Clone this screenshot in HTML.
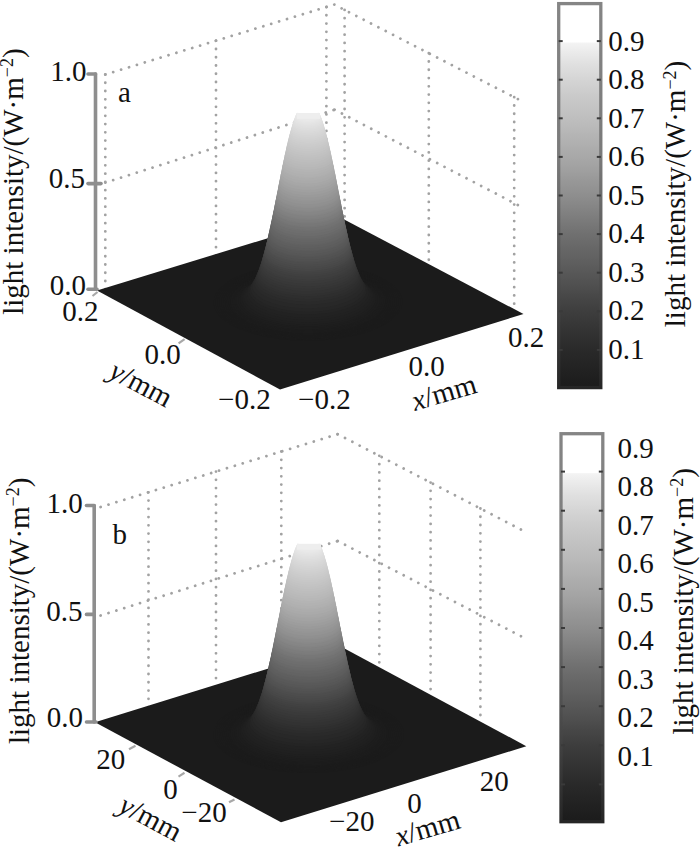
<!DOCTYPE html>
<html><head><meta charset="utf-8"><style>
html,body{margin:0;padding:0;background:#fff;}
body{width:700px;height:848px;overflow:hidden;}
svg{display:block;}
text{font-family:"Liberation Serif", serif;font-size:29px;fill:#111;}
.dt{stroke:#a2a2a2;stroke-width:2.8;stroke-dasharray:0.01 8.25;stroke-linecap:round;fill:none;}
.ax{stroke:#8e8e8e;stroke-width:3.6;stroke-linecap:round;}
.cb{stroke:#6a6a6a;stroke-width:3.4;}
.ft{stroke:#a8a8a8;stroke-width:2.2;}
.cbt{stroke:#3a3a3a;stroke-width:2;}
</style></head><body>
<svg width="700" height="848" viewBox="0 0 700 848">
<line x1="105.3" y1="74.5" x2="334.3" y2="4.6" class="dt"/>
<line x1="334.3" y1="4.6" x2="520" y2="100.2" class="dt"/>
<line x1="105.3" y1="182.6" x2="334.6" y2="109.7" class="dt"/>
<line x1="334.6" y1="109.7" x2="520.5" y2="206.4" class="dt"/>
<line x1="105.3" y1="74.5" x2="105.3" y2="290" class="dt"/>
<line x1="216" y1="40.7099" x2="216" y2="290" class="dt"/>
<line x1="326.4" y1="7.0114" x2="326.4" y2="290" class="dt"/>
<line x1="344.6" y1="9.90253" x2="344.6" y2="290" class="dt"/>
<line x1="428.8" y1="53.2494" x2="428.8" y2="300" class="dt"/>
<line x1="514.2" y1="97.2141" x2="514.2" y2="312" class="dt"/>
<path d="M97 290.5L280 389.5L523.5 314L338.5 216.5Z" fill="#1b1b1b"/>
<path d="M213.7 300.8L214.5 297L216.3 293.3L218.9 289.7L222.4 286.1L226.7 282.8L231.8 279.6L237.6 276.6L244.1 273.9L251.3 271.5L258.9 269.3L267.1 267.5L275.6 266L284.5 264.9L293.6 264.1L302.8 263.7L312 263.6L321.3 263.9L330.4 264.6L339.2 265.7L347.8 267.1L356 268.8L363.8 270.9L371 273.2L377.6 275.9L383.5 278.8L388.7 281.9L393.1 285.2L396.7 288.7L399.4 292.3L401.3 296L402.3 299.8L402.3 303.5L401.5 307.3L399.7 311L397.1 314.7L393.6 318.2L389.3 321.6L384.2 324.7L378.4 327.7L371.9 330.4L364.7 332.9L357.1 335L348.9 336.8L340.4 338.3L331.5 339.5L322.4 340.3L313.2 340.7L304 340.7L294.7 340.4L285.6 339.7L276.8 338.7L268.2 337.3L260 335.5L252.2 333.5L245 331.1L238.4 328.5L232.5 325.6L227.3 322.5L222.9 319.1L219.3 315.7L216.6 312.1L214.7 308.3L213.7 304.6Z" fill="#1b1b1b"/>
<path d="M215.6 300.8L216.4 297.1L218.1 293.5L220.7 289.9L224.1 286.4L228.3 283.1L233.3 280L239 277.1L245.4 274.5L252.4 272.1L259.9 270L267.9 268.2L276.3 266.7L284.9 265.6L293.8 264.8L302.9 264.4L312 264.4L321 264.7L329.9 265.3L338.6 266.4L347 267.8L355.1 269.5L362.6 271.5L369.7 273.8L376.2 276.4L382 279.2L387.1 282.3L391.4 285.5L394.9 288.9L397.6 292.5L399.4 296.1L400.4 299.8L400.4 303.5L399.6 307.2L397.9 310.9L395.3 314.4L391.9 317.9L387.7 321.2L382.7 324.3L377 327.2L370.6 329.8L363.6 332.2L356.1 334.3L348.1 336.1L339.7 337.6L331.1 338.7L322.2 339.5L313.1 339.9L304 340L295 339.6L286.1 339L277.4 337.9L269 336.6L260.9 334.9L253.4 332.8L246.3 330.5L239.8 327.9L234 325.1L228.9 322L224.6 318.8L221.1 315.4L218.4 311.8L216.6 308.2L215.6 304.5Z" fill="#1b1b1b"/>
<path d="M217.4 300.8L218.3 297.2L219.9 293.6L222.5 290.1L225.8 286.7L230 283.5L234.9 280.5L240.5 277.6L246.7 275L253.5 272.7L260.9 270.6L268.7 268.9L276.9 267.4L285.4 266.3L294.1 265.6L303 265.2L311.9 265.1L320.7 265.4L329.5 266.1L338 267.1L346.2 268.4L354.1 270.1L361.5 272.1L368.4 274.4L374.8 276.9L380.5 279.7L385.4 282.7L389.7 285.8L393.1 289.2L395.8 292.7L397.6 296.2L398.5 299.8L398.6 303.5L397.7 307.1L396.1 310.7L393.5 314.1L390.2 317.5L386 320.8L381.1 323.8L375.5 326.6L369.3 329.2L362.5 331.6L355.1 333.7L347.3 335.4L339.1 336.8L330.6 337.9L321.9 338.7L313 339.1L304.1 339.2L295.3 338.9L286.5 338.2L278 337.2L269.8 335.8L261.9 334.2L254.5 332.2L247.6 329.9L241.2 327.4L235.5 324.6L230.6 321.6L226.3 318.4L222.9 315.1L220.2 311.6L218.4 308.1L217.5 304.4Z" fill="#1b1b1b"/>
<path d="M219.3 300.8L220.1 297.3L221.8 293.8L224.3 290.3L227.5 287L231.6 283.9L236.4 280.9L241.9 278.1L248 275.6L254.7 273.3L261.9 271.2L269.5 269.5L277.6 268.1L285.9 267L294.4 266.3L303.1 265.9L311.8 265.9L320.5 266.2L329 266.8L337.4 267.8L345.4 269.1L353.1 270.7L360.4 272.7L367.2 274.9L373.4 277.4L378.9 280.1L383.8 283L388 286.2L391.4 289.4L393.9 292.8L395.7 296.3L396.6 299.8L396.7 303.4L395.9 306.9L394.2 310.4L391.7 313.9L388.5 317.2L384.4 320.3L379.6 323.3L374.1 326.1L368 328.7L361.3 330.9L354.1 333L346.5 334.7L338.4 336.1L330.1 337.2L321.6 337.9L312.9 338.3L304.2 338.4L295.5 338.1L287 337.4L278.6 336.4L270.6 335.1L262.9 333.5L255.6 331.5L248.8 329.3L242.6 326.8L237.1 324.1L232.2 321.2L228 318L224.6 314.8L222.1 311.4L220.3 307.9L219.4 304.4Z" fill="#1b1b1b"/>
<path d="M221.2 300.8L222 297.3L223.6 293.9L226 290.5L229.3 287.3L233.2 284.2L237.9 281.3L243.3 278.6L249.3 276.1L255.8 273.8L262.9 271.9L270.4 270.2L278.2 268.8L286.4 267.7L294.7 267L303.2 266.6L311.7 266.6L320.2 266.9L328.6 267.5L336.7 268.5L344.6 269.8L352.2 271.4L359.3 273.3L365.9 275.4L372 277.9L377.4 280.5L382.2 283.4L386.3 286.4L389.6 289.7L392.1 293L393.8 296.4L394.7 299.8L394.8 303.3L394 306.8L392.4 310.2L390 313.6L386.7 316.8L382.8 319.9L378.1 322.8L372.7 325.5L366.7 328L360.2 330.3L353.1 332.3L345.6 333.9L337.8 335.3L329.6 336.4L321.3 337.1L312.8 337.5L304.3 337.5L295.8 337.2L287.4 336.6L279.3 335.6L271.4 334.3L263.8 332.7L256.7 330.9L250.1 328.7L244 326.2L238.6 323.6L233.8 320.7L229.7 317.7L226.4 314.5L223.9 311.1L222.2 307.7L221.3 304.3Z" fill="#1b1b1b"/>
<path d="M223.1 300.8L223.9 297.4L225.5 294L227.8 290.7L231 287.6L234.9 284.5L239.4 281.7L244.7 279L250.5 276.6L257 274.4L263.9 272.4L271.2 270.8L278.9 269.5L286.8 268.4L295 267.7L303.3 267.3L311.6 267.3L319.9 267.6L328.1 268.2L336.1 269.1L343.8 270.4L351.2 272L358.2 273.8L364.7 276L370.6 278.3L375.9 280.9L380.6 283.7L384.6 286.7L387.8 289.9L390.3 293.1L392 296.4L392.8 299.8L392.9 303.2L392.1 306.6L390.5 310L388.2 313.3L385 316.4L381.1 319.4L376.6 322.3L371.3 325L365.5 327.4L359 329.6L352.1 331.5L344.8 333.2L337.1 334.5L329.2 335.6L321 336.3L312.7 336.7L304.4 336.7L296.1 336.4L287.9 335.8L279.9 334.8L272.2 333.6L264.8 332L257.8 330.2L251.3 328L245.4 325.7L240.1 323.1L235.4 320.2L231.4 317.3L228.2 314.1L225.7 310.9L224 307.5L223.2 304.2Z" fill="#1b1b1b"/>
<path d="M225 300.7L225.8 297.4L227.3 294.1L229.6 290.9L232.7 287.8L236.5 284.8L241 282L246.1 279.4L251.8 277.1L258.1 274.9L264.8 273L272 271.4L279.5 270.1L287.3 269.1L295.3 268.4L303.4 268L311.5 268L319.7 268.3L327.7 268.9L335.5 269.8L343 271L350.3 272.5L357.1 274.4L363.4 276.4L369.2 278.8L374.4 281.3L379 284.1L382.9 287L386 290L388.4 293.2L390.1 296.5L390.9 299.8L391 303.1L390.2 306.4L388.7 309.7L386.4 312.9L383.3 316L379.5 319L375 321.8L369.9 324.4L364.2 326.8L357.9 328.9L351.2 330.8L344 332.4L336.5 333.7L328.7 334.7L320.7 335.4L312.6 335.8L304.5 335.8L296.3 335.6L288.3 334.9L280.5 334L273 332.8L265.7 331.3L258.9 329.4L252.6 327.4L246.8 325L241.6 322.5L237 319.7L233.1 316.8L230 313.8L227.6 310.6L225.9 307.3L225.1 304Z" fill="#1b1b1b"/>
<path d="M226.9 300.6L227.6 297.3L229.1 294.1L231.4 291L234.4 288L238.1 285.1L242.5 282.4L247.5 279.8L253.1 277.5L259.2 275.4L265.8 273.5L272.8 272L280.2 270.7L287.8 269.7L295.6 269L303.5 268.7L311.5 268.6L319.4 268.9L327.2 269.5L334.9 270.4L342.2 271.6L349.3 273.1L355.9 274.9L362.1 276.9L367.8 279.2L372.9 281.7L377.4 284.3L381.2 287.2L384.3 290.2L386.6 293.3L388.2 296.5L389 299.7L389.1 303L388.4 306.2L386.9 309.4L384.6 312.5L381.6 315.6L377.9 318.5L373.5 321.2L368.5 323.7L362.9 326.1L356.8 328.2L350.2 330L343.2 331.6L335.8 332.9L328.2 333.9L320.4 334.5L312.5 334.9L304.5 334.9L296.6 334.7L288.8 334.1L281.1 333.2L273.8 332L266.7 330.5L260.1 328.7L253.9 326.7L248.2 324.4L243.1 321.9L238.6 319.2L234.8 316.4L231.7 313.4L229.4 310.3L227.8 307.1L227 303.8Z" fill="#1b1b1b"/>
<path d="M228.8 300.4L229.5 297.3L231 294.2L233.2 291.1L236.1 288.1L239.7 285.3L244 282.7L248.9 280.2L254.4 277.9L260.4 275.8L266.8 274L273.6 272.5L280.8 271.2L288.2 270.3L295.9 269.6L303.6 269.3L311.4 269.2L319.1 269.5L326.8 270.1L334.2 271L341.4 272.1L348.3 273.6L354.8 275.3L360.9 277.3L366.4 279.5L371.4 282L375.7 284.6L379.5 287.4L382.5 290.3L384.8 293.3L386.3 296.4L387.2 299.6L387.2 302.8L386.5 305.9L385 309.1L382.8 312.1L379.9 315.1L376.3 317.9L372 320.6L367.1 323L361.6 325.3L355.6 327.4L349.2 329.2L342.4 330.7L335.2 332L327.8 332.9L320.1 333.6L312.4 333.9L304.6 334L296.9 333.7L289.2 333.1L281.8 332.3L274.6 331.1L267.7 329.6L261.2 327.9L255.1 325.9L249.6 323.7L244.6 321.3L240.3 318.6L236.5 315.9L233.5 312.9L231.2 309.9L229.7 306.8L228.8 303.6Z" fill="#1b1b1b"/>
<path d="M230.7 300.2L231.4 297.2L232.8 294.1L235 291.1L237.8 288.2L241.4 285.5L245.6 282.9L250.3 280.4L255.7 278.2L261.5 276.2L267.8 274.5L274.5 273L281.5 271.7L288.7 270.8L296.2 270.2L303.7 269.8L311.3 269.8L318.9 270L326.3 270.6L333.6 271.5L340.6 272.6L347.4 274L353.7 275.7L359.6 277.7L365 279.8L369.9 282.2L374.1 284.8L377.7 287.5L380.7 290.3L382.9 293.3L384.5 296.3L385.3 299.4L385.3 302.5L384.6 305.6L383.2 308.6L381 311.6L378.2 314.5L374.6 317.3L370.4 319.9L365.7 322.3L360.3 324.5L354.5 326.5L348.2 328.3L341.5 329.8L334.5 331L327.3 332L319.8 332.6L312.3 332.9L304.7 333L297.1 332.7L289.7 332.2L282.4 331.3L275.4 330.1L268.6 328.7L262.3 327L256.4 325.1L251 322.9L246.1 320.6L241.9 318L238.3 315.3L235.3 312.4L233.1 309.5L231.5 306.4L230.7 303.3Z" fill="#1c1c1c"/>
<path d="M232.6 300L233.3 296.9L234.7 294L236.8 291.1L239.6 288.2L243 285.6L247.1 283L251.7 280.7L256.9 278.5L262.6 276.5L268.8 274.8L275.3 273.4L282.1 272.2L289.2 271.2L296.4 270.6L303.8 270.3L311.2 270.2L318.6 270.5L325.9 271L333 271.9L339.8 273L346.4 274.4L352.6 276L358.3 277.9L363.6 280L368.4 282.4L372.5 284.9L376 287.5L378.9 290.3L381.1 293.2L382.6 296.1L383.4 299.1L383.4 302.2L382.7 305.2L381.3 308.2L379.2 311.1L376.4 313.9L373 316.6L368.9 319.1L364.3 321.5L359.1 323.7L353.4 325.6L347.2 327.3L340.7 328.8L333.9 330L326.8 330.9L319.6 331.5L312.2 331.9L304.8 331.9L297.4 331.6L290.1 331.1L283 330.3L276.2 329.1L269.6 327.7L263.4 326.1L257.7 324.2L252.4 322.1L247.6 319.8L243.5 317.3L240 314.6L237.1 311.9L234.9 309L233.4 306L232.6 303Z" fill="#1c1c1c"/>
<path d="M234.5 299.6L235.1 296.6L236.5 293.7L238.5 290.9L241.3 288.2L244.6 285.5L248.6 283.1L253.2 280.8L258.2 278.6L263.8 276.7L269.8 275.1L276.1 273.6L282.8 272.5L289.7 271.6L296.7 271L303.9 270.6L311.1 270.6L318.3 270.8L325.4 271.4L332.4 272.2L339 273.3L345.4 274.7L351.5 276.3L357.1 278.1L362.2 280.2L366.8 282.4L370.9 284.9L374.3 287.4L377.1 290.1L379.3 293L380.7 295.8L381.5 298.8L381.5 301.7L380.9 304.7L379.5 307.6L377.5 310.4L374.7 313.2L371.4 315.8L367.4 318.3L362.8 320.6L357.8 322.7L352.2 324.6L346.2 326.3L339.9 327.7L333.2 328.8L326.3 329.7L319.3 330.4L312.1 330.7L304.9 330.7L297.7 330.5L290.6 329.9L283.6 329.1L277 328L270.6 326.7L264.5 325.1L258.9 323.2L253.8 321.2L249.2 318.9L245.1 316.5L241.7 313.9L238.9 311.2L236.7 308.4L235.3 305.5L234.5 302.5Z" fill="#1c1c1c"/>
<path d="M236.4 299.1L237 296.2L238.3 293.4L240.3 290.6L243 288L246.3 285.4L250.1 283L254.6 280.7L259.5 278.7L264.9 276.8L270.7 275.2L276.9 273.8L283.4 272.7L290.1 271.8L297 271.2L304 270.9L311.1 270.8L318.1 271.1L325 271.6L331.7 272.4L338.2 273.5L344.5 274.8L350.3 276.4L355.8 278.2L360.8 280.2L365.3 282.4L369.3 284.7L372.6 287.2L375.4 289.9L377.4 292.6L378.9 295.4L379.6 298.3L379.6 301.2L379 304L377.7 306.9L375.7 309.6L373 312.3L369.7 314.9L365.9 317.3L361.4 319.5L356.5 321.6L351.1 323.4L345.3 325.1L339.1 326.5L332.6 327.6L325.9 328.5L319 329.1L312 329.4L304.9 329.4L297.9 329.2L291 328.7L284.3 327.9L277.8 326.8L271.5 325.5L265.7 323.9L260.2 322.1L255.2 320.1L250.7 317.9L246.7 315.5L243.4 313L240.6 310.4L238.6 307.6L237.1 304.8L236.4 302Z" fill="#1d1d1d"/>
<path d="M238.3 298.4L238.9 295.6L240.2 292.9L242.1 290.2L244.7 287.6L247.9 285.1L251.7 282.8L256 280.6L260.8 278.6L266.1 276.8L271.7 275.2L277.8 273.8L284.1 272.7L284.7 272.6L291.1 271.8L297.6 271.2L304.2 270.9L310.9 270.8L317.5 271.1L324.1 271.6L330.5 272.3L336.6 273.3L343.5 274.8L349.2 276.3L354.6 278.1L359.4 280L363.8 282.2L367.7 284.5L370.9 286.9L373.6 289.5L375.6 292.2L377 294.9L377.7 297.7L377.7 300.5L377.1 303.3L375.8 306L373.9 308.7L371.3 311.3L368.1 313.8L364.3 316.1L360 318.3L355.2 320.3L349.9 322.1L344.3 323.7L338.2 325.1L331.9 326.2L325.4 327L318.7 327.6L311.9 327.9L305 328L298.2 327.7L291.5 327.2L284.9 326.5L278.6 325.4L272.5 324.1L266.8 322.6L261.4 320.9L256.6 318.9L252.2 316.8L248.3 314.5L245.1 312L242.4 309.4L240.4 306.8L239 304L238.3 301.2Z" fill="#1d1d1d"/>
<path d="M240.1 297.6L240.8 294.9L242 292.2L243.9 289.6L246.4 287.1L249.5 284.6L253.2 282.4L257.4 280.2L263.3 277.8L268.3 276L273.7 274.5L279.4 273.3L285.4 272.2L291.6 271.4L297.9 270.9L304.3 270.6L310.8 270.5L317.3 270.8L323.6 271.2L329.8 272L335.9 273L341.6 274.2L347 275.6L352 277.3L353.3 277.8L356.6 279.1L358 279.7L362.3 281.8L366 284L369.2 286.4L371.8 288.9L373.8 291.5L375.1 294.2L375.8 296.9L375.9 299.6L375.2 302.3L374 305L372.1 307.6L369.6 310.1L366.5 312.5L362.8 314.8L358.6 317L353.9 318.9L348.8 320.7L343.3 322.2L337.4 323.5L331.3 324.6L324.9 325.4L318.4 326L311.8 326.3L305.1 326.3L298.5 326.1L291.9 325.6L285.5 324.9L279.4 323.8L273.5 322.6L267.9 321.1L262.7 319.4L258 317.5L253.7 315.4L250 313.2L246.8 310.8L244.2 308.3L242.2 305.7L240.9 303L240.2 300.3Z" fill="#1e1e1e"/>
<path d="M242 296.5L242.6 293.9L243.9 291.3L245.7 288.8L248.1 286.3L251.2 283.9L254.7 281.7L256.2 280.8L260.2 278.8L264.6 277L269.5 275.3L274.7 273.9L280.2 272.6L286 271.6L292 270.8L298.2 270.3L304.4 270L310.7 270L317 270.2L323.2 270.6L329.2 271.4L335.1 272.3L340.6 273.5L345.9 274.9L350.8 276.5L355.2 278.3L359.3 280.3L360.8 281.1L364.4 283.3L367.5 285.6L370 288.1L371.9 290.6L373.2 293.2L373.9 295.8L374 298.5L373.4 301.1L372.1 303.7L370.3 306.3L367.9 308.7L364.8 311.1L361.3 313.3L357.2 315.4L352.7 317.3L347.7 319L342.3 320.5L336.6 321.7L330.6 322.8L324.4 323.6L318.1 324.1L311.7 324.4L305.2 324.5L298.7 324.3L292.4 323.8L286.2 323L280.1 322.1L274.4 320.8L269 319.4L264 317.7L259.4 315.9L255.2 313.9L251.6 311.7L248.5 309.4L246 306.9L244.1 304.4L242.8 301.8L242.1 299.2Z" fill="#1f1f1f"/>
<path d="M243.9 295.2L244.5 292.7L245.7 290.1L247.5 287.7L249.9 285.3L251.6 283.9L254.4 281.7L257.8 279.6L261.6 277.7L265.9 275.9L270.6 274.3L275.7 272.9L281 271.6L286.7 270.7L292.5 269.9L298.5 269.4L304.6 269.1L310.7 269.1L316.7 269.3L322.7 269.7L328.6 270.4L334.3 271.4L339.7 272.5L344.8 273.9L349.5 275.4L353.9 277.2L357.8 279.1L361.2 281.1L364.1 283.3L365.8 284.6L368.2 287L370.1 289.4L371.4 292L372 294.5L372.1 297.1L371.5 299.7L370.3 302.2L368.5 304.7L366.1 307L363.2 309.3L359.8 311.5L355.8 313.5L351.4 315.3L346.5 317L341.3 318.5L335.8 319.7L330 320.7L324 321.5L317.8 322L311.6 322.3L305.3 322.4L299 322.1L292.8 321.7L286.8 321L280.9 320L275.4 318.8L270.1 317.4L265.2 315.8L260.8 314L256.7 312.1L253.2 309.9L250.2 307.7L247.8 305.3L245.9 302.9L244.6 300.4L244 297.8Z" fill="#202020"/>
<path d="M245.8 293.6L246.4 291.1L247.5 288.6L249.3 286.2L251.6 283.9L253.1 282.5L255.8 280.3L259.1 278.3L262.9 276.4L267 274.6L271.6 273.1L276.5 271.7L281.7 270.5L287.2 269.6L292.9 268.8L298.7 268.3L304.6 268L310.6 268L316.5 268.2L322.3 268.7L328 269.3L333.6 270.2L338.8 271.3L343.8 272.7L348.4 274.2L352.6 275.9L356.4 277.7L359.8 279.7L362.6 281.9L364.1 283.3L366.5 285.6L368.3 288L369.5 290.4L370.1 292.9L370.2 295.4L369.6 297.9L368.5 300.3L366.7 302.7L364.4 305.1L361.6 307.3L358.2 309.4L354.4 311.3L350.1 313.1L345.4 314.7L340.3 316.1L335 317.3L329.3 318.3L323.5 319.1L317.5 319.6L311.4 319.9L305.3 319.9L299.3 319.7L293.3 319.3L287.4 318.6L281.7 317.6L276.3 316.5L271.2 315.1L266.5 313.6L262.1 311.8L258.2 309.9L254.8 307.9L251.9 305.7L249.5 303.4L247.7 301L246.5 298.6L245.9 296.1Z" fill="#212121"/>
<path d="M247.5 291.9L248 289.5L249.1 287.1L250.8 284.7L252.6 282.6L254.8 280.4L257.5 278.3L260.6 276.4L264.3 274.5L268.3 272.8L272.7 271.3L277.5 270L282.6 268.8L287.9 267.9L293.4 267.2L299 266.7L304.7 266.4L310.5 266.4L316.2 266.6L321.9 267L327.4 267.7L332.8 268.6L337.9 269.6L342.7 270.9L347.1 272.4L351.2 274L354.9 275.8L358.1 277.8L360.9 279.8L363.1 282L364.9 284.1L366.7 286.4L367.9 288.8L368.5 291.2L368.5 293.6L368 296.1L366.9 298.5L365.2 300.8L362.9 303L360.2 305.2L356.9 307.2L353.1 309.1L349 310.9L344.4 312.4L339.5 313.8L334.3 315L328.8 316L323.1 316.7L317.3 317.2L311.4 317.5L305.4 317.5L299.5 317.3L293.7 316.9L288 316.2L282.4 315.3L277.2 314.2L272.2 312.8L267.6 311.3L263.4 309.6L259.6 307.8L256.2 305.8L253.4 303.6L251.1 301.4L249.3 299.1L248.1 296.7L247.5 294.3Z" fill="#222222"/>
<path d="M249.4 289.5L249.9 287.2L251 284.9L252.6 282.6L254 280.7L256.1 278.6L258.7 276.6L261.8 274.6L265.3 272.8L269.3 271.2L273.6 269.7L278.2 268.4L283.2 267.3L288.4 266.4L293.7 265.7L299.2 265.2L304.8 265L310.4 264.9L316 265.1L321.6 265.5L327 266.2L332.2 267L337.1 268.1L341.8 269.3L346.2 270.8L350.2 272.4L353.8 274.1L356.9 276L359.6 278L361.8 280.1L363.5 282.3L364.8 284.2L366 286.6L366.6 288.9L366.6 291.2L366.1 293.6L365 295.9L363.4 298.2L361.2 300.4L358.5 302.4L355.4 304.4L351.7 306.3L347.7 307.9L343.3 309.5L338.5 310.8L333.4 311.9L328.1 312.9L322.6 313.6L317 314.1L311.3 314.3L305.5 314.4L299.8 314.2L294.1 313.7L288.6 313.1L283.2 312.2L278.1 311.1L273.3 309.8L268.9 308.4L264.8 306.7L261.1 304.9L257.9 303L255.1 300.9L252.9 298.8L251.2 296.5L250 294.2L249.4 291.9Z" fill="#242424"/>
<path d="M250.8 287.5L251.3 285.2L252.4 282.9L254 280.3L255.5 278.2L257.6 276.1L260.1 274.1L263.1 272.3L266.6 270.5L270.4 268.9L274.6 267.5L279.1 266.2L283.9 265.1L288.9 264.3L294.1 263.6L299.5 263.1L304.9 262.9L310.4 262.8L315.8 263L321.2 263.4L326.4 264.1L331.5 264.9L336.3 265.9L340.8 267.1L345.1 268.5L349 270.1L352.5 271.8L355.5 273.6L358.1 275.6L360.2 277.6L361.9 279.7L363.5 282.3L364.6 284.6L365.2 286.9L365.2 289.2L364.7 291.4L363.6 293.7L362 295.9L359.9 298L357.3 300.1L354.2 302L350.7 303.8L346.7 305.5L342.4 306.9L337.8 308.2L332.8 309.3L327.6 310.3L322.3 311L316.8 311.4L311.2 311.7L305.6 311.7L300 311.5L294.4 311.1L289 310.5L283.8 309.6L278.9 308.6L274.2 307.3L269.8 305.9L265.8 304.3L262.2 302.5L259.1 300.6L256.4 298.6L254.2 296.5L252.5 294.3L251.4 292.1L250.8 289.8Z" fill="#262626"/>
<path d="M252.4 284.8L252.9 282.5L254 280.3L255.6 277.3L257.1 275.3L259.1 273.2L261.5 271.3L264.5 269.5L267.8 267.8L271.5 266.3L275.6 264.9L280 263.6L284.6 262.6L289.5 261.7L294.6 261.1L299.7 260.6L305 260.4L310.3 260.4L315.6 260.6L320.8 260.9L325.9 261.5L330.8 262.3L335.4 263.3L339.9 264.5L344 265.9L347.7 267.4L351.1 269L354.1 270.8L356.6 272.7L358.7 274.7L360.3 276.8L361.9 279.7L363 281.9L363.5 284.1L363.6 286.4L363.1 288.6L362 290.8L360.5 292.9L358.4 295L355.9 297L352.9 298.9L349.4 300.6L345.6 302.2L341.4 303.6L336.9 304.9L332.1 306L327.1 306.9L321.9 307.5L316.5 308L311.1 308.3L305.6 308.3L300.2 308.1L294.8 307.7L289.6 307.1L284.5 306.2L279.7 305.2L275.2 304L270.9 302.6L267 301.1L263.5 299.4L260.5 297.5L257.9 295.6L255.8 293.5L254.1 291.4L253 289.2L252.5 287Z" fill="#282828"/>
<path d="M254.1 281.6L254.6 279.5L255.7 277L256.7 274.9L258.2 272.9L260.2 270.9L262.6 269.1L265.4 267.3L268.7 265.6L272.3 264.1L276.3 262.7L280.6 261.5L285.1 260.5L289.9 259.7L294.9 259L299.9 258.6L305.1 258.4L310.3 258.3L315.4 258.5L320.5 258.9L325.5 259.5L330.3 260.3L334.8 261.2L339.2 262.4L343.2 263.7L346.9 265.2L350.2 266.8L353.1 268.6L355.6 270.4L357.6 272.4L359.1 274.4L360.2 276.4L361.3 278.9L361.9 281L361.9 283.2L361.4 285.4L360.4 287.5L358.9 289.6L356.9 291.6L354.5 293.5L351.5 295.3L348.2 297L344.5 298.6L340.4 299.9L336 301.2L331.4 302.2L326.5 303.1L321.4 303.7L316.3 304.2L311 304.4L305.7 304.4L300.4 304.3L295.2 303.9L290.1 303.3L285.2 302.5L280.6 301.5L276.1 300.3L272 298.9L268.3 297.4L264.9 295.8L261.9 294L259.4 292.1L257.3 290.1L255.7 288.1L254.7 285.9L254.1 283.8Z" fill="#2a2a2a"/>
<path d="M255.3 279.1L255.7 277L257.6 272.8L259.1 270.8L261 268.9L263.4 267.1L266.2 265.3L269.4 263.7L273 262.2L276.9 260.9L281.1 259.7L285.5 258.7L290.2 257.9L295.1 257.2L300.1 256.8L305.1 256.6L310.2 256.5L315.3 256.7L320.3 257.1L325.2 257.7L329.9 258.4L334.4 259.4L338.6 260.5L342.6 261.8L346.2 263.3L349.4 264.9L352.3 266.6L354.7 268.4L356.7 270.3L358.2 272.3L359.2 274.3L360.2 276.4L360.7 278.5L360.7 280.7L360.3 282.8L359.3 284.9L357.8 286.9L355.8 288.9L353.4 290.7L350.6 292.5L347.3 294.2L343.7 295.7L339.7 297L335.4 298.2L330.9 299.3L326.1 300.1L321.1 300.7L316.1 301.2L310.9 301.4L305.7 301.5L300.6 301.3L295.5 300.9L290.5 300.3L285.7 299.5L281.2 298.5L276.8 297.4L272.8 296.1L269.1 294.6L265.8 293L262.9 291.2L260.4 289.4L258.4 287.4L256.9 285.4L255.8 283.3L255.3 281.2Z" fill="#2c2c2c"/>
<path d="M256.2 277L256.7 274.9L257.6 272.6L258.6 270.6L260 268.6L261.9 266.8L264.2 264.9L266.9 263.2L270.1 261.6L273.6 260.2L277.4 258.9L281.6 257.7L286 256.7L290.6 255.9L295.3 255.3L300.2 254.9L305.2 254.6L310.2 254.6L315.1 254.8L320 255.2L324.8 255.7L329.5 256.5L333.9 257.4L338 258.5L341.9 259.8L345.5 261.2L348.7 262.8L351.5 264.5L353.9 266.2L355.8 268.1L357.3 270.1L358.3 272.1L359.2 274.3L359.7 276.4L359.8 278.5L359.3 280.5L358.4 282.6L356.9 284.6L355 286.5L352.6 288.4L349.8 290.1L346.6 291.7L343 293.2L339.1 294.6L334.9 295.7L330.5 296.7L325.8 297.6L320.9 298.2L315.9 298.6L310.9 298.9L305.8 298.9L300.7 298.7L295.7 298.3L290.8 297.8L286.1 297L281.6 296L277.4 294.9L273.4 293.6L269.8 292.2L266.6 290.6L263.7 288.9L261.3 287L259.3 285.1L257.8 283.1L256.8 281.1L256.3 279Z" fill="#2e2e2e"/>
<path d="M257.2 274.7L257.6 272.6L258.3 270.8L259.3 268.8L260.7 266.9L262.5 265L264.8 263.2L267.5 261.6L270.6 260L274.1 258.5L277.9 257.2L281.9 256.1L286.3 255.1L290.8 254.3L295.5 253.7L300.3 253.3L305.2 253.1L310.1 253.1L315 253.2L319.9 253.6L324.6 254.2L329.2 254.9L333.5 255.8L337.6 256.9L341.5 258.2L345 259.6L348.1 261.1L350.9 262.8L353.2 264.5L355.1 266.4L356.6 268.3L357.6 270.3L358.3 272.1L358.8 274.1L358.8 276.1L358.4 278.2L357.4 280.2L356 282.1L354.1 284L351.8 285.8L349.1 287.6L345.9 289.2L342.4 290.6L338.6 291.9L334.4 293.1L330 294.1L325.4 294.9L320.7 295.5L315.8 295.9L310.8 296.1L305.8 296.2L300.9 296L296 295.6L291.2 295.1L286.5 294.3L282.1 293.4L278 292.3L274.1 291L270.5 289.6L267.3 288L264.5 286.3L262.1 284.5L260.2 282.7L258.7 280.7L257.7 278.7L257.2 276.7Z" fill="#303030"/>
<path d="M257.9 272.8L258.3 270.8L259.3 268.3L260.2 266.3L261.5 264.4L263.4 262.6L265.6 260.8L268.3 259.2L271.3 257.6L274.7 256.2L278.4 255L282.4 253.8L286.7 252.9L291.1 252.1L295.7 251.5L300.5 251.1L305.3 250.9L310.1 250.8L314.9 251L319.7 251.4L324.3 251.9L328.8 252.7L333 253.6L337.1 254.6L340.8 255.9L344.3 257.2L347.4 258.8L350.1 260.4L352.4 262.1L354.2 263.9L355.7 265.8L356.6 267.7L357.6 270.3L358.1 272.3L358.1 274.3L357.7 276.3L356.7 278.3L355.3 280.2L353.5 282.1L351.2 283.9L348.5 285.5L345.4 287.1L341.9 288.6L338.1 289.9L334.1 291L329.7 292L325.2 292.8L320.5 293.4L315.7 293.8L310.8 294L305.9 294L301 293.9L296.1 293.5L291.4 292.9L286.8 292.2L282.5 291.3L278.4 290.2L274.5 288.9L271 287.5L267.9 286L265.1 284.3L262.8 282.6L260.9 280.7L259.4 278.8L258.4 276.8L257.9 274.8Z" fill="#323232"/>
<path d="M258.8 270.2L259.3 268.3L260 266.3L260.9 264.3L262.2 262.5L264 260.7L266.2 258.9L268.8 257.3L271.8 255.8L275.2 254.4L278.9 253.1L282.8 252L287 251.1L291.4 250.3L295.9 249.7L300.6 249.3L305.3 249.1L310.1 249.1L314.8 249.3L319.5 249.6L324.1 250.2L328.5 250.9L332.7 251.8L336.7 252.8L340.4 254L343.7 255.4L346.8 256.9L349.5 258.5L351.7 260.2L353.6 262L355 263.8L355.9 265.7L356.6 267.7L357.1 269.7L357.2 271.7L356.7 273.6L355.8 275.6L354.5 277.5L352.6 279.3L350.4 281.1L347.7 282.7L344.7 284.3L341.3 285.7L337.6 287L333.6 288.1L329.3 289L324.9 289.8L320.3 290.4L315.5 290.8L310.7 291L305.9 291.1L301.1 290.9L296.3 290.5L291.7 290L287.2 289.3L283 288.4L278.9 287.3L275.2 286L271.7 284.7L268.6 283.2L265.9 281.5L263.6 279.8L261.8 278L260.3 276.1L259.4 274.2L258.9 272.2Z" fill="#343434"/>
<path d="M259.5 268.2L260 266.3L260.7 264.2L261.6 262.3L262.9 260.4L264.7 258.7L266.8 257L269.4 255.3L272.4 253.8L275.7 252.5L279.3 251.2L283.2 250.1L287.3 249.2L291.6 248.5L296.1 247.9L300.7 247.5L305.4 247.3L310 247.2L314.7 247.4L319.3 247.8L323.8 248.3L328.2 249L332.3 249.9L336.2 250.9L339.9 252.1L343.2 253.5L346.2 254.9L348.8 256.5L351.1 258.2L352.9 259.9L354.3 261.8L355.2 263.6L355.9 265.7L356.4 267.7L356.5 269.6L356 271.6L355.1 273.5L353.8 275.3L352 277.1L349.8 278.9L347.2 280.5L344.2 282L340.8 283.4L337.1 284.7L333.2 285.8L329 286.7L324.6 287.5L320.1 288.1L315.4 288.5L310.7 288.7L305.9 288.7L301.2 288.6L296.5 288.2L291.9 287.7L287.5 286.9L283.3 286.1L279.3 285L275.6 283.8L272.3 282.4L269.2 280.9L266.5 279.3L264.3 277.6L262.4 275.8L261 274L260.1 272.1L259.6 270.1Z" fill="#363636"/>
<path d="M260.2 266.1L260.7 264.2L261.4 262L262.2 260.1L263.6 258.3L265.3 256.6L267.5 254.9L270 253.3L272.9 251.8L276.2 250.5L279.7 249.2L283.5 248.2L287.6 247.3L291.9 246.5L296.3 245.9L300.8 245.5L305.4 245.3L310 245.3L314.6 245.5L319.2 245.8L323.6 246.3L327.9 247L332 247.9L335.8 248.9L339.4 250.1L342.7 251.4L345.6 252.9L348.2 254.4L350.4 256.1L352.2 257.8L353.6 259.6L354.5 261.5L355.2 263.6L355.7 265.6L355.8 267.5L355.3 269.4L354.4 271.3L353.1 273.1L351.3 274.9L349.2 276.6L346.6 278.2L343.6 279.7L340.3 281.1L336.7 282.3L332.8 283.4L328.7 284.3L324.4 285.1L319.9 285.7L315.3 286.1L310.6 286.3L306 286.3L301.3 286.1L296.7 285.8L292.2 285.3L287.8 284.5L283.7 283.7L279.8 282.6L276.1 281.4L272.8 280.1L269.8 278.6L267.2 277L264.9 275.4L263.1 273.6L261.7 271.8L260.8 269.9L260.3 268Z" fill="#383838"/>
<path d="M260.9 263.9L261.4 262L262.1 259.7L262.9 257.9L264.2 256.1L265.9 254.4L268.1 252.7L270.6 251.1L273.4 249.7L276.6 248.4L280.1 247.2L283.9 246.1L287.9 245.2L292.1 244.5L296.4 243.9L300.9 243.5L305.4 243.3L310 243.3L314.5 243.4L319 243.8L323.3 244.3L327.6 245L331.6 245.8L335.4 246.9L338.9 248L342.2 249.3L345.1 250.7L347.6 252.3L349.8 253.9L351.6 255.6L352.9 257.4L353.8 259.2L354.5 261.5L355 263.3L355.1 265.2L354.6 267.1L353.8 269L352.4 270.8L350.7 272.5L348.5 274.2L346 275.8L343.1 277.3L339.8 278.6L336.3 279.9L332.5 280.9L328.4 281.8L324.1 282.6L319.7 283.2L315.2 283.6L310.6 283.8L306 283.8L301.4 283.6L296.8 283.3L292.4 282.8L288.1 282.1L284 281.2L280.2 280.2L276.6 279L273.3 277.7L270.4 276.2L267.8 274.7L265.6 273L263.8 271.3L262.4 269.5L261.5 267.6L261 265.8Z" fill="#3a3a3a"/>
<path d="M261.7 261.6L262.1 259.7L262.5 258.1L263.4 256.3L264.7 254.6L266.4 252.8L268.5 251.2L271 249.7L273.8 248.2L277 246.9L280.4 245.7L284.1 244.7L288.1 243.8L292.3 243.1L296.6 242.5L301 242.1L305.5 241.9L310 241.9L314.4 242L318.9 242.4L323.2 242.9L327.4 243.6L331.4 244.4L335.1 245.4L338.6 246.6L341.8 247.9L344.7 249.3L347.2 250.8L349.4 252.4L351.1 254.1L352.5 255.8L353.4 257.6L354.3 261.1L354.3 262.9L353.9 264.8L353.1 266.6L351.8 268.4L350.1 270.1L347.9 271.8L345.4 273.3L342.6 274.8L339.4 276.1L335.9 277.3L332.1 278.4L328.1 279.3L323.9 280L319.6 280.6L315.1 281L310.6 281.2L306 281.2L301.5 281L297 280.7L292.7 280.2L288.4 279.5L284.4 278.6L280.6 277.6L277.1 276.5L273.8 275.2L270.9 273.7L268.4 272.2L266.2 270.6L264.4 268.9L263.1 267.1L262.2 265.3L261.7 263.4Z" fill="#3c3c3c"/>
<path d="M262.1 260L262.5 258.1L263.2 255.7L264.1 253.9L265.3 252.2L267 250.5L269.1 248.9L271.5 247.4L274.3 246L277.4 244.7L280.8 243.5L284.5 242.5L288.4 241.6L292.5 240.9L296.7 240.3L301.1 239.9L305.5 239.7L309.9 239.7L314.3 239.9L318.7 240.2L323 240.7L327.1 241.4L331 242.2L334.7 243.2L338.1 244.3L341.3 245.6L344.1 247L346.6 248.5L348.7 250.1L350.5 251.7L351.8 253.5L352.7 255.2L353.4 257.6L353.8 259.5L353.9 261.3L353.5 263.1L352.6 265L351.3 266.7L349.6 268.4L347.5 270.1L345 271.6L342.2 273.1L339 274.4L335.6 275.6L331.9 276.6L327.9 277.5L323.7 278.2L319.4 278.8L315 279.2L310.5 279.4L306 279.4L301.6 279.2L297.1 278.9L292.8 278.4L288.6 277.7L284.6 276.9L280.9 275.9L277.4 274.7L274.2 273.4L271.3 272L268.8 270.5L266.6 268.9L264.9 267.2L263.5 265.4L262.6 263.6L262.2 261.8Z" fill="#3e3e3e"/>
<path d="M262.8 257.5L263.2 255.7L263.7 254.1L264.5 252.3L265.8 250.6L267.4 248.9L269.5 247.3L271.9 245.8L274.7 244.4L277.8 243.1L281.1 242L284.8 240.9L288.6 240.1L292.7 239.4L296.9 238.8L301.2 238.4L305.5 238.2L309.9 238.2L314.3 238.4L318.6 238.7L322.8 239.2L326.9 239.9L330.8 240.7L334.4 241.7L337.8 242.8L340.9 244L343.8 245.4L346.2 246.9L348.3 248.5L350 250.1L351.3 251.8L352.2 253.6L352.7 255.2L353.1 257L353.2 258.8L352.8 260.6L351.9 262.4L350.7 264.2L349 265.9L346.9 267.5L344.5 269L341.7 270.4L338.6 271.7L335.2 272.9L331.5 273.9L327.6 274.8L323.5 275.5L319.3 276L314.9 276.4L310.5 276.6L306.1 276.6L301.7 276.5L297.3 276.2L293 275.7L288.9 275L285 274.2L281.3 273.2L277.9 272L274.7 270.8L271.9 269.4L269.4 267.9L267.3 266.3L265.5 264.6L264.2 262.9L263.3 261.1L262.9 259.3Z" fill="#404040"/>
<path d="M263.3 255.8L263.7 254.1L264.2 252.4L265 250.6L266.2 248.9L267.9 247.3L269.9 245.7L272.3 244.2L275 242.8L278.1 241.5L281.4 240.4L285 239.4L288.8 238.5L292.8 237.8L297 237.3L301.2 236.9L305.5 236.7L309.9 236.7L314.2 236.8L318.5 237.2L322.6 237.7L326.7 238.3L330.5 239.1L334.1 240.1L337.5 241.2L340.6 242.4L343.4 243.8L345.8 245.3L347.9 246.8L349.6 248.4L350.9 250.1L351.7 251.9L352.2 253.6L352.7 255.4L352.7 257.1L352.3 258.9L351.5 260.7L350.2 262.4L348.6 264.1L346.5 265.7L344.1 267.2L341.3 268.6L338.2 269.9L334.9 271L331.2 272L327.4 272.9L323.3 273.6L319.1 274.2L314.8 274.5L310.5 274.7L306.1 274.8L301.7 274.6L297.4 274.3L293.2 273.8L289.1 273.1L285.2 272.3L281.6 271.3L278.2 270.2L275.1 269L272.2 267.6L269.8 266.1L267.7 264.5L266 262.9L264.7 261.2L263.8 259.4L263.3 257.6Z" fill="#424242"/>
<path d="M263.8 254.1L264.2 252.4L264.7 250.6L265.5 248.9L266.7 247.2L268.3 245.6L270.3 244L272.7 242.5L275.4 241.2L278.4 239.9L281.7 238.8L285.3 237.8L289 236.9L293 236.2L297.1 235.7L301.3 235.3L305.6 235.1L309.9 235.1L314.1 235.3L318.4 235.6L322.5 236.1L326.5 236.7L330.3 237.5L333.9 238.5L337.2 239.6L340.3 240.8L343 242.1L345.4 243.6L347.5 245.1L349.1 246.7L350.4 248.4L351.3 250.1L352.2 253.6L352.2 255.4L351.8 257.2L351 258.9L349.8 260.6L348.1 262.3L346.1 263.9L343.7 265.3L341 266.7L337.9 268L334.6 269.1L331 270.2L327.2 271L323.2 271.7L319 272.3L314.8 272.6L310.5 272.8L306.1 272.8L301.8 272.7L297.5 272.4L293.4 271.9L289.3 271.2L285.5 270.4L281.9 269.4L278.5 268.3L275.4 267.1L272.6 265.7L270.2 264.3L268.1 262.7L266.4 261.1L265.1 259.4L264.3 257.7L263.8 255.9Z" fill="#444444"/>
<path d="M264.3 252.4L264.7 250.6L265.1 248.8L265.9 247.1L267.1 245.5L268.7 243.8L270.7 242.3L273.1 240.8L275.7 239.5L278.7 238.2L282 237.1L285.5 236.1L289.2 235.3L293.2 234.6L297.2 234.1L301.4 233.7L305.6 233.5L309.9 233.5L314.1 233.7L318.3 234L322.3 234.5L326.3 235.1L330 235.9L333.6 236.8L336.9 237.9L339.9 239.1L342.6 240.5L345 241.9L347 243.4L348.7 245L349.9 246.7L350.8 248.4L351.3 250.1L351.7 251.9L351.7 253.6L351.3 255.4L350.5 257.1L349.3 258.8L347.7 260.4L345.7 262L343.3 263.5L340.6 264.8L337.6 266.1L334.3 267.2L330.7 268.2L327 269.1L323 269.8L318.9 270.3L314.7 270.7L310.4 270.9L306.1 270.9L301.9 270.7L297.6 270.4L293.5 269.9L289.5 269.3L285.7 268.5L282.1 267.5L278.8 266.4L275.7 265.2L273 263.9L270.6 262.4L268.5 260.9L266.9 259.3L265.6 257.6L264.7 255.9L264.3 254.1Z" fill="#474747"/>
<path d="M264.7 250.6L265.1 248.8L265.6 247L266.4 245.3L267.6 243.7L269.2 242.1L271.1 240.6L273.4 239.1L276.1 237.8L279 236.5L282.3 235.4L285.7 234.5L289.4 233.6L293.3 233L297.3 232.4L301.4 232.1L305.6 231.9L309.8 231.9L314 232L318.1 232.3L322.2 232.8L326.1 233.4L329.8 234.2L333.3 235.2L336.6 236.2L339.6 237.4L342.2 238.7L344.6 240.2L346.6 241.7L348.2 243.2L349.5 244.9L350.3 246.6L350.8 248.3L351.2 250.1L351.3 251.8L350.9 253.6L350.1 255.3L348.9 256.9L347.3 258.5L345.3 260.1L342.9 261.5L340.3 262.9L337.3 264.2L334 265.3L330.5 266.3L326.8 267.1L322.8 267.8L318.8 268.3L314.6 268.7L310.4 268.9L306.1 268.9L301.9 268.7L297.7 268.4L293.7 267.9L289.7 267.3L286 266.5L282.4 265.6L279.1 264.5L276.1 263.3L273.4 261.9L271 260.5L269 259L267.3 257.4L266.1 255.7L265.2 254L264.8 252.3Z" fill="#494949"/>
<path d="M265.2 248.7L265.6 247L266.1 245.2L266.8 243.5L268 241.9L269.6 240.3L271.5 238.8L273.8 237.4L276.4 236L279.4 234.8L282.5 233.7L286 232.7L289.6 231.9L297.4 230.7L301.5 230.4L305.7 230.2L309.8 230.2L313.9 230.3L318 230.6L322 231.1L325.9 231.7L329.5 232.5L333 233.4L336.2 234.5L339.2 235.7L341.9 237L344.2 238.4L346.2 239.9L347.8 241.4L349 243L349.9 244.7L350.8 248.3L350.8 250L350.4 251.7L349.6 253.4L348.4 255L346.8 256.6L344.9 258.2L342.6 259.6L339.9 260.9L337 262.2L333.7 263.3L330.3 264.3L326.6 265.1L322.7 265.8L318.7 266.3L314.6 266.6L310.4 266.8L306.2 266.9L302 266.7L297.9 266.4L293.8 265.9L289.9 265.3L286.2 264.5L282.7 263.6L279.4 262.5L276.4 261.3L273.8 260L271.4 258.6L269.4 257.1L267.8 255.5L266.5 253.8L265.7 252.2L265.2 250.4Z" fill="#4b4b4b"/>
<path d="M265.7 246.9L266.5 243.3L267.3 241.6L268.5 240L270 238.5L271.9 237L274.2 235.6L276.8 234.2L279.7 233L282.8 232L286.2 231L289.9 230.2L293.6 229.5L297.6 229L301.6 228.7L305.7 228.5L309.8 228.5L313.9 228.6L317.9 228.9L321.9 229.4L325.7 230L329.3 230.8L332.7 231.7L335.9 232.7L338.9 233.9L341.5 235.2L343.8 236.6L345.8 238L347.3 239.6L348.6 241.2L349.4 242.8L349.9 244.7L350.3 246.4L350.3 248.1L349.9 249.8L349.2 251.5L348 253.1L346.4 254.7L344.5 256.2L342.2 257.6L339.6 258.9L336.6 260.2L333.5 261.2L330 262.2L326.4 263L322.5 263.7L318.6 264.2L314.5 264.6L310.3 264.8L306.2 264.8L302.1 264.6L298 264.3L294 263.9L290.1 263.2L286.5 262.4L283 261.5L279.8 260.5L276.8 259.3L274.1 258L271.8 256.6L269.8 255.1L268.2 253.5L267 251.9L266.1 250.2L265.7 248.6Z" fill="#4d4d4d"/>
<path d="M266.2 245L266.5 243.3L266.8 242.3L267.5 240.7L268.7 239.1L270.2 237.5L272.1 236L274.4 234.6L277 233.3L279.8 232.1L283 231.1L286.4 230.1L290 229.3L293.7 228.6L297.6 228.1L301.6 227.8L305.7 227.6L309.8 227.6L313.8 227.7L317.9 228L321.8 228.5L325.6 229.1L329.2 229.9L332.6 230.8L335.8 231.8L338.7 233L341.3 234.3L343.6 235.6L345.5 237.1L347.1 238.6L348.3 240.2L349.2 241.9L349.6 243.5L349.8 244.5L349.8 246.2L349.5 247.8L348.7 249.5L347.5 251.1L346 252.7L344.1 254.2L341.8 255.6L339.2 256.9L336.3 258.1L333.2 259.2L329.8 260.1L326.1 260.9L322.4 261.6L318.4 262.1L314.4 262.5L310.3 262.7L306.2 262.7L302.1 262.5L298.1 262.2L294.1 261.8L290.3 261.1L286.7 260.4L283.3 259.5L280.1 258.4L277.1 257.2L274.5 255.9L272.2 254.6L270.2 253.1L268.7 251.5L267.4 249.9L266.6 248.3L266.2 246.6Z" fill="#4f4f4f"/>
<path d="M266.4 244L267.2 240.4L268 238.8L269.1 237.2L270.7 235.6L272.5 234.2L274.8 232.8L277.3 231.5L280.2 230.3L283.3 229.2L286.6 228.3L290.2 227.5L293.9 226.9L297.7 226.4L301.7 226L305.7 225.8L309.8 225.8L313.8 225.9L317.8 226.2L321.6 226.7L325.4 227.3L328.9 228.1L332.3 229L335.5 230L338.3 231.2L340.9 232.4L343.2 233.8L345.1 235.2L346.7 236.7L347.9 238.3L348.7 239.9L349.6 243.5L349.6 245.2L349.2 246.9L348.5 248.5L347.3 250.1L345.8 251.7L343.9 253.2L341.6 254.6L339 255.9L336.2 257.1L333 258.1L329.6 259.1L326 259.9L322.3 260.5L318.4 261.1L314.4 261.4L310.3 261.6L306.2 261.6L302.2 261.5L298.1 261.2L294.2 260.7L290.4 260.1L286.8 259.3L283.4 258.4L280.2 257.4L277.3 256.2L274.7 254.9L272.4 253.5L270.5 252.1L268.9 250.5L267.7 249L266.8 247.3L266.4 245.7Z" fill="#515151"/>
<path d="M266.9 242L267.2 240.4L267.7 238.4L268.5 236.8L269.6 235.2L271.1 233.7L273 232.3L275.2 230.9L277.7 229.6L280.5 228.5L283.5 227.4L286.9 226.5L290.4 225.7L294 225L297.9 224.5L301.8 224.2L305.7 224L309.7 224L313.7 224.1L317.6 224.4L321.5 224.9L325.2 225.5L328.7 226.2L332 227.1L335.1 228.2L338 229.3L340.5 230.5L342.8 231.9L344.7 233.3L346.2 234.8L347.4 236.4L348.2 238L348.7 239.9L349.1 241.6L349.1 243.2L348.8 244.9L348 246.5L346.9 248.1L345.3 249.6L343.5 251.1L341.2 252.5L338.7 253.8L335.8 254.9L332.7 256L329.4 256.9L325.8 257.7L322.1 258.4L318.3 258.9L314.3 259.2L310.3 259.4L306.2 259.4L302.2 259.3L298.2 259L294.4 258.6L290.6 257.9L287.1 257.2L283.7 256.3L280.5 255.2L277.7 254.1L275.1 252.8L272.8 251.5L270.9 250L269.3 248.5L268.1 246.9L267.3 245.3L266.9 243.7Z" fill="#535353"/>
<path d="M267.3 240L267.9 237.4L268.7 235.8L269.8 234.3L271.3 232.7L273.2 231.3L275.3 229.9L277.8 228.7L280.6 227.5L283.7 226.5L287 225.5L290.5 224.8L294.1 224.1L297.9 223.6L301.8 223.3L305.8 223.1L309.7 223.1L313.7 223.2L317.6 223.5L321.4 224L325.1 224.6L328.6 225.3L331.9 226.2L335 227.2L337.8 228.3L340.4 229.6L342.6 230.9L344.5 232.3L346 233.8L347.2 235.4L348 237L348.4 238.6L348.6 239.6L348.7 241.2L348.3 242.8L347.5 244.5L346.4 246L344.9 247.5L343 249L340.8 250.4L338.3 251.6L335.5 252.8L332.5 253.9L329.1 254.8L325.6 255.6L322 256.2L318.1 256.7L314.2 257.1L310.3 257.2L306.3 257.3L302.3 257.1L298.4 256.8L294.5 256.4L290.8 255.8L287.3 255L284 254.1L280.9 253.1L278 252L275.5 250.7L273.2 249.4L271.3 247.9L269.8 246.4L268.6 244.9L267.8 243.3L267.4 241.7Z" fill="#555555"/>
<path d="M267.6 239L267.9 237.4L268.4 235.4L269.1 233.8L270.3 232.3L271.7 230.8L273.6 229.3L275.7 228L278.2 226.8L281 225.6L284 224.6L287.2 223.7L290.7 222.9L294.3 222.2L298 221.8L301.9 221.4L305.8 221.2L309.7 221.2L313.6 221.4L317.5 221.7L321.2 222.1L324.9 222.7L328.3 223.4L331.6 224.3L334.7 225.3L337.5 226.4L340 227.7L342.2 229L344 230.4L345.6 231.9L346.7 233.4L347.5 235L347.9 236.5L348.4 238.6L348.4 240.2L348.1 241.8L347.3 243.4L346.2 245L344.7 246.5L342.8 247.9L340.7 249.3L338.2 250.6L335.4 251.7L332.3 252.8L329 253.7L325.5 254.5L321.9 255.1L318.1 255.6L314.2 255.9L310.2 256.1L306.3 256.1L302.3 256L298.4 255.7L294.6 255.3L290.9 254.7L287.4 253.9L284.1 253L281 252L278.2 250.9L275.6 249.6L273.4 248.3L271.5 246.9L270 245.4L268.8 243.8L268 242.3L267.6 240.6Z" fill="#575757"/>
<path d="M268 237L268.5 234.9L268.9 233.3L269.6 231.8L270.7 230.2L272.2 228.8L274 227.4L276.1 226L278.5 224.8L281.3 223.7L284.3 222.6L287.5 221.7L290.9 221L294.4 220.3L302 219.5L305.8 219.4L309.7 219.3L313.6 219.5L317.4 219.8L321.1 220.2L324.7 220.8L328.1 221.5L331.3 222.4L334.4 223.4L337.1 224.5L339.6 225.7L341.8 227L343.6 228.4L345.1 229.8L346.3 231.3L347.1 232.9L347.5 234.5L347.9 236.5L348 238.1L347.6 239.7L346.9 241.3L345.7 242.9L344.3 244.4L342.4 245.8L340.3 247.1L337.8 248.4L335 249.5L332 250.6L328.8 251.5L325.3 252.2L321.7 252.9L318 253.4L314.1 253.7L310.2 253.9L306.3 253.9L302.4 253.8L298.5 253.5L294.8 253L291.1 252.4L287.7 251.7L284.4 250.8L281.3 249.8L278.5 248.7L276 247.5L273.8 246.2L272 244.8L270.4 243.3L269.3 241.7L268.5 240.2L268.1 238.6Z" fill="#595959"/>
<path d="M268.5 234.9L269.1 232.3L269.8 230.7L270.9 229.2L272.4 227.8L274.2 226.4L276.3 225L278.7 223.8L281.4 222.7L284.4 221.7L287.6 220.8L291 220L294.5 219.4L298.2 218.9L302 218.6L305.8 218.4L309.7 218.4L313.5 218.5L317.3 218.8L321 219.2L324.6 219.8L328 220.5L331.2 221.4L334.2 222.4L336.9 223.5L339.4 224.7L341.6 226L343.4 227.4L344.9 228.8L346 230.3L346.8 231.9L347.1 232.9L347.5 234.5L347.5 236.1L347.1 237.6L346.4 239.2L345.3 240.7L343.8 242.2L342 243.6L339.9 244.9L337.5 246.2L334.7 247.3L331.7 248.3L328.5 249.2L325.1 250L321.6 250.6L317.8 251.1L314 251.4L310.2 251.6L306.3 251.6L302.4 251.5L298.6 251.2L294.9 250.8L291.3 250.2L287.9 249.4L284.7 248.6L281.6 247.6L278.9 246.5L276.4 245.3L274.2 244L272.4 242.6L270.9 241.1L269.7 239.6L268.9 238.1L268.5 236.5Z" fill="#5b5b5b"/>
<path d="M268.8 233.9L269.2 231.7L269.6 230.2L270.3 228.7L271.4 227.2L272.8 225.7L274.6 224.3L276.7 223L279.1 221.8L281.8 220.7L284.7 219.7L287.8 218.8L291.2 218.1L294.7 217.4L298.3 217L302.1 216.6L305.8 216.5L309.7 216.5L313.5 216.6L317.2 216.9L320.8 217.3L324.4 217.9L327.7 218.6L330.9 219.4L333.9 220.4L336.6 221.5L339 222.7L341.2 224L343 225.3L344.5 226.8L345.6 228.2L346.4 229.8L346.8 231.3L347.2 233.4L347.2 235L346.9 236.6L346.2 238.1L345.1 239.6L343.6 241.1L341.8 242.5L339.7 243.8L337.3 245.1L334.6 246.2L331.6 247.2L328.4 248.1L325 248.9L321.5 249.5L317.8 250L314 250.3L310.2 250.5L306.3 250.5L302.5 250.3L298.7 250.1L295 249.6L291.4 249L288 248.3L284.8 247.5L281.8 246.5L279.1 245.4L276.6 244.2L274.4 242.9L272.6 241.5L271.1 240L270 238.5L269.2 237L268.8 235.4Z" fill="#5d5d5d"/>
<path d="M269.2 231.7L270 228.1L270.8 226.5L271.8 225.1L273.2 223.6L275 222.3L277.1 221L279.4 219.8L282.1 218.7L285 217.7L288.1 216.8L291.4 216.1L294.9 215.5L298.4 215L302.1 214.7L305.9 214.5L309.6 214.5L313.4 214.6L317.1 214.9L320.7 215.3L324.2 215.9L327.5 216.6L330.6 217.4L333.6 218.4L336.2 219.5L338.6 220.6L340.8 221.9L342.6 223.3L344 224.7L345.1 226.1L345.9 227.6L346.3 229.2L346.8 231.3L346.8 232.9L346.4 234.4L345.7 236L344.6 237.4L343.2 238.9L341.4 240.3L339.3 241.6L336.9 242.8L334.2 243.9L331.3 244.9L328.2 245.8L324.8 246.6L321.3 247.2L317.7 247.6L313.9 248L310.2 248.1L306.3 248.2L302.5 248L298.8 247.7L295.2 247.3L291.6 246.7L288.3 246L285.1 245.2L282.1 244.2L279.4 243.1L277 241.9L274.8 240.6L273 239.3L271.5 237.8L270.4 236.4L269.6 234.8L269.2 233.3Z" fill="#5f5f5f"/>
<path d="M269.7 229.6L269.9 228.5L270 228.1L270.3 227L271 225.5L272 224L273.5 222.6L275.2 221.2L277.3 220L279.6 218.8L282.2 217.7L285.1 216.7L288.2 215.8L291.5 215.1L294.9 214.5L298.5 214L302.2 213.7L305.9 213.5L309.6 213.5L313.4 213.6L317 213.9L320.6 214.3L324.1 214.9L327.4 215.6L330.5 216.4L333.4 217.4L336.1 218.4L338.5 219.6L340.6 220.9L342.3 222.2L343.8 223.6L344.9 225.1L345.7 226.6L346.3 229.2L346.3 230.7L346 232.2L345.2 233.8L344.2 235.2L342.8 236.7L341 238L338.9 239.3L336.6 240.5L333.9 241.6L331 242.6L327.9 243.5L324.6 244.2L321.1 244.8L317.6 245.3L313.9 245.6L310.1 245.8L306.4 245.8L302.6 245.7L298.9 245.4L295.3 245L291.8 244.4L288.5 243.7L285.4 242.9L282.4 241.9L279.8 240.8L277.4 239.7L275.2 238.4L273.4 237L272 235.6L270.9 234.2L270.1 232.7L269.7 231.1Z" fill="#616161"/>
<path d="M269.9 228.5L270.7 224.8L271.4 223.3L272.5 221.9L273.9 220.5L275.6 219.1L277.6 217.9L280 216.7L282.6 215.6L285.4 214.6L288.5 213.8L291.7 213L295.1 212.5L298.6 212L302.2 211.7L305.9 211.5L309.6 211.5L313.3 211.6L316.9 211.9L320.5 212.3L323.9 212.9L327.1 213.6L330.2 214.4L333.1 215.3L335.7 216.4L338.1 217.5L340.2 218.8L341.9 220.1L343.3 221.5L344.4 222.9L345.2 224.4L345.6 225.9L346 228.1L346.1 229.6L345.7 231.1L345 232.6L344 234.1L342.5 235.5L340.8 236.9L338.7 238.2L336.4 239.4L333.8 240.5L330.9 241.4L327.8 242.3L324.5 243L321.1 243.7L317.5 244.1L313.8 244.4L310.1 244.6L306.4 244.6L302.6 244.5L299 244.2L295.4 243.8L291.9 243.2L288.6 242.5L285.5 241.7L282.6 240.7L279.9 239.7L277.5 238.5L275.4 237.2L273.7 235.9L272.2 234.5L271.1 233L270.3 231.6L270 230Z" fill="#636363"/>
<path d="M270.4 226.3L270.7 224.8L271.2 222.6L271.9 221.1L272.9 219.7L274.3 218.3L276 217L278 215.8L280.3 214.6L282.9 213.5L285.7 212.6L288.7 211.7L291.9 211L295.3 210.4L298.7 210L302.3 209.6L305.9 209.5L309.6 209.5L313.2 209.6L316.8 209.9L320.3 210.3L323.7 210.8L326.9 211.5L329.9 212.3L332.8 213.2L335.4 214.3L337.7 215.4L339.7 216.7L341.5 218L342.9 219.3L344 220.8L344.7 222.2L345.1 223.7L345.6 225.9L345.6 227.4L345.3 228.9L344.6 230.4L343.5 231.8L342.1 233.3L340.4 234.6L338.4 235.9L336 237L333.4 238.1L330.6 239.1L327.5 239.9L324.3 240.7L320.9 241.3L317.4 241.7L313.8 242L310.1 242.2L306.4 242.2L302.7 242.1L299.1 241.8L295.5 241.4L292.1 240.9L288.9 240.2L285.8 239.3L282.9 238.4L280.3 237.3L277.9 236.2L275.8 234.9L274.1 233.6L272.7 232.2L271.6 230.8L270.8 229.3L270.4 227.8Z" fill="#656565"/>
<path d="M270.9 224.1L271.1 223L271.4 221.5L272.1 220L273.2 218.6L274.5 217.2L276.2 215.9L278.2 214.7L280.5 213.5L283 212.5L285.8 211.5L288.8 210.7L292 210L295.3 209.4L298.8 208.9L302.4 208.6L309.6 208.4L313.2 208.6L316.7 208.8L320.2 209.2L323.6 209.8L326.8 210.5L329.8 211.3L332.6 212.2L335.2 213.2L337.5 214.4L339.5 215.6L341.3 216.9L342.7 218.2L343.8 219.7L344.5 221.1L344.9 222.6L345.1 223.7L345.1 225.2L344.8 226.7L344.1 228.1L343.1 229.6L341.7 230.9L340 232.3L338 233.5L335.7 234.7L333.1 235.8L330.3 236.7L327.3 237.6L324.1 238.3L320.7 238.9L317.3 239.3L313.7 239.6L310.1 239.8L306.4 239.8L302.8 239.7L299.2 239.4L295.7 239L292.3 238.5L289.1 237.8L286.1 237L283.2 236L280.6 235L278.3 233.8L276.3 232.6L274.5 231.3L273.1 229.9L272 228.5L271.3 227.1L270.9 225.6Z" fill="#676767"/>
<path d="M271.1 223L271.4 221.5L271.9 219.3L272.6 217.8L273.6 216.4L275 215.1L276.6 213.8L278.6 212.5L280.8 211.4L283.4 210.4L286.1 209.4L289.1 208.6L292.2 207.9L295.5 207.3L298.9 206.9L302.4 206.6L306 206.4L309.6 206.4L313.1 206.5L316.6 206.8L320.1 207.2L323.4 207.7L326.5 208.4L329.5 209.2L332.3 210.1L334.8 211.1L337.1 212.2L339.1 213.4L340.8 214.7L342.2 216.1L343.3 217.4L344 218.9L344.4 220.3L344.9 222.6L344.9 224.1L344.6 225.5L343.9 227L342.8 228.4L341.5 229.8L339.8 231.1L337.8 232.3L335.5 233.5L333 234.6L330.2 235.5L327.2 236.4L324 237.1L320.7 237.7L317.2 238.1L313.6 238.4L310 238.6L306.4 238.6L302.8 238.5L299.3 238.2L295.8 237.8L292.4 237.2L289.2 236.6L286.2 235.8L283.4 234.8L280.8 233.8L278.5 232.7L276.5 231.4L274.7 230.2L273.3 228.8L272.2 227.4L271.5 225.9L271.1 224.5Z" fill="#696969"/>
<path d="M271.6 220.7L271.9 219.3L272.4 217L273.1 215.6L274.1 214.2L275.4 212.9L277 211.6L279 210.4L281.2 209.2L283.7 208.2L286.4 207.3L289.3 206.5L292.4 205.8L295.7 205.2L299 204.8L302.5 204.5L306 204.3L309.5 204.3L313.1 204.4L316.5 204.7L319.9 205.1L323.2 205.6L326.3 206.3L329.2 207L332 207.9L334.5 209L336.8 210.1L338.7 211.2L340.4 212.5L341.8 213.8L342.8 215.2L343.5 216.6L343.9 218.1L344.4 220.3L344.4 221.8L344.1 223.2L343.4 224.7L342.4 226.1L341 227.4L339.4 228.7L337.4 230L335.2 231.1L332.6 232.2L329.9 233.1L326.9 233.9L323.8 234.6L320.5 235.2L317.1 235.7L313.6 236L310 236.1L306.4 236.1L302.9 236L299.4 235.8L295.9 235.3L292.6 234.8L289.5 234.1L286.5 233.3L283.7 232.4L281.2 231.4L278.9 230.3L276.9 229.1L275.2 227.8L273.8 226.5L272.7 225.1L272 223.6L271.6 222.2Z" fill="#6c6c6c"/>
<path d="M272.1 218.4L272.5 216.2L272.9 214.7L273.5 213.3L274.5 212L275.8 210.6L277.4 209.4L279.4 208.2L281.5 207.1L284 206.1L286.7 205.1L289.6 204.3L292.6 203.6L295.8 203.1L299.2 202.6L302.6 202.3L306 202.2L309.5 202.2L313 202.3L316.4 202.6L319.7 202.9L323 203.5L326.1 204.1L329 204.9L331.7 205.8L334.2 206.8L336.4 207.9L338.3 209L340 210.3L341.3 211.6L342.4 213L343.1 214.3L343.9 218.1L343.9 219.5L343.6 220.9L342.9 222.4L341.9 223.7L340.6 225.1L339 226.4L337 227.6L334.8 228.7L332.3 229.7L329.6 230.7L326.7 231.5L323.6 232.2L320.3 232.8L317 233.2L313.5 233.5L306.5 233.7L302.9 233.5L299.5 233.3L296.1 232.9L292.8 232.3L289.7 231.7L286.8 230.9L284 230L281.5 229L279.2 227.9L277.3 226.7L275.6 225.4L274.2 224.1L273.2 222.7L272.5 221.3L272.1 219.9Z" fill="#6e6e6e"/>
<path d="M272.5 216.2L273.1 213.6L273.7 212.2L274.7 210.8L276 209.5L277.6 208.3L279.5 207.1L281.7 206L284.2 205L286.8 204.1L289.7 203.2L292.7 202.6L295.9 202L299.2 201.6L302.6 201.3L306 201.1L309.5 201.1L313 201.2L316.4 201.5L319.7 201.9L322.9 202.4L325.9 203.1L328.8 203.8L331.5 204.7L334 205.7L336.2 206.8L338.1 207.9L339.8 209.2L341.1 210.5L342.2 211.8L342.8 213.2L343.2 214.6L343.4 215.8L343.5 217.2L343.1 218.6L342.5 220L341.5 221.4L340.2 222.7L338.6 224L336.6 225.2L334.5 226.3L332 227.3L329.3 228.2L326.4 229L323.4 229.7L320.2 230.3L316.8 230.7L313.4 231L310 231.2L306.5 231.2L303 231.1L299.6 230.8L296.3 230.4L293 229.9L289.9 229.2L287 228.4L284.3 227.6L281.8 226.6L279.6 225.5L277.7 224.3L276 223.1L274.7 221.7L273.6 220.4L272.9 219L272.6 217.6Z" fill="#707070"/>
<path d="M272.8 215L273.2 212.7L273.6 211.3L274.2 209.9L275.2 208.6L276.5 207.3L278 206L279.9 204.9L282.1 203.8L284.5 202.8L287.1 201.9L289.9 201.1L292.9 200.4L299.3 199.4L302.7 199.1L306.1 199L309.5 199L312.9 199.1L316.2 199.3L319.5 199.7L322.7 200.2L325.7 200.9L328.5 201.6L331.2 202.5L333.6 203.5L335.8 204.6L337.7 205.7L339.4 206.9L340.7 208.2L341.7 209.5L342.4 210.9L343.2 214.6L343.2 216L342.9 217.4L342.3 218.8L341.3 220.2L340 221.5L338.4 222.8L336.5 223.9L334.3 225L331.8 226.1L329.2 227L326.3 227.8L323.3 228.5L320.1 229L316.8 229.4L313.4 229.7L310 229.9L306.5 229.9L303 229.8L299.6 229.5L296.3 229.1L293.1 228.6L290.1 228L287.2 227.2L284.5 226.3L282 225.3L279.8 224.3L277.9 223.1L276.2 221.8L274.9 220.5L273.8 219.2L273.2 217.8L272.8 216.4Z" fill="#727272"/>
<path d="M273.2 212.7L273.8 210.1L274.4 208.8L275.4 207.4L276.7 206.1L278.3 204.9L280.1 203.7L282.3 202.7L284.6 201.7L287.2 200.8L290 200L293 199.3L296.2 198.8L299.4 198.4L302.7 198.1L306.1 197.9L309.5 197.9L312.9 198L316.2 198.3L319.4 198.6L322.6 199.2L325.6 199.8L328.4 200.6L331 201.4L333.5 202.4L335.6 203.4L337.5 204.6L339.1 205.8L340.5 207.1L341.5 208.4L342.1 209.7L342.5 211.1L342.7 212.3L342.8 213.7L342.4 215.1L341.8 216.5L340.8 217.8L339.5 219.1L338 220.3L336.1 221.5L333.9 222.6L331.5 223.6L328.9 224.5L326.1 225.3L323.1 226L319.9 226.5L316.7 226.9L313.3 227.2L309.9 227.4L306.5 227.4L303.1 227.3L299.8 227L296.5 226.6L293.3 226.1L290.3 225.5L287.5 224.7L284.8 223.8L282.4 222.9L280.2 221.8L278.3 220.7L276.6 219.4L275.3 218.1L274.3 216.8L273.6 215.5L273.3 214.1Z" fill="#757575"/>
<path d="M273.5 211.5L273.8 210.1L274.3 207.8L274.9 206.4L275.8 205.1L277.1 203.9L278.7 202.7L280.5 201.5L282.6 200.4L285 199.5L287.5 198.6L290.3 197.8L293.2 197.1L296.3 196.6L299.5 196.2L302.8 195.9L306.1 195.7L309.5 195.7L312.8 195.8L316.1 196.1L319.3 196.5L322.4 197L325.3 197.6L328.1 198.4L330.7 199.2L333.1 200.2L335.2 201.2L337.1 202.3L338.7 203.5L340 204.8L341 206.1L341.7 207.4L342.5 211.1L342.5 212.5L342.2 213.9L341.6 215.3L340.6 216.6L339.3 217.9L337.7 219.1L335.9 220.3L333.7 221.4L331.4 222.3L328.8 223.2L326 224L323 224.7L316.6 225.7L313.3 225.9L309.9 226.1L306.5 226.1L303.1 226L299.8 225.8L296.6 225.4L293.4 224.9L290.4 224.2L287.6 223.5L285 222.6L282.5 221.6L280.4 220.6L278.5 219.4L276.9 218.2L275.5 216.9L274.5 215.6L273.9 214.3L273.5 212.9Z" fill="#777777"/>
<path d="M274 209.2L274.2 208L274.5 206.6L275.1 205.3L276.1 204L277.3 202.7L278.9 201.5L280.7 200.4L282.8 199.3L285.1 198.3L287.7 197.5L290.4 196.7L293.3 196L296.4 195.5L299.6 195.1L302.8 194.8L306.1 194.7L309.4 194.6L312.8 194.8L316 195L319.2 195.4L322.3 195.9L325.2 196.5L328 197.2L330.6 198.1L332.9 199L335.1 200.1L336.9 201.2L338.5 202.4L339.8 203.6L340.8 204.9L341.4 206.3L341.8 207.6L342 208.8L342 210.1L341.7 211.5L341.1 212.9L340.2 214.2L338.9 215.4L337.3 216.7L335.5 217.8L333.4 218.9L331 219.8L328.5 220.7L325.7 221.5L322.8 222.2L319.7 222.7L316.5 223.1L313.2 223.4L309.9 223.6L306.5 223.6L303.2 223.5L299.9 223.2L296.7 222.8L293.6 222.3L290.7 221.7L287.9 220.9L285.3 220.1L282.9 219.1L280.8 218.1L278.9 217L277.3 215.8L276 214.5L275 213.2L274.3 211.9L274 210.5Z" fill="#7a7a7a"/>
<path d="M274.2 208L274.7 205.6L275 204.3L275.6 203L276.5 201.7L277.7 200.4L279.3 199.2L281.1 198.1L283.1 197.1L285.4 196.1L288 195.2L290.7 194.5L293.5 193.8L296.6 193.3L299.7 192.9L302.9 192.6L306.2 192.5L309.4 192.5L312.7 192.6L315.9 192.8L319 193.2L322.1 193.7L325 194.3L327.7 195L330.3 195.9L332.6 196.8L334.7 197.8L336.5 198.9L338.1 200.1L339.3 201.3L340.3 202.6L341 203.9L341.3 205.2L341.8 207.6L341.8 209L341.5 210.3L340.9 211.6L339.9 213L338.7 214.2L337.1 215.4L335.3 216.6L333.2 217.6L330.9 218.6L328.3 219.5L325.6 220.2L322.7 220.9L319.6 221.4L316.4 221.8L313.2 222.1L309.9 222.3L306.6 222.3L303.2 222.2L300 221.9L296.8 221.6L293.7 221.1L290.8 220.4L288 219.7L285.4 218.8L283.1 217.9L280.9 216.9L279.1 215.7L277.5 214.5L276.2 213.3L275.2 212L274.6 210.7L274.2 209.3Z" fill="#7c7c7c"/>
<path d="M274.7 205.6L274.9 204.4L275.2 203.1L275.8 201.8L276.7 200.5L278 199.3L279.5 198.1L281.3 197L283.3 195.9L285.6 195L288.1 194.1L290.8 193.4L293.6 192.7L296.6 192.2L299.7 191.8L302.9 191.5L306.2 191.4L309.4 191.4L312.7 191.5L315.8 191.7L319 192.1L322 192.6L324.9 193.2L327.6 193.9L330.1 194.7L332.4 195.7L334.5 196.7L336.3 197.8L337.9 198.9L339.1 200.2L340.1 201.4L340.7 202.7L341.1 204.1L341.3 205.2L341.3 206.6L341 207.9L340.4 209.2L339.5 210.5L338.3 211.8L336.7 212.9L334.9 214.1L332.9 215.1L330.6 216.1L328 216.9L325.3 217.7L322.5 218.3L319.4 218.9L316.3 219.3L313.1 219.6L309.8 219.7L306.6 219.7L303.3 219.6L300.1 219.4L297 219L293.9 218.5L291 217.9L288.3 217.2L285.7 216.3L283.4 215.4L281.3 214.4L279.5 213.3L277.9 212.1L276.7 210.9L275.7 209.6L275 208.3L274.7 206.9Z" fill="#7f7f7f"/>
<path d="M274.9 204.4L275.4 202L275.7 200.7L276.3 199.4L277.2 198.2L278.4 197L279.9 195.8L281.6 194.7L283.7 193.7L285.9 192.7L288.4 191.9L291 191.1L293.8 190.5L296.8 190L299.9 189.6L303 189.3L306.2 189.2L309.4 189.2L312.6 189.3L315.7 189.5L318.8 189.9L321.8 190.4L324.6 191L327.3 191.7L329.8 192.5L332.1 193.4L334.1 194.4L335.9 195.5L337.4 196.6L338.7 197.8L339.6 199.1L340.3 200.4L340.6 201.7L341.1 204.1L341.1 205.4L340.8 206.7L340.2 208L339.3 209.3L338 210.5L336.5 211.7L334.7 212.8L332.7 213.9L330.4 214.8L327.9 215.7L325.2 216.4L322.4 217.1L319.4 217.6L316.3 218L313.1 218.3L309.8 218.4L306.6 218.4L303.3 218.3L300.2 218.1L297 217.7L294 217.2L291.1 216.6L288.4 215.9L285.9 215.1L283.6 214.1L281.5 213.1L279.7 212L278.1 210.9L276.9 209.6L275.9 208.4L275.3 207.1L274.9 205.7Z" fill="#818181"/>
<path d="M275.4 202L275.6 200.8L275.9 199.5L276.5 198.3L277.4 197L278.6 195.8L280.1 194.6L281.8 193.6L283.8 192.5L286.1 191.6L288.5 190.8L291.2 190L294 189.4L296.9 188.9L299.9 188.5L303 188.2L306.2 188.1L309.4 188.1L312.6 188.2L315.7 188.4L321.7 189.2L324.5 189.8L327.1 190.6L329.6 191.4L331.9 192.3L333.9 193.3L335.7 194.3L337.2 195.5L338.5 196.7L339.4 197.9L340 199.2L340.4 200.5L340.6 201.7L340.6 203L340.3 204.3L339.7 205.6L338.8 206.8L337.6 208L336.1 209.2L334.4 210.3L332.3 211.3L330.1 212.3L327.6 213.1L325 213.9L322.2 214.5L319.2 215L316.1 215.4L313 215.7L309.8 215.8L306.6 215.8L303.4 215.7L300.3 215.5L297.2 215.1L294.2 214.6L291.4 214L288.7 213.3L286.2 212.5L283.9 211.6L281.9 210.6L280.1 209.5L278.6 208.4L277.3 207.2L276.4 205.9L275.7 204.6L275.4 203.3Z" fill="#848484"/>
<path d="M275.6 200.8L276.1 198.4L276.4 197.2L277 195.9L277.9 194.7L279 193.5L280.5 192.3L282.2 191.3L284.2 190.3L286.4 189.3L288.8 188.5L291.4 187.8L294.2 187.2L297 186.7L300 186.3L303.1 186L306.2 185.9L309.4 185.8L315.6 186.2L318.6 186.5L321.5 187L324.3 187.6L326.9 188.3L329.3 189.1L331.5 190L333.5 191L335.3 192L336.8 193.2L338 194.3L338.9 195.6L339.6 196.8L339.9 198.1L340.4 200.5L340.4 201.8L340.1 203.1L339.5 204.3L338.6 205.6L337.4 206.8L335.9 208L334.2 209.1L332.2 210.1L329.9 211L327.5 211.8L324.8 212.6L322 213.2L319.1 213.7L316.1 214.1L313 214.4L309.8 214.5L306.6 214.5L303.4 214.4L300.3 214.2L297.3 213.8L294.3 213.4L291.5 212.8L288.9 212.1L286.4 211.2L284.1 210.3L282.1 209.3L280.3 208.3L278.8 207.1L277.5 205.9L276.6 204.7L276 203.4L275.6 202.1Z" fill="#868686"/>
<path d="M276.1 198.4L276.3 197.2L276.6 196L277.2 194.7L278.1 193.5L279.2 192.3L280.7 191.2L282.4 190.1L284.4 189.1L286.6 188.2L288.9 187.4L291.5 186.7L294.3 186L297.1 185.5L300.1 185.2L303.1 184.9L306.2 184.8L309.4 184.7L312.5 184.8L315.5 185.1L318.5 185.4L321.4 185.9L324.1 186.5L326.7 187.2L329.1 188L331.4 188.9L333.4 189.8L335.1 190.9L336.6 192L337.8 193.2L338.7 194.4L339.3 195.6L339.7 196.9L339.9 198.1L339.9 199.4L339.6 200.6L339 201.9L338.1 203.1L337 204.3L335.5 205.5L333.8 206.5L331.8 207.5L329.6 208.5L327.2 209.3L324.6 210L321.8 210.6L319 211.1L316 211.5L312.9 211.8L309.8 211.9L306.6 211.9L303.5 211.8L300.4 211.6L297.4 211.2L294.5 210.8L291.7 210.2L289.1 209.5L286.7 208.7L284.5 207.8L282.5 206.8L280.7 205.8L279.2 204.6L278 203.5L277.1 202.2L276.4 201L276.1 199.7Z" fill="#898989"/>
<path d="M276.3 197.2L276.8 194.8L277.1 193.6L277.6 192.3L278.5 191.1L279.7 190L281.1 188.9L282.8 187.8L284.7 186.8L286.9 185.9L289.2 185.1L291.8 184.4L294.5 183.8L297.3 183.3L300.2 182.9L303.2 182.7L306.3 182.5L309.3 182.5L312.4 182.6L315.4 182.8L318.3 183.2L321.2 183.7L323.9 184.2L326.4 184.9L328.8 185.7L331 186.6L333 187.5L334.7 188.6L336.2 189.7L337.3 190.8L338.3 192L338.9 193.2L339.2 194.5L339.7 196.9L339.7 198.1L339.4 199.4L338.8 200.7L337.9 201.9L336.8 203.1L335.3 204.2L333.6 205.3L331.6 206.3L329.4 207.2L327.1 208L324.5 208.7L321.7 209.3L318.9 209.8L315.9 210.2L312.9 210.5L309.8 210.6L306.6 210.6L303.5 210.5L300.5 210.3L297.5 209.9L294.6 209.5L291.9 208.9L289.3 208.2L286.9 207.4L284.6 206.5L282.6 205.5L280.9 204.5L279.4 203.4L278.2 202.2L277.3 201L276.7 199.8L276.3 198.5Z" fill="#8b8b8b"/>
<path d="M276.8 194.8L277 193.6L277.3 192.4L277.9 191.1L278.7 190L279.9 188.8L281.3 187.7L283 186.7L284.9 185.7L287 184.8L289.4 184L291.9 183.3L294.6 182.7L297.4 182.2L300.3 181.8L303.3 181.6L306.3 181.4L309.3 181.4L312.4 181.5L315.3 181.7L318.3 182.1L321.1 182.5L323.8 183.1L326.3 183.8L328.7 184.6L330.8 185.4L332.8 186.4L334.5 187.4L335.9 188.5L337.1 189.6L338 190.8L338.6 192L339 193.3L339.2 194.5L339.2 195.7L338.9 197L338.4 198.2L337.5 199.4L336.3 200.6L334.9 201.7L333.2 202.7L331.3 203.7L329.1 204.6L326.8 205.4L324.2 206.1L321.5 206.7L318.7 207.2L315.8 207.6L312.8 207.9L309.7 208L306.7 208L303.6 207.9L300.6 207.7L297.7 207.4L294.8 206.9L292.1 206.3L289.6 205.6L287.2 204.8L285 204L283 203L281.3 202L279.8 200.9L278.7 199.7L277.7 198.5L277.1 197.3L276.8 196.1Z" fill="#8e8e8e"/>
<path d="M277 193.6L277.5 191.2L277.8 190L278.3 188.8L279.2 187.6L280.3 186.5L281.7 185.4L283.4 184.3L285.2 183.4L287.4 182.5L289.7 181.7L292.1 181L294.8 180.4L297.5 179.9L300.4 179.6L303.3 179.3L306.3 179.2L309.3 179.2L312.3 179.3L315.2 179.5L318.1 179.8L320.9 180.3L323.5 180.9L326 181.5L328.4 182.3L330.5 183.1L332.4 184.1L334.1 185.1L335.5 186.2L336.7 187.3L337.6 188.4L338.2 189.6L338.5 190.9L339 193.3L339 194.5L338.7 195.8L338.1 197L337.3 198.2L336.1 199.3L334.7 200.4L333 201.5L331.1 202.4L329 203.3L326.6 204.1L324.1 204.8L321.4 205.4L318.6 205.9L315.7 206.3L312.7 206.6L309.7 206.7L306.7 206.7L303.6 206.6L300.7 206.4L297.7 206L294.9 205.6L292.2 205L289.7 204.3L287.3 203.6L285.2 202.7L283.2 201.7L281.5 200.7L280.1 199.6L278.9 198.5L278 197.3L277.4 196.1L277 194.9Z" fill="#909090"/>
<path d="M277.5 191.2L278.2 187.6L278.8 186.4L279.6 185.2L280.7 184.1L282.1 183L283.7 182L285.6 181.1L287.7 180.2L289.9 179.5L292.4 178.8L295 178.2L297.7 177.7L300.5 177.3L303.4 177.1L306.3 177L309.3 176.9L312.2 177L315.1 177.3L317.9 177.6L320.7 178L323.3 178.6L325.8 179.3L328 180L330.1 180.8L332 181.8L333.7 182.8L335.1 183.8L336.2 184.9L337.1 186.1L337.7 187.3L338 188.5L338.5 190.9L338.5 192.1L338.2 193.3L337.7 194.5L336.8 195.7L335.7 196.8L334.3 197.9L332.6 198.9L330.8 199.9L328.6 200.8L326.3 201.6L323.9 202.3L318.5 203.3L315.6 203.7L312.7 204L309.7 204.1L306.7 204.1L303.7 204L300.8 203.8L297.9 203.4L295.1 203L292.5 202.4L290 201.8L287.6 201L285.5 200.1L283.6 199.2L281.9 198.2L280.5 197.1L279.3 196L278.4 194.8L277.8 193.6L277.5 192.4Z" fill="#939393"/>
<path d="M278 188.8L278.2 187.6L278.5 186.4L279 185.2L279.9 184.1L281 182.9L282.3 181.9L283.9 180.9L285.8 179.9L287.8 179.1L290.1 178.3L292.5 177.6L295.1 177.1L297.8 176.6L300.6 176.2L303.4 176L306.3 175.8L309.3 175.8L312.2 175.9L315.1 176.1L317.9 176.5L320.6 176.9L323.2 177.5L325.6 178.1L327.9 178.9L330 179.7L331.8 180.6L333.5 181.6L334.9 182.7L336 183.8L336.9 184.9L337.5 186.1L337.8 187.2L338 188.5L338 189.7L337.8 190.9L337.2 192L336.4 193.2L335.3 194.3L333.9 195.4L332.3 196.4L330.4 197.3L328.3 198.2L326.1 199L323.6 199.7L321 200.3L318.3 200.7L315.5 201.1L312.6 201.3L309.7 201.5L306.7 201.5L303.8 201.4L300.9 201.2L298.1 200.8L295.3 200.4L292.7 199.8L290.2 199.2L288 198.4L285.9 197.6L284 196.7L282.3 195.7L280.9 194.6L279.8 193.5L278.9 192.4L278.3 191.2L278 190Z" fill="#959595"/>
<path d="M278.2 187.6L278.9 184L279.5 182.8L280.3 181.7L281.4 180.6L282.7 179.6L284.3 178.6L286.1 177.7L288.2 176.8L290.4 176.1L292.8 175.4L295.3 174.8L297.9 174.4L300.7 174L303.5 173.8L306.4 173.6L309.3 173.6L312.1 173.7L314.9 173.9L317.7 174.2L320.4 174.7L322.9 175.2L325.3 175.9L327.6 176.6L329.6 177.4L331.5 178.3L333.1 179.3L334.4 180.3L335.6 181.4L336.4 182.5L337 183.7L337.3 184.8L337.8 187.2L337.8 188.4L337.5 189.6L337 190.8L336.1 192L335 193.1L333.7 194.1L332.1 195.1L330.2 196.1L328.2 196.9L325.9 197.7L323.5 198.4L320.9 199L318.2 199.4L315.4 199.8L312.6 200L309.7 200.2L306.7 200.2L303.8 200.1L300.9 199.9L298.1 199.5L295.4 199.1L292.8 198.5L290.4 197.9L288.1 197.2L286 196.3L284.2 195.4L282.5 194.4L281.1 193.4L280 192.3L279.1 191.1L278.5 190L278.2 188.8Z" fill="#979797"/>
<path d="M278.7 185.2L278.9 184L279.4 181.6L279.9 180.5L280.8 179.4L281.8 178.3L283.1 177.2L284.7 176.3L286.5 175.4L288.5 174.5L290.7 173.8L293 173.1L295.5 172.6L298.1 172.1L300.8 171.8L303.6 171.5L306.4 171.4L309.2 171.4L312.1 171.5L314.8 171.7L317.6 172L320.2 172.4L322.7 173L325.1 173.6L327.3 174.3L329.3 175.1L331.1 176L332.7 177L334 178L335.1 179.1L336 180.2L336.5 181.3L336.8 182.4L337.3 184.8L337.3 186L337.1 187.2L336.5 188.4L335.7 189.5L334.6 190.6L333.3 191.6L331.7 192.6L329.9 193.5L327.8 194.4L325.6 195.1L323.2 195.8L320.7 196.4L318.1 196.8L315.3 197.2L312.5 197.4L309.6 197.6L306.7 197.6L303.9 197.5L301.1 197.3L298.3 196.9L295.6 196.5L293.1 196L290.7 195.3L288.4 194.6L286.4 193.8L284.5 192.9L282.9 191.9L281.6 190.9L280.4 189.8L279.6 188.7L279 187.5L278.7 186.3Z" fill="#9a9a9a"/>
<path d="M279.2 182.8L279.4 181.6L279.6 180.4L279.9 179.2L280.4 178.1L281.2 177L282.3 175.9L283.5 174.9L285.1 174L286.8 173.1L288.8 172.3L290.9 171.5L293.2 170.9L295.7 170.3L298.3 169.9L300.9 169.6L303.7 169.3L306.4 169.2L309.2 169.2L312 169.3L314.7 169.5L317.4 169.8L320 170.2L322.4 170.7L324.8 171.4L326.9 172.1L328.9 172.9L330.7 173.7L332.3 174.7L333.6 175.7L334.7 176.7L335.5 177.8L336.1 178.9L336.4 180L336.8 182.4L336.8 183.6L336.6 184.8L336.1 185.9L335.2 187L334.2 188.1L332.9 189.1L331.3 190.1L329.5 191L327.5 191.8L325.3 192.6L323 193.2L320.5 193.8L317.9 194.2L315.2 194.6L312.4 194.8L309.6 195L306.8 195L303.9 194.9L301.2 194.7L298.4 194.3L295.8 193.9L293.3 193.4L290.9 192.8L288.7 192L286.7 191.2L284.9 190.3L283.3 189.4L282 188.4L280.9 187.3L280 186.2L279.5 185.1L279.2 183.9Z" fill="#9d9d9d"/>
<path d="M279.6 180.4L280.1 178L280.4 176.8L280.9 175.7L281.6 174.7L282.7 173.6L284 172.6L285.5 171.7L287.2 170.8L289.1 170L291.2 169.3L293.5 168.7L295.9 168.1L298.4 167.7L301 167.3L303.7 167.1L306.5 167L309.2 167L311.9 167.1L314.6 167.3L317.2 167.6L319.8 168L322.2 168.5L324.5 169.1L326.6 169.8L328.6 170.6L330.3 171.5L331.9 172.4L333.2 173.4L334.2 174.4L335 175.5L335.6 176.5L335.9 177.7L336.4 180L336.4 181.2L336.1 182.3L335.6 183.4L334.8 184.5L333.7 185.6L332.5 186.6L330.9 187.6L329.2 188.5L327.2 189.3L325.1 190L322.8 190.6L320.3 191.2L315.1 192L309.6 192.4L306.8 192.4L304 192.3L301.3 192.1L298.6 191.8L296 191.3L293.6 190.8L291.2 190.2L289.1 189.5L287.1 188.7L285.3 187.8L283.7 186.9L282.4 185.9L281.3 184.8L280.5 183.7L279.9 182.6L279.6 181.5Z" fill="#a0a0a0"/>
<path d="M280.1 178L280.8 174.5L281.3 173.4L282.1 172.3L283.1 171.3L284.4 170.3L285.8 169.4L287.5 168.6L289.4 167.8L291.5 167.1L293.7 166.4L296.1 165.9L298.6 165.5L301.2 165.1L303.8 164.9L306.5 164.8L309.2 164.8L311.9 164.9L314.5 165.1L317.1 165.4L319.6 165.8L322 166.3L324.2 166.9L326.3 167.6L328.2 168.3L329.9 169.2L331.5 170.1L332.7 171.1L333.8 172.1L334.6 173.1L335.1 174.2L335.4 175.3L335.9 177.7L335.9 178.8L335.6 179.9L335.1 181L334.4 182.1L333.3 183.1L332 184.1L330.5 185L328.8 185.9L326.9 186.7L324.8 187.4L322.5 188.1L320.1 188.6L317.6 189.1L315 189.4L312.3 189.6L309.5 189.8L306.8 189.8L304.1 189.7L301.4 189.5L298.8 189.2L296.2 188.8L293.8 188.2L291.5 187.6L289.4 186.9L287.4 186.2L285.7 185.3L284.1 184.4L282.8 183.4L281.8 182.4L281 181.3L280.4 180.2L280.1 179.1Z" fill="#a3a3a3"/>
<path d="M280.6 175.6L280.8 174.4L281.1 173.3L281.6 172.2L282.3 171.2L283.3 170.2L284.6 169.2L286 168.3L287.7 167.4L289.6 166.7L291.6 166L293.9 165.3L296.2 164.8L301.2 164L303.8 163.8L306.5 163.7L309.2 163.7L311.8 163.8L314.4 164L317 164.3L319.5 164.7L321.8 165.2L324.1 165.8L326.1 166.5L328 167.2L329.8 168.1L331.3 168.9L332.5 169.9L333.6 170.9L334.4 171.9L334.9 173L335.2 174.1L335.4 175.3L335.4 176.4L335.2 177.5L334.7 178.6L333.9 179.6L332.9 180.6L331.6 181.6L330.2 182.5L328.5 183.4L326.6 184.2L324.5 184.9L322.3 185.5L319.9 186.1L317.4 186.5L314.8 186.8L312.2 187.1L309.5 187.2L306.8 187.2L304.1 187.1L301.5 186.9L298.9 186.6L296.4 186.2L294 185.7L291.8 185.1L289.7 184.4L287.8 183.6L286.1 182.8L284.5 181.9L283.3 180.9L282.2 179.9L281.4 178.9L280.9 177.8L280.6 176.7Z" fill="#a5a5a5"/>
<path d="M280.8 174.4L281.5 171L282 169.9L282.8 168.9L283.8 167.9L285 166.9L286.4 166L288.1 165.2L289.9 164.4L291.9 163.7L294.1 163.1L296.4 162.6L298.8 162.2L301.3 161.9L303.9 161.6L306.5 161.5L309.1 161.5L311.8 161.6L314.3 161.8L316.8 162.1L319.3 162.5L321.6 163L323.8 163.6L325.8 164.2L327.7 165L329.4 165.8L330.8 166.7L332.1 167.6L333.1 168.6L333.9 169.6L334.4 170.7L334.7 171.7L335.2 174.1L335.2 175.2L334.9 176.3L334.4 177.4L333.7 178.4L332.7 179.4L331.4 180.4L330 181.3L328.3 182.2L326.4 182.9L324.4 183.6L322.1 184.3L319.8 184.8L317.3 185.2L314.8 185.5L312.2 185.8L309.5 185.9L306.8 185.9L304.2 185.8L301.6 185.6L299 185.3L296.5 184.9L294.2 184.4L291.9 183.8L289.9 183.1L288 182.4L286.2 181.5L284.7 180.6L283.5 179.7L282.4 178.7L281.6 177.6L281.1 176.6L280.8 175.5Z" fill="#a7a7a7"/>
<path d="M281.3 172L281.5 171L282 168.6L282.5 167.6L283.2 166.6L284.2 165.6L285.4 164.7L286.8 163.8L288.4 163L290.2 162.2L292.2 161.5L294.4 160.9L296.6 160.4L299 160L301.5 159.7L304 159.5L306.5 159.4L309.1 159.3L311.7 159.4L314.2 159.6L316.7 159.9L319.1 160.3L321.4 160.8L323.5 161.4L325.5 162L327.4 162.8L329 163.6L330.4 164.4L331.7 165.4L332.7 166.3L333.4 167.3L334 168.4L334.7 171.7L334.7 172.8L334.5 173.9L334 174.9L333.2 176L332.2 177L331 177.9L329.6 178.8L327.9 179.7L326.1 180.4L324.1 181.1L321.9 181.7L319.6 182.2L317.2 182.7L314.7 183L312.1 183.2L309.5 183.3L306.9 183.4L304.2 183.3L301.7 183.1L299.2 182.8L296.7 182.4L294.4 181.9L292.2 181.3L290.2 180.6L288.3 179.9L286.6 179.1L285.2 178.2L283.9 177.2L282.9 176.2L282.1 175.2L281.6 174.2L281.3 173.1Z" fill="#aaaaaa"/>
<path d="M281.8 169.7L282.2 167.4L282.5 166.3L282.9 165.3L283.7 164.3L284.6 163.4L285.8 162.4L287.2 161.6L288.8 160.8L290.6 160L292.5 159.4L294.6 158.8L296.8 158.3L299.2 157.9L301.6 157.5L304.1 157.3L306.6 157.2L309.1 157.2L311.6 157.3L314.1 157.5L318.9 158.1L321.1 158.6L323.2 159.2L325.2 159.8L328.6 161.3L330 162.2L331.2 163.1L332.2 164.1L333 165L333.5 166.1L333.8 167.1L334.2 169.4L334.2 170.5L334 171.5L333.5 172.5L332.8 173.6L331.8 174.5L330.6 175.5L329.2 176.4L327.6 177.2L325.8 177.9L323.8 178.6L321.6 179.2L319.4 179.7L317 180.1L314.5 180.5L312 180.7L309.5 180.8L306.9 180.8L304.3 180.7L301.8 180.5L299.3 180.2L296.9 179.8L294.6 179.4L292.5 178.8L290.5 178.1L288.6 177.4L287 176.6L285.6 175.7L284.3 174.8L283.3 173.8L282.6 172.8L282 171.8L281.8 170.7Z" fill="#acacac"/>
<path d="M282.2 167.4L282.7 165.2L283.2 164.2L283.9 163.2L284.8 162.2L286 161.3L287.4 160.5L289 159.7L290.7 158.9L292.6 158.3L294.7 157.7L296.9 157.2L299.2 156.8L301.6 156.5L304.1 156.3L306.6 156.2L309.1 156.1L311.6 156.2L314.1 156.4L316.5 156.7L318.8 157.1L321 157.5L323.1 158.1L325 158.7L328.4 160.2L329.8 161.1L331 162L332 162.9L332.8 163.9L333.3 164.9L333.8 167.1L333.8 168.1L333.5 169.1L333.1 170.2L332.3 171.2L331.4 172.1L330.2 173L328.8 173.9L327.2 174.7L325.4 175.5L323.5 176.1L321.4 176.7L319.2 177.2L316.8 177.6L314.4 177.9L309.4 178.3L306.9 178.3L304.4 178.2L301.9 178L299.5 177.7L297.1 177.3L294.9 176.9L292.8 176.3L290.8 175.6L289 174.9L287.4 174.1L286 173.3L284.8 172.4L283.8 171.4L283 170.4L282.5 169.4L282.2 168.4Z" fill="#aeaeae"/>
<path d="M282.5 166.2L282.9 163.9L283.2 162.9L283.6 161.9L284.3 160.9L285.3 160L286.4 159.1L287.8 158.3L289.3 157.5L291 156.8L292.9 156.1L297.1 155.1L299.4 154.7L301.8 154.4L304.2 154.2L306.6 154L309.1 154L311.5 154.1L313.9 154.3L316.3 154.6L318.6 154.9L320.8 155.4L322.8 156L324.7 156.6L326.5 157.3L328.1 158.1L329.4 158.9L330.6 159.8L331.6 160.7L332.3 161.6L332.8 162.6L333.3 164.9L333.5 165.9L333.5 167L333.3 168L332.8 169L332.1 170L331.2 170.9L330 171.8L328.6 172.7L327 173.5L325.3 174.2L323.4 174.9L321.3 175.5L319.1 176L316.8 176.4L314.4 176.7L311.9 176.9L309.4 177L306.9 177L304.4 176.9L301.9 176.7L299.5 176.5L297.2 176.1L295 175.6L292.9 175.1L291 174.4L289.2 173.7L287.6 172.9L286.2 172.1L285 171.2L284 170.2L283.2 169.3L282.7 168.3L282.5 167.2Z" fill="#b0b0b0"/>
<path d="M282.9 163.9L283.6 160.6L284.1 159.7L284.8 158.7L285.7 157.8L286.8 156.9L288.1 156.1L289.7 155.3L291.4 154.6L293.2 154L295.2 153.4L297.3 153L299.6 152.6L301.9 152.3L304.2 152.1L306.6 152L309.1 151.9L311.5 152L313.8 152.2L316.1 152.5L318.4 152.8L320.5 153.3L322.5 153.8L324.4 154.4L326.1 155.1L327.7 155.9L329 156.7L330.2 157.6L331.1 158.5L331.8 159.4L332.3 160.4L332.6 161.4L333 163.6L333.1 164.6L332.8 165.6L332.4 166.6L331.7 167.6L330.7 168.5L329.6 169.4L328.2 170.3L326.7 171.1L325 171.8L323.1 172.4L321 173L318.9 173.5L316.6 173.9L314.2 174.2L311.8 174.4L309.4 174.5L306.9 174.5L302.1 174.3L299.7 174L297.4 173.6L295.2 173.1L293.2 172.6L291.3 172L289.5 171.3L287.9 170.5L286.6 169.7L285.4 168.8L284.4 167.9L283.7 166.9L283.2 165.9L283 164.9Z" fill="#b2b2b2"/>
<path d="M283.4 161.6L283.6 160.6L284.1 158.4L284.5 157.5L285.2 156.5L286.1 155.6L287.2 154.8L288.5 154L290 153.2L291.7 152.5L293.5 151.9L295.5 151.3L297.5 150.9L299.7 150.5L302 150.2L304.3 150L306.7 149.9L309 149.9L311.4 150L313.7 150.1L316 150.4L318.2 150.8L320.3 151.2L322.3 151.7L324.1 152.3L325.8 153L327.3 153.7L328.6 154.5L329.8 155.4L330.7 156.3L331.4 157.2L331.9 158.2L332.1 159.1L332.6 161.4L332.6 162.4L332.4 163.3L331.9 164.3L331.2 165.3L330.3 166.2L329.2 167L327.9 167.9L324.6 169.4L322.8 170L320.8 170.5L318.7 171L316.4 171.4L314.1 171.7L311.8 171.9L309.4 172L304.5 172L302.2 171.8L299.9 171.5L297.6 171.1L295.5 170.7L293.5 170.2L291.6 169.5L289.9 168.8L288.3 168.1L287 167.3L285.8 166.4L284.9 165.5L284.2 164.6L283.7 163.6L283.4 162.6Z" fill="#b4b4b4"/>
<path d="M283.9 159.4L284.1 158.4L284.6 156.2L285 155.3L285.7 154.4L286.5 153.5L287.6 152.6L288.9 151.8L290.4 151.1L292 150.4L293.8 149.8L295.7 149.3L297.7 148.8L299.9 148.4L302.1 148.1L306.7 147.8L309 147.8L311.3 147.9L313.6 148.1L315.8 148.3L318 148.7L320 149.1L323.8 150.2L325.4 150.9L326.9 151.6L328.2 152.4L329.3 153.2L330.2 154.1L330.9 155L331.4 156L331.9 158.2L332.1 159.1L332.1 160.1L331.9 161L331.5 162L330.8 162.9L329.9 163.8L328.8 164.7L327.5 165.5L326 166.3L324.3 167L322.5 167.6L318.5 168.6L316.3 169L314 169.3L311.7 169.5L309.3 169.6L307 169.6L304.6 169.5L302.3 169.3L300 169.1L297.8 168.7L295.7 168.3L293.7 167.7L291.9 167.1L290.2 166.5L288.7 165.7L287.4 164.9L286.2 164.1L285.3 163.2L284.6 162.3L284.1 161.3L283.9 160.3Z" fill="#b7b7b7"/>
<path d="M284.4 157.2L284.8 155L285 154L285.5 153.1L286.1 152.2L288 150.5L290.7 149L292.3 148.4L294.1 147.8L296 147.2L300 146.4L302.2 146.1L304.5 145.9L306.7 145.8L309 145.8L311.3 145.9L313.5 146.1L315.7 146.3L317.8 146.7L319.8 147.1L321.7 147.6L323.5 148.2L325.1 148.8L326.5 149.5L327.8 150.3L328.9 151.1L329.8 152L330.5 152.9L330.9 153.8L331.2 154.7L331.6 156.9L331.6 157.8L331.4 158.8L331 159.7L330.3 160.6L329.5 161.5L328.4 162.4L327.1 163.2L325.6 163.9L324 164.6L322.2 165.2L320.3 165.7L318.3 166.2L316.1 166.6L313.9 166.9L309.3 167.2L307 167.2L304.7 167.1L302.4 166.9L300.2 166.7L298 166.3L296 165.9L292.2 164.8L290.6 164.1L289.1 163.4L287.8 162.6L286.7 161.8L285.8 160.9L285.1 160L284.6 159L284.4 158.1Z" fill="#b9b9b9"/>
<path d="M284.8 155L285 154L285.5 151.9L285.9 151L286.6 150.1L287.4 149.3L288.4 148.5L289.7 147.7L291.1 147L292.6 146.3L294.4 145.7L296.2 145.2L300.2 144.4L302.3 144.1L306.7 143.9L309 143.8L311.2 143.9L313.4 144.1L315.5 144.3L317.6 144.7L319.6 145.1L321.4 145.6L323.1 146.2L324.7 146.8L326.2 147.5L327.4 148.2L328.5 149L329.3 149.9L330 150.7L330.5 151.6L331.2 154.7L331.2 155.6L331 156.6L330.5 157.5L329.9 158.4L328 160.1L325.3 161.6L323.7 162.2L321.9 162.8L320 163.4L318 163.8L316 164.2L313.8 164.5L311.5 164.7L309.3 164.8L307 164.8L304.7 164.7L300.3 164.3L298.2 163.9L296.2 163.5L294.3 163L292.5 162.4L290.9 161.8L288.2 160.3L287.1 159.5L286.2 158.6L285.5 157.7L285.1 156.8L284.8 155.9Z" fill="#bbbbbb"/>
<path d="M285.3 152.8L285.5 151.9L286 149.8L286.4 148.9L287 148L287.8 147.2L288.8 146.4L290 145.7L291.4 145L293 144.3L294.6 143.7L296.4 143.2L298.4 142.8L300.4 142.5L302.5 142.2L304.6 142L306.8 141.9L309 141.9L313.3 142.1L315.4 142.4L317.4 142.7L319.3 143.1L321.1 143.6L322.8 144.2L324.4 144.8L325.8 145.5L327 146.2L328 147L328.9 147.8L329.5 148.7L330 149.5L330.5 151.6L330.7 152.5L330.7 153.5L330.5 154.4L330.1 155.3L329.4 156.1L328.6 157L327.6 157.8L326.3 158.6L324.9 159.3L323.4 159.9L321.6 160.5L319.8 161L317.8 161.5L315.8 161.8L313.7 162.1L311.5 162.3L309.3 162.4L307 162.4L304.8 162.3L302.6 162.2L300.5 161.9L298.4 161.6L296.4 161.2L294.6 160.7L292.9 160.1L289.8 158.8L288.6 158L287.5 157.2L286.7 156.4L286 155.5L285.5 154.6L285.3 153.7Z" fill="#bdbdbd"/>
<path d="M285.8 150.7L286.2 148.6L286.4 147.7L286.8 146.8L287.5 146L288.3 145.2L289.3 144.4L290.4 143.7L291.8 143L293.3 142.4L294.9 141.8L296.7 141.3L300.5 140.5L304.7 140.1L306.8 140L308.9 140L311.1 140.1L313.2 140.2L317.2 140.8L319.1 141.2L320.9 141.7L322.5 142.2L324 142.8L325.4 143.5L326.6 144.2L327.6 145L328.5 145.8L329.1 146.6L329.5 147.4L330 149.5L330.2 150.4L330.2 151.3L330 152.2L329.6 153.1L329 153.9L328.2 154.8L327.2 155.5L326 156.3L324.6 157L321.4 158.2L319.6 158.7L315.6 159.5L313.5 159.8L311.4 160L309.2 160.1L307 160.1L304.9 160L302.7 159.8L300.6 159.6L298.6 159.3L294.9 158.4L293.2 157.8L291.6 157.2L290.2 156.5L289 155.8L288 155L287.1 154.2L286.5 153.3L286 152.4L285.8 151.5Z" fill="#bfbfbf"/>
<path d="M286.2 148.6L286.4 147.7L286.9 145.6L287.3 144.8L287.9 144L288.7 143.2L289.7 142.4L290.8 141.7L292.1 141L293.6 140.4L295.2 139.9L296.9 139.4L300.7 138.6L304.7 138.2L306.8 138.1L308.9 138.1L311 138.2L313 138.3L315 138.6L317 138.9L320.6 139.7L322.2 140.3L323.7 140.9L325 141.5L326.2 142.2L327.2 143L328 143.8L328.6 144.6L329 145.4L329.3 146.3L329.7 148.3L329.8 149.2L329.6 150.1L329.2 150.9L328.5 151.8L327.7 152.6L325.6 154.1L324.2 154.8L322.7 155.4L321.1 155.9L319.3 156.4L317.4 156.9L315.5 157.2L313.4 157.5L311.3 157.7L309.2 157.8L307.1 157.8L304.9 157.7L302.8 157.5L300.8 157.3L298.8 157L296.9 156.6L295.1 156.1L293.5 155.5L292 154.9L290.6 154.3L289.4 153.5L288.4 152.8L287.5 152L286.9 151.1L286.5 150.3L286.3 149.4Z" fill="#c1c1c1"/>
<path d="M286.7 146.5L286.9 145.6L287.4 143.6L287.8 142.8L288.3 142L289.1 141.2L290.1 140.5L291.2 139.8L292.5 139.1L293.9 138.5L295.5 138L297.2 137.5L299 137.1L302.8 136.5L306.8 136.3L310.9 136.3L314.9 136.7L316.8 137L318.6 137.4L320.3 137.9L321.9 138.4L323.3 139L324.6 139.6L325.8 140.3L326.8 141L327.6 141.8L328.2 142.6L328.6 143.4L328.8 144.2L329.3 146.3L329.3 147.1L329.1 148L328.7 148.8L328.1 149.6L327.3 150.4L326.3 151.2L325.2 151.9L323.9 152.6L322.4 153.2L320.8 153.7L319.1 154.2L315.3 155L311.3 155.4L309.2 155.5L307.1 155.5L305 155.4L303 155.3L299 154.7L297.2 154.3L295.4 153.9L293.8 153.3L292.3 152.7L291 152.1L289.8 151.4L288.8 150.6L288 149.8L287.4 149L287 148.2L286.7 147.3Z" fill="#c3c3c3"/>
<path d="M287.2 144.5L287.8 141.7L288.2 140.8L288.8 140.1L289.5 139.3L290.5 138.6L291.6 137.9L292.8 137.3L294.2 136.7L295.8 136.1L297.4 135.7L299.2 135.3L301 135L302.9 134.7L304.9 134.5L308.9 134.4L310.9 134.5L312.8 134.7L314.7 134.9L316.6 135.2L318.4 135.6L320 136L321.6 136.5L323 137.1L324.3 137.7L325.4 138.4L326.3 139.1L327.1 139.9L327.7 140.6L328.1 141.4L328.6 143.4L328.8 144.2L328.8 145.1L328.6 145.9L328.2 146.7L327.7 147.5L326.9 148.3L325.9 149L324.8 149.7L323.5 150.4L322.1 151L320.5 151.5L318.8 152L317 152.4L313.2 153L311.2 153.2L309.2 153.3L307.1 153.3L305.1 153.2L301.1 152.8L299.2 152.5L297.4 152.1L295.7 151.7L292.7 150.6L291.4 149.9L290.2 149.2L289.2 148.5L288.4 147.7L287.8 146.9L287.4 146.1L287.2 145.3Z" fill="#c5c5c5"/>
<path d="M287.7 142.5L287.8 141.7L288.3 139.7L288.7 138.9L289.2 138.2L290 137.4L290.9 136.7L292 136L293.2 135.4L296.1 134.3L297.7 133.9L299.4 133.5L301.2 133.2L303 132.9L306.9 132.7L310.8 132.7L314.6 133.1L316.4 133.4L318.1 133.8L319.7 134.2L321.3 134.7L323.9 135.9L325 136.5L325.9 137.2L326.7 138L327.3 138.7L327.6 139.5L328.1 141.4L328.3 142.2L328.3 143.1L328.2 143.9L327.8 144.7L327.2 145.5L326.5 146.2L325.5 146.9L324.4 147.6L323.2 148.3L320.2 149.4L318.6 149.8L315 150.6L313.1 150.8L311.1 151L309.1 151.1L307.1 151.1L305.1 151L303.2 150.9L299.4 150.3L297.6 150L294.4 149L293 148.4L291.7 147.8L290.6 147.1L289.7 146.4L288.9 145.7L288.3 144.9L287.9 144.1L287.7 143.3Z" fill="#c7c7c7"/>
<path d="M288.1 140.5L288.3 139.7L288.8 137.8L289.1 137.1L289.7 136.3L290.4 135.6L291.3 134.9L292.3 134.2L293.5 133.6L294.9 133.1L296.3 132.6L297.9 132.1L301.3 131.5L303.2 131.2L305 131.1L306.9 131L310.7 131L312.6 131.2L314.4 131.4L316.2 131.7L317.9 132L319.5 132.4L320.9 132.9L322.3 133.5L323.5 134.1L324.6 134.7L325.5 135.4L326.2 136.1L326.8 136.9L327.2 137.6L327.4 138.4L327.8 140.3L327.9 141.1L327.7 141.9L327.3 142.7L326.8 143.4L326 144.2L325.1 144.9L324 145.6L322.8 146.2L319.9 147.3L318.3 147.7L316.6 148.1L314.8 148.4L313 148.7L309.1 148.9L305.2 148.9L301.4 148.5L299.6 148.2L297.9 147.8L296.3 147.4L294.7 146.9L293.4 146.3L292.1 145.7L291 145.1L290.1 144.4L289.3 143.6L288.7 142.9L288.4 142.1L288.2 141.3Z" fill="#c9c9c9"/>
<path d="M288.6 138.6L288.8 137.8L289.1 136.7L289.3 136L289.6 135.2L290.1 134.5L290.8 133.8L291.7 133.1L292.7 132.5L293.9 131.9L295.2 131.3L298.2 130.4L299.8 130.1L301.5 129.8L303.3 129.5L305.1 129.4L307 129.3L310.7 129.3L314.3 129.7L316 130L317.6 130.3L319.2 130.7L320.6 131.2L321.9 131.7L323.1 132.3L324.2 132.9L325.1 133.6L325.8 134.3L326.3 135L326.7 135.8L326.9 136.5L327.2 137.6L327.4 138.4L327.4 139.2L327.2 139.9L326.9 140.7L326.3 141.5L325.6 142.2L324.7 142.9L323.7 143.5L322.5 144.1L321.1 144.7L319.7 145.2L318.1 145.6L316.4 146L314.7 146.3L312.8 146.6L311 146.7L309.1 146.8L307.2 146.8L303.4 146.6L301.6 146.4L299.8 146.1L298.1 145.7L296.5 145.3L293.7 144.3L292.5 143.7L291.4 143.1L290.5 142.4L289.8 141.7L289.2 140.9L288.8 140.2L288.6 139.4Z" fill="#cbcbcb"/>
<path d="M289.1 136.7L289.7 134.2L290.1 133.4L290.6 132.7L291.3 132L292.1 131.4L293.1 130.8L294.2 130.2L295.5 129.7L296.9 129.2L298.4 128.8L300 128.4L301.7 128.1L303.4 127.9L305.2 127.7L307 127.6L308.8 127.6L312.4 127.8L314.1 128L315.8 128.3L317.4 128.7L318.9 129.1L320.3 129.5L321.6 130L322.8 130.6L323.8 131.2L325.3 132.5L325.9 133.2L326.2 134L326.4 134.7L326.9 136.5L326.9 137.3L326.7 138L326.4 138.8L325.9 139.5L325.2 140.2L324.3 140.9L323.3 141.5L322.1 142.1L320.8 142.7L319.4 143.2L317.8 143.6L316.2 144L314.5 144.3L312.7 144.5L310.9 144.6L309 144.7L305.3 144.7L301.7 144.3L300 144L298.4 143.7L296.8 143.3L295.4 142.8L294.1 142.3L292.9 141.7L291.8 141.1L290.9 140.4L290.2 139.7L289.7 139L289.3 138.2L289.1 137.5Z" fill="#cdcdcd"/>
<path d="M289.6 134.9L289.7 134.2L290 133.1L290.2 132.4L290.5 131.7L291 131L291.7 130.3L292.5 129.7L293.5 129.1L294.6 128.5L295.8 128L297.2 127.5L298.7 127.1L300.2 126.8L301.8 126.5L305.2 126.1L308.8 126L312.3 126.2L314 126.4L315.6 126.7L317.1 127L318.6 127.4L320 127.9L322.4 128.9L323.4 129.5L324.9 130.8L325.4 131.5L325.8 132.2L326 132.9L326.4 134.7L326.4 135.4L326.3 136.2L325.9 136.9L325.4 137.6L324.7 138.3L323.9 139L322.9 139.6L321.8 140.2L320.5 140.7L319.1 141.2L317.6 141.6L316 142L312.6 142.5L309 142.7L305.4 142.7L303.6 142.5L301.9 142.3L300.2 142L298.6 141.7L297.1 141.3L295.7 140.8L294.4 140.3L293.2 139.8L292.2 139.1L291.4 138.5L290.7 137.8L290.1 137.1L289.8 136.4L289.6 135.6Z" fill="#cfcfcf"/>
<path d="M290 133.1L290.2 132.4L290.7 130.7L291 130L291.5 129.3L292.1 128.7L292.9 128.1L294.9 126.9L296.2 126.4L297.5 126L298.9 125.6L300.4 125.2L302 124.9L303.6 124.7L305.3 124.6L307 124.5L308.7 124.5L310.5 124.6L312.1 124.7L313.8 124.9L315.4 125.1L318.3 125.8L319.7 126.3L320.9 126.8L322 127.3L323 127.9L323.8 128.5L324.5 129.2L325 129.8L325.3 130.5L325.8 132.2L326 132.9L326 133.7L325.8 134.4L325.5 135.1L325 135.8L323.5 137.1L322.5 137.7L321.4 138.3L320.2 138.8L318.8 139.2L315.8 140L314.2 140.3L312.5 140.5L310.8 140.6L309 140.7L305.5 140.7L303.7 140.5L302 140.3L300.4 140.1L297.4 139.4L296 138.9L293.6 137.9L292.6 137.3L291.1 136L290.6 135.3L290.2 134.6L290 133.9Z" fill="#d1d1d1"/>
<path d="M290.5 131.4L291.1 129L291.4 128.4L291.9 127.7L293.3 126.5L294.2 125.9L295.3 125.4L296.5 124.9L297.8 124.4L299.1 124L300.6 123.7L302.2 123.4L303.8 123.2L305.4 123.1L307.1 123L308.7 123L310.4 123.1L312 123.2L315.2 123.6L316.7 123.9L318.1 124.3L319.4 124.7L320.6 125.2L321.6 125.7L322.6 126.3L323.4 126.9L324 127.5L324.5 128.2L324.8 128.8L325.3 130.5L325.5 131.2L325.5 131.9L325.3 132.6L325 133.3L324.5 134L323.9 134.6L323.1 135.3L321.1 136.4L319.8 136.9L318.5 137.3L317.1 137.7L315.6 138.1L314 138.4L312.4 138.6L309 138.8L307.3 138.8L305.5 138.7L303.9 138.6L302.2 138.4L300.6 138.2L297.7 137.5L296.3 137L295.1 136.5L294 136L293 135.4L292.2 134.8L291.5 134.2L291 133.5L290.7 132.8L290.5 132.1Z" fill="#d3d3d3"/>
<path d="M291 129.7L291.1 129L291.6 127.4L291.9 126.8L292.4 126.1L293 125.5L293.7 124.9L294.6 124.4L295.7 123.8L298 122.9L300.8 122.2L302.3 122L303.9 121.8L305.5 121.6L310.3 121.6L311.9 121.7L313.5 121.9L315 122.2L317.8 122.8L319 123.2L320.2 123.7L321.2 124.2L322.2 124.8L322.9 125.3L323.6 126L324 126.6L324.4 127.2L325 129.5L325 130.2L324.9 130.9L324.6 131.6L324.1 132.2L323.4 132.9L322.7 133.5L321.8 134L320.7 134.6L319.5 135.1L316.9 135.9L315.4 136.2L313.8 136.5L312.2 136.7L310.6 136.8L308.9 136.9L305.6 136.9L302.4 136.6L300.8 136.3L299.3 136L297.9 135.6L296.6 135.2L295.4 134.7L294.4 134.2L293.4 133.6L292.6 133L292 132.4L291.5 131.7L291.2 131.1L291 130.4Z" fill="#d5d5d5"/>
<path d="M291.4 128.1L291.6 127.4L292.1 125.8L292.4 125.2L292.8 124.6L293.4 124L294.1 123.4L295 122.9L296 122.4L297.1 121.9L298.3 121.5L299.6 121.1L301 120.8L302.5 120.6L305.5 120.2L310.3 120.2L311.8 120.3L314.8 120.7L316.2 121L317.5 121.4L318.7 121.8L319.9 122.2L320.9 122.7L321.8 123.3L322.5 123.8L323.1 124.4L323.6 125L323.9 125.7L324.1 126.3L324.4 127.2L324.6 128.6L324.4 129.2L324.1 129.9L323.6 130.5L323 131.1L322.3 131.7L321.4 132.3L320.3 132.8L319.2 133.3L318 133.7L316.6 134.1L315.2 134.4L313.7 134.7L312.1 134.9L308.9 135.1L307.3 135.1L305.7 135L304.1 134.9L302.5 134.7L301 134.5L299.6 134.2L298.2 133.8L297 133.4L295.8 132.9L293.8 131.9L292.4 130.7L292 130.1L291.6 129.4Z" fill="#d7d7d7"/>
<path d="M291.9 126.5L292.5 124.3L292.8 123.7L293.3 123.1L293.8 122.5L295.4 121.4L297.4 120.5L298.6 120.1L301.2 119.4L302.6 119.2L304.1 119L307.1 118.8L308.7 118.8L313.2 119.1L314.6 119.4L317.2 120L318.4 120.4L319.5 120.8L320.5 121.3L321.3 121.8L322.1 122.4L322.7 123L323.1 123.5L323.4 124.2L323.6 124.8L324.1 126.3L324.1 127L323.9 127.6L323.6 128.2L323.2 128.9L322.6 129.5L321.9 130L321 130.6L320 131.1L317.7 132L316.4 132.3L315 132.6L313.5 132.9L312 133.1L310.5 133.2L308.9 133.3L307.3 133.3L305.7 133.2L304.2 133.1L302.7 132.9L301.2 132.7L299.8 132.4L298.5 132.1L297.3 131.7L296.1 131.2L295.1 130.7L294.2 130.2L293.5 129.6L292.9 129L292.4 128.4L292.1 127.8L291.9 127.1Z" fill="#d9d9d9"/>
<path d="M292.4 125L292.5 124.3L293 122.9L293.3 122.3L293.7 121.7L294.3 121.1L295 120.6L295.8 120.1L296.7 119.6L298.9 118.8L300.1 118.4L301.4 118.1L304.2 117.7L305.7 117.6L307.2 117.5L308.6 117.5L310.1 117.6L311.6 117.7L313 117.8L315.7 118.3L318.1 119.1L319.2 119.5L320.1 119.9L320.9 120.4L321.7 121L322.2 121.5L322.7 122.1L323 122.7L323.6 124.8L323.6 125.4L323.5 126L323.2 126.7L322.7 127.3L322.2 127.8L321.4 128.4L320.6 128.9L318.6 129.9L317.4 130.3L314.8 130.9L313.4 131.2L311.9 131.4L308.9 131.6L307.3 131.6L304.3 131.4L302.8 131.2L301.4 131L298.8 130.4L297.6 130L295.5 129.1L293.9 128L293.3 127.4L292.9 126.8L292.6 126.2L292.4 125.6Z" fill="#dbdbdb"/>
<path d="M292.9 123.5L293 122.9L293.3 122L293.7 120.9L294.2 120.3L294.7 119.8L295.4 119.2L296.2 118.7L297.1 118.3L298.1 117.9L299.2 117.5L300.4 117.2L301.6 116.9L303 116.6L305.8 116.3L310.1 116.3L311.5 116.4L312.9 116.6L314.2 116.8L315.5 117.1L316.7 117.4L317.8 117.8L318.8 118.2L319.7 118.6L320.5 119.1L321.2 119.6L321.8 120.2L322.2 120.7L322.5 121.3L323 122.7L323.1 123.3L323.1 123.9L323 124.5L322.7 125.1L322.3 125.7L321.7 126.3L321 126.8L320.2 127.3L319.3 127.8L317.1 128.6L315.9 129L314.6 129.3L311.8 129.7L310.3 129.8L308.8 129.9L307.4 129.9L305.9 129.8L304.4 129.7L301.6 129.3L300.3 129L299.1 128.7L297.9 128.3L296.8 127.9L295.9 127.4L294.3 126.4L293.8 125.9L293.3 125.3L293 124.7L292.9 124.1Z" fill="#dddddd"/>
<path d="M293.3 122L293.9 120.1L294.2 119.5L294.6 119L295.1 118.5L296.5 117.5L297.4 117L298.4 116.6L300.6 115.9L303.1 115.4L305.8 115.1L310 115.1L311.4 115.2L314 115.6L315.2 115.8L317.5 116.5L318.5 116.9L319.4 117.3L320.1 117.8L320.8 118.3L321.3 118.8L321.8 119.4L322 119.9L322.5 121.3L322.7 121.9L322.7 122.5L322.5 123.1L322.3 123.6L321.8 124.2L321.3 124.7L320.6 125.3L319.8 125.8L318.9 126.2L317.9 126.6L316.8 127L315.6 127.4L313 127.9L311.7 128.1L310.2 128.2L305.9 128.2L304.5 128.1L303.1 127.9L301.8 127.7L300.5 127.4L299.3 127.1L298.2 126.8L296.3 125.9L295.5 125.4L294.8 124.9L294.2 124.3L293.8 123.8L293.5 123.2L293.3 122.6Z" fill="#dfdfdf"/>
<path d="M293.8 120.7L293.9 120.1L294.4 118.8L294.7 118.2L295 117.7L296.2 116.7L296.9 116.3L297.8 115.8L298.7 115.4L300.9 114.8L302.1 114.5L303.3 114.3L304.6 114.1L305.9 114L307.2 113.9L308.6 113.9L311.3 114.1L312.5 114.2L313.8 114.4L315 114.7L316.1 115L317.2 115.3L318.1 115.7L319 116.1L320.4 117.1L320.9 117.6L321.3 118.1L321.6 118.6L322.2 120.5L322.2 121.1L322.1 121.6L321.8 122.2L321.4 122.7L320.9 123.3L319.5 124.3L318.6 124.7L317.6 125.1L316.5 125.5L315.4 125.8L314.2 126.1L312.9 126.3L311.5 126.5L310.2 126.6L308.8 126.7L307.4 126.7L304.6 126.5L303.3 126.4L300.8 125.9L299.6 125.6L298.5 125.2L297.5 124.8L296.6 124.4L295.9 123.9L295.2 123.4L294.2 122.4L293.8 121.2Z" fill="#e1e1e1"/>
<path d="M294.3 119.3L294.4 118.8L294.9 117.5L295.1 117L295.5 116.5L296 116L296.6 115.5L297.3 115.1L298.1 114.7L299 114.3L300 113.9L301.1 113.6L304.7 113L307.3 112.8L308.6 112.8L309.9 112.9L312.4 113.1L313.6 113.3L315.8 113.9L316.8 114.2L317.8 114.6L318.6 115L319.3 115.4L319.9 115.9L320.4 116.4L320.8 116.9L321.1 117.4L321.6 118.6L321.7 119.2L321.7 119.7L321.6 120.3L321 121.4L319.8 122.4L319.1 122.8L317.3 123.6L316.2 124L315.1 124.3L313.9 124.6L312.7 124.8L311.4 125L310.1 125.1L306.1 125.1L304.7 125L302.2 124.6L301 124.4L299.9 124.1L297.9 123.4L297 122.9L296.3 122.5L295.6 122L295.1 121.5L294.7 121L294.4 120.4L294.3 119.9Z" fill="#e3e3e3"/>
<path d="M294.8 118.1L294.9 117.5L295.3 116.3L295.9 115.3L297 114.4L297.7 114L298.5 113.6L299.4 113.2L300.3 112.9L301.4 112.6L302.5 112.3L303.6 112.1L306 111.9L307.3 111.8L308.5 111.8L311 111.9L312.2 112.1L313.4 112.3L314.5 112.5L316.5 113.1L317.4 113.5L318.2 113.9L318.9 114.3L319.5 114.7L320 115.2L320.4 115.7L321.1 117.4L321.2 117.9L321.2 118.4L321.1 119L320.9 119.5L320.5 120L320 120.5L319.4 121L318.7 121.4L317.9 121.8L317 122.2L316 122.6L314.9 122.9L311.3 123.5L308.7 123.7L307.4 123.7L306.1 123.6L303.6 123.4L302.4 123.2L300.2 122.6L299.2 122.3L298.2 121.9L297.4 121.5L296.7 121.1L296.1 120.6L295.6 120.1L295.2 119.6L294.9 119.1L294.8 118.6Z" fill="#e5e5e5"/>
<path d="M295.2 116.8L295.3 116.3L296 114.7L296.4 114.2L296.8 113.8L297.4 113.3L298.8 112.5L299.7 112.2L300.6 111.9L301.6 111.6L302.7 111.3L303.8 111.1L304.9 111L307.3 110.8L308.5 110.8L312.1 111.1L314.3 111.5L315.3 111.8L317.1 112.4L317.8 112.8L318.5 113.2L319.1 113.6L319.6 114.1L320.2 115.1L320.8 116.7L320.8 117.2L320.7 117.7L320.1 118.7L319.6 119.2L319 119.7L318.3 120.1L317.5 120.5L316.6 120.9L315.7 121.2L314.6 121.5L312.4 121.9L311.2 122.1L310 122.2L306.2 122.2L303.8 122L302.6 121.8L300.5 121.3L298.6 120.6L297.8 120.2L297.1 119.8L296 118.9L295.6 118.4L295.4 117.9L295.2 117.4Z" fill="#e7e7e7"/>
<path d="M295.7 115.7L295.8 115.2L296 114.7L296.7 113.1L297.5 112.2L298 111.8L298.6 111.4L300.2 110.7L301 110.4L303 109.9L305.1 109.6L306.2 109.5L309.6 109.5L310.7 109.6L311.8 109.7L312.9 109.9L313.9 110.1L314.8 110.4L315.7 110.7L317.3 111.3L318.5 112.1L318.9 112.5L319.5 113.4L320.2 115.1L320.3 115.5L320.3 116L320.2 116.5L320 117L319.6 117.5L319.2 117.9L318.6 118.4L317.2 119.2L315.4 119.9L313.3 120.4L312.2 120.6L311.1 120.7L308.7 120.9L307.5 120.9L305.1 120.8L303.9 120.6L302.8 120.4L301.7 120.2L300.7 119.9L298.9 119.3L298.2 118.9L297.5 118.5L296.9 118.1L296.4 117.6L295.8 116.7L295.7 116.2Z" fill="#e9e9e9"/>
<path d="M296.4 114L296.5 113.6L296.7 113.1L297.2 112.1L297.5 111.7L297.9 111.3L298.4 110.9L299 110.5L300.5 109.8L302.2 109.3L303.2 109.1L304.2 108.9L305.2 108.8L307.4 108.6L308.5 108.6L310.6 108.7L312.7 109L313.7 109.2L314.6 109.5L316.2 110.1L316.9 110.4L317.5 110.8L318 111.2L318.8 112L319.5 113.4L319.6 113.9L319.6 114.4L319.5 114.8L319.3 115.3L318.5 116.2L318 116.6L317.4 117L315.8 117.7L315 118L313 118.5L310.9 118.8L309.8 118.9L306.4 118.9L304.2 118.7L303.1 118.5L302.1 118.3L300.3 117.8L298.7 117.1L297.5 116.3L297.1 115.9L296.5 115L296.4 114.5Z" fill="#ebebeb"/>
<path d="M296.9 113L297 112.6L297.2 112.1L297.7 111.2L298 110.8L298.3 110.4L298.8 110L299.4 109.6L300.8 109L301.6 108.7L303.4 108.3L304.3 108.1L305.3 108L307.4 107.8L308.5 107.8L311.5 108.1L312.5 108.2L313.4 108.4L315.1 108.9L315.8 109.2L317.1 109.9L317.6 110.3L318 110.7L318.3 111.1L318.8 112L319 112.4L319.1 112.9L319.1 113.3L319 113.8L318.8 114.2L318.5 114.6L318.1 115.1L317.6 115.5L316.3 116.2L314.7 116.8L312.8 117.3L310.8 117.6L309.7 117.7L306.4 117.7L304.3 117.5L302.3 117.1L301.4 116.9L299.8 116.3L298.5 115.6L298 115.2L297.6 114.8L297.2 114.3L297 113.9L296.9 113.5Z" fill="#ededed"/>
<path d="M297.4 112L297.5 111.6L297.9 110.7L298.1 110.3L298.4 109.9L298.8 109.5L299.2 109.2L299.8 108.8L300.4 108.5L301.1 108.2L302.7 107.7L303.6 107.5L305.5 107.2L307.4 107.1L309.4 107.1L311.4 107.3L312.3 107.5L313.2 107.7L314.8 108.1L315.5 108.4L316.1 108.7L317.2 109.4L317.6 109.8L317.9 110.2L318.1 110.6L318.5 111.5L318.6 111.9L318.6 112.3L318.5 112.8L318.3 113.2L317.7 114L317.2 114.4L315.9 115.1L315.2 115.4L314.4 115.7L313.5 115.9L311.7 116.3L310.7 116.4L309.6 116.5L306.5 116.5L305.5 116.4L304.5 116.3L302.6 116L300.9 115.5L300.2 115.2L298.9 114.5L298.4 114.1L298 113.7L297.7 113.3L297.5 112.9L297.4 112.5Z" fill="#eeeeee"/>
<path d="M297.8 111.1L297.9 110.7L298.1 110.3L300 107.3L300.2 107L300.5 106.7L300.9 106.4L301.3 106.1L302.4 105.6L303 105.4L303.7 105.2L305.2 104.9L305.9 104.8L307.5 104.7L309.2 104.7L310 104.8L311.5 105L312.9 105.4L313.5 105.6L314.1 105.8L314.6 106L315.1 106.3L315.5 106.6L315.8 106.9L316 107.2L317.9 110.2L318.1 110.6L318.2 111L318.2 111.4L318.1 111.8L317.9 112.2L317.6 112.6L316.8 113.4L315.6 114L314.9 114.3L314.1 114.6L313.3 114.8L311.5 115.2L309.6 115.4L306.6 115.4L304.6 115.2L302.8 114.9L301.2 114.4L300.5 114.1L299.9 113.8L299.3 113.5L298.8 113.1L298.4 112.7L298.1 112.3L297.9 111.9L297.8 111.5Z" fill="#ffffff"/>
<path d="M299.7 108L299.8 107.7L300 107.3L300.2 107L302 104.9L302.2 104.7L302.8 104.2L303.2 104L305.2 103.4L305.8 103.3L307 103.2L309.5 103.2L310.1 103.3L311.3 103.5L312.3 103.8L313.1 104.2L313.5 104.4L313.8 104.6L315.8 106.9L316 107.2L316.2 107.6L316.3 107.9L316.3 108.2L316.2 108.6L316 108.9L315.8 109.2L315.5 109.5L315.1 109.8L314.7 110.1L313.6 110.6L313 110.8L312.3 111L310.8 111.3L310.1 111.4L308.5 111.5L306.8 111.5L306 111.4L304.5 111.2L303.1 110.8L301.9 110.4L301.4 110.2L300.9 109.9L300.5 109.6L300.2 109.3L300 109L299.8 108.6L299.7 108.3Z" fill="#ffffff"/>
<path d="M301.6 105.7L301.7 105.4L301.8 105.2L302 104.9L302.2 104.7L302.8 104.2L304.1 103.3L304.6 103L305.3 102.8L306.9 102.4L309.1 102.4L310.3 102.6L310.7 102.7L311 102.8L311.6 103.1L312.1 103.4L313.8 104.6L314.2 105.1L314.4 105.6L314.4 105.9L314.2 106.4L313.8 106.9L313.2 107.3L312.8 107.5L311.8 107.9L310.8 108.1L310.2 108.2L309 108.4L307.1 108.4L305.3 108.2L304.2 107.9L303.3 107.6L302.9 107.4L302.2 106.9L302 106.7L301.8 106.4L301.7 106.2L301.6 105.9Z" fill="#ffffff"/>
<path d="M303.5 104L303.6 103.8L303.9 103.5L304.1 103.3L304.6 103L305.3 102.8L306.4 102.5L307.4 102.3L308.6 102.3L309.3 102.4L310.3 102.6L310.7 102.7L311 102.8L311.6 103.1L312.1 103.4L312.4 103.8L312.5 104.1L312.5 104.5L312.1 105L311.6 105.3L311 105.6L310.7 105.7L309.9 105.9L309.1 106L308.2 106.1L307.8 106.1L306.5 106L305.3 105.7L304.7 105.5L304.2 105.2L303.9 105L303.6 104.7L303.5 104.3Z" fill="#ffffff"/>
<path d="M305.4 103.2L305.5 103L305.6 102.9L305.9 102.7L306.4 102.5L307.4 102.3L308.6 102.3L309.3 102.4L309.9 102.6L310.1 102.7L310.6 103.2L310.6 103.5L310.5 103.7L310.4 103.8L310.1 104L309.9 104.1L309.4 104.3L308.9 104.4L307.1 104.4L306.3 104.2L305.9 104L305.4 103.5Z" fill="#ffffff"/>
<path d="M307.3 103L307.4 102.9L307.5 102.8L308.5 102.8L308.6 102.9L308.7 103L308.7 103.2L308.5 103.3L308 103.4L307.5 103.3L307.3 103.2Z" fill="#ffffff"/>
<rect x="297" y="112.8" width="23" height="6" fill="#eeeeee"/>
<rect x="295" y="98.8" width="27" height="14" fill="#fff"/>
<line x1="95.5" y1="74" x2="95.5" y2="289.3" class="ax"/>
<line x1="88" y1="74" x2="95.5" y2="74" class="ax"/>
<line x1="88" y1="183.6" x2="101" y2="183.6" class="ax"/>
<line x1="88" y1="289.3" x2="97" y2="289.3" class="ax"/>
<text x="86.4" y="81" text-anchor="end">1.0</text>
<text x="85" y="188" text-anchor="end">0.5</text>
<text x="86" y="294.7" text-anchor="end">0.0</text>
<text x="118" y="102" text-anchor="start">a</text>
<text x="98.6" y="321.4" text-anchor="end">0.2</text>
<text x="180.7" y="363.5" text-anchor="end">0.0</text>
<text x="270.7" y="409" text-anchor="end">&#8722;0.2</text>
<text x="350.7" y="408.8" text-anchor="end">&#8722;0.2</text>
<text x="444.7" y="376" text-anchor="end">0.0</text>
<text x="544.3" y="347" text-anchor="end">0.2</text>
<text transform="translate(107.5,376.8) rotate(28)"><tspan font-style="italic">y</tspan>/mm</text>
<text transform="translate(415,411) rotate(-16.5)"><tspan font-style="italic">x</tspan>/mm</text>
<text transform="translate(22.8,314.8) rotate(-90)">light intensity/(W&#183;m<tspan font-size="18" dy="-9.5">&#8722;2</tspan><tspan dy="9.5">)</tspan></text>
<text x="608.2" y="50.7" text-anchor="start">0.9</text>
<text x="608.2" y="89.23" text-anchor="start">0.8</text>
<text x="608.2" y="127.76" text-anchor="start">0.7</text>
<text x="608.2" y="166.29" text-anchor="start">0.6</text>
<text x="608.2" y="204.82" text-anchor="start">0.5</text>
<text x="608.2" y="243.35" text-anchor="start">0.4</text>
<text x="608.2" y="281.88" text-anchor="start">0.3</text>
<text x="608.2" y="320.41" text-anchor="start">0.2</text>
<text x="608.2" y="358.94" text-anchor="start">0.1</text>
<text transform="translate(685,327.2) rotate(-90)">light intensity/(W&#183;m<tspan font-size="18" dy="-9.5">&#8722;2</tspan><tspan dy="9.5">)</tspan></text>
<line x1="184.6" y1="339.2" x2="178.6" y2="343.4" class="ft"/>
<line x1="97.5" y1="292" x2="92.5" y2="296" class="ft"/>
<defs><linearGradient id="ga" x1="0" y1="1" x2="0" y2="0"><stop offset="0" stop-color="#1b1b1b"/><stop offset="0.02" stop-color="#1e1e1e"/><stop offset="0.04" stop-color="#212121"/><stop offset="0.06" stop-color="#242424"/><stop offset="0.08" stop-color="#272727"/><stop offset="0.1" stop-color="#2a2a2a"/><stop offset="0.12" stop-color="#2e2e2e"/><stop offset="0.14" stop-color="#323232"/><stop offset="0.16" stop-color="#363636"/><stop offset="0.18" stop-color="#3a3a3a"/><stop offset="0.2" stop-color="#3e3e3e"/><stop offset="0.22" stop-color="#434343"/><stop offset="0.24" stop-color="#484848"/><stop offset="0.26" stop-color="#4e4e4e"/><stop offset="0.28" stop-color="#535353"/><stop offset="0.3" stop-color="#585858"/><stop offset="0.32" stop-color="#5d5d5d"/><stop offset="0.34" stop-color="#626262"/><stop offset="0.36" stop-color="#666666"/><stop offset="0.38" stop-color="#6b6b6b"/><stop offset="0.4" stop-color="#707070"/><stop offset="0.42" stop-color="#767676"/><stop offset="0.44" stop-color="#7c7c7c"/><stop offset="0.46" stop-color="#828282"/><stop offset="0.48" stop-color="#888888"/><stop offset="0.5" stop-color="#8e8e8e"/><stop offset="0.52" stop-color="#939393"/><stop offset="0.54" stop-color="#989898"/><stop offset="0.56" stop-color="#9e9e9e"/><stop offset="0.58" stop-color="#a3a3a3"/><stop offset="0.6" stop-color="#a8a8a8"/><stop offset="0.62" stop-color="#acacac"/><stop offset="0.64" stop-color="#b1b1b1"/><stop offset="0.66" stop-color="#b5b5b5"/><stop offset="0.68" stop-color="#bababa"/><stop offset="0.7" stop-color="#bebebe"/><stop offset="0.72" stop-color="#c2c2c2"/><stop offset="0.74" stop-color="#c6c6c6"/><stop offset="0.76" stop-color="#cacaca"/><stop offset="0.78" stop-color="#cfcfcf"/><stop offset="0.8" stop-color="#d4d4d4"/><stop offset="0.82" stop-color="#dadada"/><stop offset="0.84" stop-color="#dfdfdf"/><stop offset="0.86" stop-color="#e6e6e6"/><stop offset="0.88" stop-color="#ededed"/><stop offset="0.897" stop-color="#f3f3f3"/><stop offset="0.9" stop-color="#ffffff"/><stop offset="1" stop-color="#ffffff"/></linearGradient><linearGradient id="gab" x1="0" y1="1" x2="0" y2="0"><stop offset="0" stop-color="#262626"/><stop offset="0.4" stop-color="#5e5e5e"/><stop offset="0.6" stop-color="#7a7a7a"/><stop offset="1" stop-color="#858585"/></linearGradient></defs>
<rect x="558.7" y="3.6" width="42.1" height="384" fill="url(#ga)" stroke="url(#gab)" stroke-width="3.3"/>
<line x1="558.7" y1="41.1" x2="562.7" y2="41.1" class="cbt"/>
<line x1="596.8" y1="41.1" x2="600.8" y2="41.1" class="cbt"/>
<line x1="558.7" y1="79.7" x2="562.7" y2="79.7" class="cbt"/>
<line x1="596.8" y1="79.7" x2="600.8" y2="79.7" class="cbt"/>
<line x1="558.7" y1="118.3" x2="562.7" y2="118.3" class="cbt"/>
<line x1="596.8" y1="118.3" x2="600.8" y2="118.3" class="cbt"/>
<line x1="558.7" y1="156.9" x2="562.7" y2="156.9" class="cbt"/>
<line x1="596.8" y1="156.9" x2="600.8" y2="156.9" class="cbt"/>
<line x1="558.7" y1="195.5" x2="562.7" y2="195.5" class="cbt"/>
<line x1="596.8" y1="195.5" x2="600.8" y2="195.5" class="cbt"/>
<line x1="558.7" y1="234.1" x2="562.7" y2="234.1" class="cbt"/>
<line x1="596.8" y1="234.1" x2="600.8" y2="234.1" class="cbt"/>
<line x1="558.7" y1="272.7" x2="562.7" y2="272.7" class="cbt"/>
<line x1="596.8" y1="272.7" x2="600.8" y2="272.7" class="cbt"/>
<line x1="558.7" y1="311.3" x2="562.7" y2="311.3" class="cbt"/>
<line x1="596.8" y1="311.3" x2="600.8" y2="311.3" class="cbt"/>
<line x1="558.7" y1="349.9" x2="562.7" y2="349.9" class="cbt"/>
<line x1="596.8" y1="349.9" x2="600.8" y2="349.9" class="cbt"/>
<line x1="100.6" y1="507" x2="337.7" y2="434.2" class="dt"/>
<line x1="337.7" y1="434.2" x2="524" y2="531.2" class="dt"/>
<line x1="100.6" y1="615.5" x2="337.7" y2="541" class="dt"/>
<line x1="337.7" y1="541" x2="524" y2="637.8" class="dt"/>
<line x1="148.5" y1="492.293" x2="148.5" y2="720" class="dt"/>
<line x1="216" y1="471.567" x2="216" y2="720" class="dt"/>
<line x1="281.3" y1="451.517" x2="281.3" y2="720" class="dt"/>
<line x1="379.3" y1="455.86" x2="379.3" y2="720" class="dt"/>
<line x1="430.6" y1="482.57" x2="430.6" y2="720" class="dt"/>
<line x1="480.4" y1="508.499" x2="480.4" y2="718" class="dt"/>
<path d="M95 722.3L281 822.3L526.3 746.2L340.3 646.2Z" fill="#1b1b1b"/>
<path d="M213.3 732.7L214.1 728.9L215.8 725.2L218.4 721.5L221.9 718L226.2 714.6L231.4 711.4L237.2 708.4L243.8 705.6L250.9 703.2L258.7 701L266.9 699.2L275.5 697.7L284.4 696.5L293.6 695.7L302.9 695.3L312.2 695.2L321.6 695.6L330.8 696.3L339.8 697.3L348.5 698.8L356.8 700.5L364.6 702.6L371.9 705L378.6 707.7L384.6 710.6L389.9 713.7L394.4 717.1L398.1 720.6L400.9 724.2L402.8 728L403.8 731.8L403.9 735.6L403.1 739.4L401.4 743.2L398.8 746.8L395.3 750.4L391 753.8L385.8 757L380 760L373.4 762.7L366.3 765.2L358.5 767.3L350.3 769.2L341.7 770.7L332.8 771.8L323.6 772.6L314.3 773.1L305 773.1L295.6 772.8L286.4 772.1L277.4 771L268.7 769.6L260.4 767.8L252.6 765.7L245.3 763.4L238.6 760.7L232.6 757.8L227.3 754.6L222.8 751.3L219.1 747.7L216.3 744.1L214.4 740.4L213.4 736.6Z" fill="#1b1b1b"/>
<path d="M215.2 732.8L216 729L217.7 725.3L220.2 721.7L223.7 718.3L227.9 714.9L232.9 711.8L238.6 708.9L245.1 706.2L252.1 703.8L259.7 701.7L267.7 699.9L276.2 698.4L284.9 697.2L293.9 696.5L303 696.1L312.2 696L321.3 696.3L330.3 697L339.1 698.1L347.7 699.4L355.8 701.2L363.5 703.2L370.6 705.6L377.2 708.2L383.1 711L388.3 714.1L392.7 717.4L396.3 720.9L399 724.4L400.9 728.1L401.9 731.8L402 735.6L401.2 739.3L399.5 743L397 746.6L393.5 750L389.3 753.4L384.3 756.5L378.6 759.4L372.1 762.1L365.1 764.5L357.5 766.7L349.5 768.5L341 769.9L332.3 771.1L323.3 771.8L314.2 772.3L305 772.3L295.9 772L286.9 771.3L278.1 770.3L269.5 768.9L261.4 767.1L253.7 765.1L246.6 762.8L240 760.1L234.1 757.3L228.9 754.2L224.5 750.9L220.9 747.5L218.2 743.9L216.3 740.2L215.3 736.5Z" fill="#1b1b1b"/>
<path d="M217.1 732.8L217.9 729.1L219.5 725.5L222 722L225.4 718.6L229.5 715.3L234.5 712.2L240.1 709.4L246.4 706.7L253.3 704.4L260.7 702.3L268.6 700.5L276.8 699.1L285.4 698L294.2 697.2L303.1 696.8L312.1 696.8L321.1 697.1L329.9 697.8L338.5 698.8L346.9 700.1L354.8 701.8L362.4 703.8L369.4 706.1L375.8 708.7L381.6 711.5L386.6 714.5L391 717.7L394.5 721.1L397.2 724.6L399 728.2L400 731.8L400.1 735.5L399.3 739.2L397.7 742.8L395.2 746.3L391.8 749.7L387.7 753L382.7 756L377.1 758.9L370.8 761.5L363.9 763.9L356.5 766L348.6 767.7L340.4 769.2L331.8 770.3L323 771.1L314.1 771.5L305.1 771.5L296.1 771.2L287.3 770.5L278.7 769.5L270.3 768.1L262.4 766.4L254.8 764.4L247.8 762.1L241.4 759.6L235.6 756.8L230.6 753.8L226.2 750.5L222.7 747.2L220 743.7L218.2 740.1L217.2 736.4Z" fill="#1b1b1b"/>
<path d="M219 732.8L219.8 729.2L221.4 725.6L223.9 722.2L227.1 718.9L231.2 715.7L236 712.7L241.5 709.9L247.7 707.3L254.4 705L261.7 702.9L269.4 701.2L277.5 699.8L285.9 698.7L294.5 698L303.2 697.6L312 697.5L320.8 697.8L329.4 698.5L337.9 699.5L346.1 700.8L353.9 702.5L361.2 704.4L368.1 706.7L374.4 709.2L380 711.9L385 714.9L389.2 718L392.7 721.3L395.3 724.8L397.2 728.3L398.1 731.9L398.2 735.4L397.4 739L395.8 742.6L393.3 746L390.1 749.3L386 752.5L381.2 755.5L375.7 758.4L369.5 760.9L362.8 763.2L355.5 765.3L347.8 767L339.7 768.4L331.3 769.5L322.7 770.2L314 770.6L305.2 770.7L296.4 770.4L287.8 769.7L279.3 768.7L271.1 767.4L263.3 765.7L256 763.8L249.1 761.5L242.8 759L237.2 756.3L232.2 753.3L228 750.2L224.5 746.9L221.9 743.4L220 739.9L219.1 736.4Z" fill="#1b1b1b"/>
<path d="M220.9 732.7L221.7 729.2L223.2 725.8L225.7 722.4L228.9 719.1L232.8 716L237.6 713.1L242.9 710.3L249 707.8L255.6 705.5L262.7 703.6L270.2 701.9L278.1 700.5L286.4 699.4L294.8 698.7L303.3 698.3L312 698.2L320.5 698.6L329 699.2L337.3 700.2L345.3 701.5L352.9 703.1L360.1 705L366.8 707.2L373 709.7L378.5 712.4L383.4 715.3L387.5 718.3L390.9 721.6L393.5 724.9L395.3 728.4L396.2 731.9L396.3 735.4L395.5 738.9L394 742.3L391.5 745.7L388.3 749L384.4 752.1L379.6 755L374.3 757.8L368.2 760.3L361.6 762.6L354.5 764.6L347 766.3L339.1 767.6L330.8 768.7L322.4 769.4L313.9 769.8L305.2 769.9L296.7 769.6L288.2 768.9L279.9 767.9L271.9 766.6L264.3 765L257.1 763.1L250.4 760.9L244.2 758.4L238.7 755.8L233.8 752.9L229.7 749.8L226.3 746.5L223.7 743.2L221.9 739.8L221 736.3Z" fill="#1b1b1b"/>
<path d="M222.8 732.7L223.6 729.3L225.1 725.9L227.5 722.6L230.6 719.4L234.5 716.3L239.1 713.5L244.4 710.8L250.3 708.3L256.7 706.1L263.7 704.2L271.1 702.5L278.8 701.1L286.8 700.1L295.1 699.4L303.5 699L311.9 699L320.3 699.3L328.6 699.9L336.6 700.8L344.5 702.1L351.9 703.7L359 705.6L365.6 707.7L371.6 710.1L377 712.8L381.7 715.6L385.8 718.6L389.1 721.8L391.6 725.1L393.4 728.4L394.3 731.8L394.4 735.3L393.6 738.7L392.1 742.1L389.7 745.4L386.6 748.6L382.7 751.6L378.1 754.5L372.8 757.2L366.9 759.7L360.5 761.9L353.5 763.8L346.1 765.5L338.4 766.8L330.4 767.9L322.1 768.6L313.7 769L305.3 769L296.9 768.7L288.6 768.1L280.6 767.1L272.7 765.9L265.3 764.3L258.2 762.4L251.6 760.3L245.6 757.8L240.2 755.2L235.5 752.4L231.4 749.4L228.1 746.2L225.6 742.9L223.8 739.6L222.9 736.1Z" fill="#1b1b1b"/>
<path d="M224.7 732.6L225.5 729.3L227 726L229.3 722.8L232.3 719.6L236.1 716.6L240.7 713.8L245.8 711.2L251.6 708.8L257.9 706.6L264.7 704.7L271.9 703.1L279.5 701.8L287.3 700.8L295.4 700.1L303.6 699.7L311.8 699.7L320 699.9L328.1 700.6L336 701.5L343.7 702.7L351 704.3L357.9 706.1L364.3 708.2L370.2 710.6L375.5 713.1L380.1 715.9L384.1 718.9L387.3 722L389.8 725.2L391.5 728.5L392.4 731.8L392.5 735.2L391.7 738.5L390.2 741.8L387.9 745L384.9 748.2L381.1 751.2L376.5 754L371.4 756.6L365.6 759L359.3 761.2L352.5 763.1L345.3 764.7L337.7 766L329.9 767L321.8 767.7L313.6 768.1L305.4 768.1L297.2 767.9L289.1 767.2L281.2 766.3L273.5 765.1L266.2 763.5L259.3 761.7L252.9 759.6L247 757.2L241.7 754.7L237.1 751.9L233.1 748.9L229.9 745.8L227.4 742.6L225.7 739.3L224.8 736Z" fill="#1b1b1b"/>
<path d="M226.6 732.5L227.3 729.3L228.8 726L231.1 722.9L234.1 719.8L237.8 716.9L242.2 714.2L247.2 711.6L252.9 709.2L259 707.1L265.7 705.3L272.7 703.7L280.1 702.4L287.8 701.4L295.7 700.7L303.7 700.3L311.7 700.3L319.8 700.6L327.7 701.2L335.4 702.1L342.9 703.3L350 704.8L356.7 706.6L363 708.7L368.8 711L373.9 713.5L378.5 716.2L382.4 719.1L385.5 722.1L387.9 725.2L389.6 728.5L390.5 731.7L390.6 735L389.9 738.3L388.4 741.5L386.1 744.7L383.1 747.7L379.4 750.6L375 753.4L370 756L364.3 758.3L358.2 760.4L351.5 762.3L344.5 763.9L337.1 765.2L329.4 766.2L321.5 766.8L313.5 767.2L305.5 767.2L297.4 767L289.5 766.4L281.8 765.4L274.3 764.2L267.2 762.7L260.5 760.9L254.2 758.9L248.4 756.6L243.3 754.1L238.7 751.3L234.8 748.5L231.7 745.4L229.3 742.3L227.6 739.1L226.7 735.8Z" fill="#1b1b1b"/>
<path d="M228.6 732.4L229.2 729.2L230.7 726L232.9 723L235.8 720L239.5 717.1L243.7 714.4L248.7 711.9L254.2 709.6L260.2 707.6L266.7 705.8L273.6 704.2L280.8 702.9L288.3 702L296 701.3L303.8 701L311.7 700.9L319.5 701.2L327.2 701.8L334.8 702.7L342.1 703.9L349 705.3L355.6 707.1L361.7 709.1L367.4 711.3L372.4 713.8L376.9 716.4L380.6 719.3L383.7 722.2L386.1 725.3L387.7 728.4L388.6 731.6L388.6 734.8L388 738L386.5 741.2L384.3 744.2L381.4 747.2L377.7 750.1L373.5 752.8L368.5 755.3L363 757.6L357 759.6L350.5 761.4L343.6 763L336.4 764.3L328.9 765.2L321.2 765.9L313.4 766.2L305.5 766.3L297.7 766L290 765.4L282.4 764.5L275.1 763.3L268.2 761.9L261.6 760.1L255.5 758.1L249.8 755.9L244.8 753.4L240.3 750.8L236.6 748L233.5 745L231.1 741.9L229.5 738.8L228.6 735.6Z" fill="#1b1b1b"/>
<path d="M230.5 732.2L231.1 729.1L232.6 726L234.7 723L237.6 720.1L241.1 717.3L245.3 714.7L250.1 712.2L255.5 710L261.3 708L267.7 706.2L274.4 704.7L281.5 703.4L288.8 702.5L296.3 701.9L303.9 701.5L311.6 701.5L319.2 701.7L326.8 702.3L334.1 703.2L341.3 704.3L348.1 705.8L354.5 707.5L360.5 709.5L366 711.6L370.9 714L375.2 716.6L378.9 719.4L381.9 722.2L384.2 725.2L385.8 728.3L386.7 731.4L386.7 734.5L386.1 737.7L384.6 740.7L382.5 743.8L379.6 746.7L376.1 749.4L371.9 752.1L367.1 754.5L361.7 756.8L355.9 758.8L349.5 760.5L342.8 762.1L335.7 763.3L328.4 764.2L320.9 764.9L313.3 765.2L305.6 765.3L298 765L290.4 764.4L283.1 763.6L275.9 762.4L269.1 761L262.7 759.2L256.7 757.3L251.2 755.1L246.3 752.7L242 750.1L238.3 747.4L235.3 744.5L233 741.5L231.4 738.4L230.5 735.3Z" fill="#1c1c1c"/>
<path d="M232.4 731.9L233 728.9L234.4 725.9L236.5 722.9L239.3 720.1L242.8 717.4L246.8 714.8L251.5 712.4L256.8 710.2L262.5 708.3L268.7 706.5L275.2 705.1L282.1 703.9L289.3 702.9L296.6 702.3L304 702L311.5 701.9L319 702.2L326.3 702.8L333.5 703.6L340.5 704.7L347.1 706.2L353.4 707.8L359.2 709.7L364.6 711.9L369.4 714.2L373.6 716.7L377.2 719.4L380.1 722.2L382.4 725.1L383.9 728.1L384.7 731.1L384.8 734.2L384.2 737.2L382.8 740.3L380.7 743.2L377.9 746L374.4 748.7L370.4 751.3L365.7 753.7L360.4 755.9L354.7 757.8L348.5 759.6L342 761L335.1 762.3L327.9 763.2L320.6 763.8L313.2 764.1L305.7 764.2L298.2 763.9L290.9 763.4L283.7 762.5L276.7 761.4L270.1 760L263.8 758.3L258 756.4L252.6 754.3L247.8 751.9L243.6 749.4L240 746.7L237.1 743.9L234.8 741L233.3 738L232.5 735Z" fill="#1c1c1c"/>
<path d="M234.3 731.5L234.9 728.6L236.3 725.6L238.3 722.8L241 720L244.4 717.4L248.4 714.9L253 712.5L258.1 710.4L263.7 708.5L269.7 706.8L276.1 705.4L282.8 704.2L289.8 703.3L296.9 702.7L304.1 702.3L311.4 702.3L318.7 702.6L325.9 703.1L332.9 703.9L339.7 705L346.1 706.4L352.3 708L357.9 709.9L363.2 712L367.8 714.3L372 716.7L375.5 719.3L378.3 722.1L380.5 724.9L382 727.8L382.8 730.8L382.9 733.8L382.3 736.7L380.9 739.7L378.9 742.5L376.2 745.3L372.8 747.9L368.8 750.4L364.2 752.8L359.1 754.9L353.5 756.8L347.5 758.5L341.1 759.9L334.4 761.1L327.4 762L320.3 762.6L313.1 763L305.8 763L298.5 762.7L291.3 762.2L284.3 761.4L277.5 760.3L271.1 758.9L264.9 757.3L259.3 755.4L254 753.3L249.4 751L245.2 748.6L241.7 746L238.9 743.2L236.7 740.4L235.2 737.5L234.4 734.5Z" fill="#1c1c1c"/>
<path d="M236.2 731L236.8 728.1L238.1 725.3L240.1 722.5L242.8 719.8L246.1 717.2L249.9 714.8L254.4 712.5L259.4 710.5L264.8 708.6L270.7 706.9L276.9 705.5L283.5 704.4L290.2 703.5L297.2 702.9L304.3 702.6L311.4 702.6L318.5 702.8L325.4 703.3L332.3 704.1L338.9 705.2L345.2 706.6L351.1 708.1L356.7 710L361.8 712L366.3 714.2L370.3 716.6L373.8 719.1L376.5 721.8L378.7 724.6L380.1 727.4L380.9 730.3L381 733.2L380.4 736.1L379.1 739L377.1 741.7L374.4 744.4L371.1 747L367.3 749.5L362.8 751.7L357.8 753.8L352.4 755.7L346.5 757.3L340.3 758.7L333.7 759.9L327 760.7L320 761.3L312.9 761.7L305.8 761.7L298.7 761.4L291.8 760.9L284.9 760.1L278.3 759L272 757.7L266.1 756.1L260.5 754.3L255.4 752.3L250.9 750L246.9 747.6L243.4 745.1L240.7 742.4L238.5 739.7L237.1 736.8L236.3 733.9Z" fill="#1d1d1d"/>
<path d="M238.1 730.4L238.7 727.6L240 724.8L241.9 722.1L244.5 719.4L247.7 716.9L251.5 714.6L255.8 712.4L260.7 710.3L266 708.5L271.7 706.9L278.6 705.4L284.1 704.4L284.8 704.3L291.2 703.5L297.8 702.9L304.5 702.6L311.2 702.6L317.9 702.8L324.6 703.3L331 704.1L337.3 705.1L344.2 706.6L350 708.1L355.4 709.9L360.4 711.8L364.8 714L368.7 716.3L372 718.8L374.8 721.4L376.8 724.1L378.3 726.9L379 729.7L379.1 732.5L378.5 735.3L377.2 738.1L375.3 740.8L372.7 743.4L369.5 745.9L365.7 748.3L361.4 750.5L356.5 752.5L351.2 754.4L345.5 756L339.4 757.3L333.1 758.4L326.5 759.3L319.7 759.9L312.8 760.2L305.9 760.2L299 760L292.2 759.5L285.6 758.7L279.1 757.6L273 756.3L267.2 754.8L261.8 753L256.8 751L252.4 748.9L248.5 746.6L245.2 744.1L242.4 741.5L240.4 738.8L238.9 736L238.2 733.2Z" fill="#1d1d1d"/>
<path d="M240 729.5L240.6 726.8L241.9 724.1L243.7 721.5L246.2 718.9L249.4 716.5L253 714.2L257.3 712L258.7 711.4L262 710L263.3 709.5L268.3 707.8L273.7 706.3L279.4 705L285.4 703.9L291.7 703.1L298.1 702.6L304.6 702.3L311.2 702.3L317.7 702.5L324.1 703L330.4 703.7L336.5 704.7L342.3 705.9L347.8 707.4L352.9 709.1L357.5 710.9L358.9 711.5L363.3 713.6L367.1 715.9L370.3 718.3L373 720.8L375 723.4L376.4 726.1L377.1 728.9L377.2 731.6L376.6 734.3L375.3 737L373.5 739.7L371 742.2L367.8 744.7L364.2 747L359.9 749.1L355.2 751.1L350.1 752.9L344.5 754.4L338.6 755.8L332.4 756.8L326 757.7L319.4 758.2L312.7 758.5L306 758.6L299.3 758.3L292.6 757.8L286.2 757.1L279.9 756L274 754.8L268.3 753.3L263.1 751.6L258.3 749.6L253.9 747.5L250.1 745.3L246.9 742.9L244.2 740.3L242.2 737.7L240.8 735L240.1 732.3Z" fill="#1e1e1e"/>
<path d="M241.9 728.5L242.5 725.8L243.7 723.2L245.5 720.6L248 718.1L251 715.8L254.6 713.5L256.1 712.6L260.1 710.6L264.6 708.7L269.4 707.1L274.7 705.6L280.3 704.3L286.1 703.3L292.2 702.5L298.4 702L304.7 701.7L311.1 701.7L317.4 701.9L323.7 702.4L329.8 703.1L335.7 704.1L341.3 705.3L346.6 706.7L351.6 708.3L356.1 710.1L360.2 712.1L361.8 713L363.8 714.2L365.4 715.2L368.6 717.5L371.2 720L373.1 722.5L374.5 725.2L375.2 727.8L375.3 730.5L374.7 733.1L373.5 735.8L371.7 738.3L369.2 740.8L366.2 743.2L362.6 745.4L358.5 747.5L353.9 749.4L348.9 751.2L343.5 752.7L337.8 754L331.8 755L325.5 755.8L319.1 756.4L312.6 756.7L306 756.7L299.5 756.5L293.1 756L286.8 755.2L280.7 754.2L274.9 753L269.4 751.6L264.3 749.9L259.7 748L255.4 746L251.8 743.8L248.6 741.4L246 739L244.1 736.4L242.7 733.8L242 731.2Z" fill="#1f1f1f"/>
<path d="M243.8 727.2L244.4 724.6L245.6 722L247.4 719.5L249.7 717.1L254.3 713.5L257.7 711.4L261.5 709.4L265.9 707.6L270.6 706L275.7 704.6L281.1 703.4L286.8 702.4L292.7 701.6L298.7 701.1L304.8 700.8L311 700.8L317.2 701L323.2 701.5L329.1 702.2L334.9 703.1L340.3 704.3L345.5 705.6L350.3 707.2L354.7 709L358.7 710.9L362.2 713L365.2 715.2L366.9 716.5L369.4 718.9L371.3 721.4L372.6 723.9L373.3 726.5L373.4 729.1L372.8 731.7L371.6 734.2L369.8 736.7L367.5 739.1L364.5 741.4L361.1 743.6L357.1 745.6L352.6 747.5L347.8 749.2L342.5 750.6L336.9 751.9L331.1 752.9L325 753.7L318.8 754.2L312.5 754.5L306.1 754.6L299.8 754.3L293.5 753.9L287.4 753.1L281.5 752.2L275.9 751L270.6 749.6L265.6 747.9L261.1 746.1L257 744.1L253.4 742L250.3 739.7L247.8 737.3L245.9 734.9L244.6 732.3L243.9 729.7Z" fill="#202020"/>
<path d="M245.8 725.5L246.3 723L247.4 720.5L249.2 718.1L251.5 715.8L253 714.3L255.8 712.1L259 710.1L262.8 708.1L267 706.4L271.6 704.8L276.6 703.4L281.8 702.2L287.4 701.3L293.1 700.5L299 700L304.9 699.8L310.9 699.7L316.9 699.9L322.8 700.4L328.6 701.1L334.2 702L339.5 703.1L344.5 704.4L349.2 706L353.5 707.7L357.4 709.6L360.8 711.6L363.6 713.7L365.2 715.2L367.6 717.5L369.4 719.9L370.7 722.4L371.4 724.9L371.4 727.4L370.9 729.9L369.8 732.4L368 734.8L365.7 737.1L362.9 739.4L359.5 741.5L355.7 743.5L351.3 745.3L346.6 746.9L341.5 748.3L336.1 749.5L330.4 750.5L324.5 751.3L318.5 751.8L312.4 752.1L306.2 752.1L300 751.9L294 751.4L288.1 750.7L282.3 749.8L276.9 748.6L271.7 747.3L266.9 745.7L262.5 743.9L258.5 742L255 739.9L252 737.7L249.6 735.4L247.8 733L246.5 730.5L245.8 728Z" fill="#212121"/>
<path d="M247.4 723.8L248 721.3L249.1 718.9L250.7 716.6L252.6 714.4L254.7 712.2L257.4 710.1L260.6 708.1L264.2 706.3L268.3 704.6L272.8 703.1L277.6 701.7L282.7 700.6L288 699.6L293.6 698.9L299.3 698.4L305 698.2L310.9 698.1L316.7 698.3L322.4 698.8L328 699.4L333.4 700.3L338.5 701.4L343.4 702.7L347.9 704.2L352.1 705.8L355.8 707.7L359.1 709.6L361.9 711.7L364.2 713.9L366 716L367.8 718.3L369.1 720.7L369.7 723.2L369.8 725.6L369.2 728.1L368.1 730.5L366.5 732.8L364.2 735.1L361.4 737.3L358.2 739.3L354.4 741.3L350.2 743L345.6 744.6L340.6 746L335.4 747.2L329.8 748.1L324.1 748.9L318.2 749.4L312.3 749.7L306.3 749.7L300.3 749.5L294.4 749L288.6 748.3L283 747.4L277.7 746.3L272.7 745L268 743.4L263.7 741.7L259.8 739.8L256.4 737.8L253.6 735.7L251.2 733.4L249.4 731.1L248.1 728.7L247.5 726.2Z" fill="#222222"/>
<path d="M249.3 721.4L249.9 719.1L250.9 716.7L253.9 712.6L256 710.4L258.6 708.4L261.8 706.4L265.3 704.6L269.3 702.9L273.6 701.4L278.3 700.1L283.3 699L288.5 698.1L293.9 697.4L299.5 696.9L305.1 696.7L310.8 696.6L316.5 696.8L322.1 697.3L327.5 697.9L332.8 698.8L337.8 699.8L342.6 701.1L347 702.5L351.1 704.2L354.7 705.9L357.9 707.8L360.6 709.9L362.9 712L364.6 714.2L366 716.2L367.2 718.5L367.8 720.8L367.9 723.2L367.3 725.6L366.3 727.9L364.6 730.2L362.5 732.4L359.8 734.5L356.6 736.5L353 738.4L348.9 740.1L344.4 741.6L339.6 742.9L334.5 744.1L329.2 745L323.6 745.7L317.9 746.2L312.2 746.5L306.3 746.5L300.5 746.3L294.8 745.9L289.2 745.2L283.8 744.3L278.7 743.2L273.8 741.9L269.3 740.5L265.1 738.8L261.4 737L258.1 735L255.3 732.9L253 730.8L251.2 728.5L250 726.2L249.4 723.8Z" fill="#242424"/>
<path d="M250.8 719.4L251.3 717.1L252.3 714.8L253.9 712.2L255.5 710L257.5 707.9L260.1 705.9L263.1 704L266.6 702.3L270.4 700.7L274.6 699.2L279.2 697.9L284 696.9L289.1 696L294.4 695.3L299.8 694.8L305.2 694.6L310.7 694.5L316.2 694.7L321.7 695.2L327 695.8L332.1 696.6L337 697.6L341.6 698.9L345.9 700.3L349.8 701.9L353.4 703.6L356.5 705.4L359.1 707.4L361.3 709.5L363 711.6L364.6 714.2L365.7 716.5L366.4 718.8L366.4 721.1L365.9 723.4L364.9 725.7L363.3 727.9L361.2 730.1L358.6 732.1L355.4 734.1L351.9 735.9L347.9 737.6L343.6 739L338.9 740.4L333.9 741.5L328.7 742.4L323.3 743.1L317.7 743.6L312.1 743.8L306.4 743.9L300.7 743.7L295.1 743.2L289.7 742.6L284.4 741.7L279.4 740.7L274.6 739.4L270.2 737.9L266.1 736.3L262.5 734.6L259.3 732.6L256.6 730.6L254.3 728.5L252.6 726.3L251.5 724L250.8 721.7Z" fill="#262626"/>
<path d="M252.4 716.6L252.9 714.4L253.9 712.2L255.6 709.2L257.1 707.1L259.1 705L261.5 703.1L264.5 701.3L267.8 699.6L271.6 698L275.7 696.6L280.1 695.3L284.8 694.3L289.7 693.4L294.8 692.8L300 692.3L305.3 692.1L310.7 692.1L316 692.2L321.3 692.6L326.4 693.2L331.4 694.1L336.1 695.1L340.6 696.3L344.8 697.6L348.6 699.1L352 700.8L355.1 702.6L357.6 704.5L359.7 706.5L361.3 708.6L363 711.6L364.1 713.8L364.7 716.1L364.8 718.3L364.3 720.6L363.3 722.8L361.7 724.9L359.7 727L357.1 729L354.1 730.9L350.6 732.7L346.8 734.3L342.6 735.7L338 737L333.2 738.1L328.1 739L322.8 739.7L317.4 740.1L312 740.4L306.5 740.4L301 740.2L295.5 739.8L290.2 739.2L285.1 738.3L280.2 737.3L275.6 736.1L271.3 734.7L267.4 733.1L263.8 731.4L260.7 729.5L258.1 727.5L255.9 725.5L254.2 723.3L253.1 721.1L252.5 718.9Z" fill="#282828"/>
<path d="M254.1 713.5L254.6 711.3L256.7 706.7L258.2 704.7L260.2 702.7L262.6 700.8L265.4 699L268.7 697.3L272.4 695.8L276.4 694.4L280.7 693.2L285.3 692.2L290.1 691.4L295.1 690.7L300.2 690.3L305.4 690L310.6 690L315.9 690.2L321 690.6L326 691.2L330.9 692L335.5 693L339.9 694.1L344 695.5L347.7 696.9L351.1 698.6L354 700.3L356.6 702.2L358.6 704.2L360.2 706.2L361.3 708.3L362.4 710.8L363 712.9L363.1 715.1L362.6 717.3L361.6 719.4L360.1 721.5L358.1 723.6L355.7 725.5L352.7 727.3L349.4 729L345.6 730.6L341.5 732L337.1 733.2L332.4 734.3L327.5 735.2L322.4 735.8L317.2 736.3L311.9 736.5L306.5 736.5L301.2 736.4L295.9 736L290.8 735.3L285.8 734.5L281.1 733.5L276.6 732.3L272.4 731L268.6 729.5L265.2 727.8L262.1 726L259.6 724.1L257.5 722.1L255.9 720L254.8 717.8L254.2 715.7Z" fill="#2a2a2a"/>
<path d="M255.3 711L255.8 708.8L256.7 706.7L257.7 704.6L259.1 702.6L261 700.7L263.4 698.8L266.2 697.1L269.4 695.4L273 693.9L277 692.6L281.2 691.4L285.7 690.4L290.4 689.5L295.3 688.9L300.4 688.5L305.5 688.2L310.6 688.2L315.7 688.4L320.8 688.8L325.7 689.4L330.5 690.1L335 691.1L339.3 692.3L343.3 693.6L347 695L350.3 696.6L353.2 698.4L355.7 700.2L357.7 702.1L359.3 704.1L361.3 708.3L361.8 710.4L361.9 712.6L361.4 714.7L360.5 716.8L359 718.8L357 720.8L354.6 722.7L351.8 724.5L348.5 726.2L344.8 727.7L340.8 729.1L336.5 730.3L331.9 731.3L327.1 732.2L322.1 732.8L317 733.3L311.8 733.5L306.6 733.5L301.3 733.3L296.2 733L291.2 732.4L286.3 731.6L281.7 730.6L277.3 729.4L273.2 728.1L269.5 726.6L266.1 725L263.2 723.2L260.6 721.3L258.6 719.4L257 717.3L255.9 715.2L255.4 713.1Z" fill="#2c2c2c"/>
<path d="M256.3 708.8L256.7 706.7L257.7 704.4L258.6 702.4L260 700.4L261.9 698.5L264.2 696.7L267 694.9L270.1 693.3L273.7 691.9L277.5 690.5L281.7 689.4L286.1 688.4L290.8 687.6L295.6 686.9L300.5 686.5L305.5 686.3L310.6 686.3L315.6 686.4L320.6 686.8L325.4 687.4L330.1 688.2L334.6 689.1L338.8 690.2L342.7 691.5L346.3 693L349.6 694.5L352.4 696.2L354.8 698L356.8 699.9L358.3 701.9L359.4 703.9L360.3 706.2L360.9 708.3L360.9 710.4L360.5 712.5L359.5 714.5L358.1 716.5L356.2 718.5L353.8 720.3L351 722.1L347.8 723.7L344.2 725.2L340.2 726.6L336 727.8L331.5 728.8L326.8 729.6L321.9 730.3L316.8 730.7L311.7 730.9L306.6 730.9L301.5 730.8L296.4 730.4L291.5 729.8L286.7 729L282.2 728.1L277.9 726.9L273.9 725.6L270.2 724.1L266.9 722.5L264 720.8L261.5 719L259.5 717L257.9 715L256.9 713L256.3 710.9Z" fill="#2e2e2e"/>
<path d="M257.2 706.5L257.7 704.4L258.4 702.6L259.3 700.6L260.7 698.7L262.5 696.8L264.8 695L267.6 693.3L270.7 691.7L274.2 690.2L278 688.9L282.1 687.8L286.4 686.8L291 686L295.8 685.4L300.6 685L305.6 684.7L310.5 684.7L315.5 684.9L320.4 685.3L325.2 685.8L329.8 686.6L334.2 687.5L338.4 688.6L342.2 689.9L345.8 691.3L349 692.9L351.8 694.5L354.2 696.3L356.1 698.2L357.6 700.1L358.7 702.1L359.4 703.9L359.9 706L360 708L359.5 710.1L358.6 712.1L357.2 714.1L355.3 716L353 717.8L350.2 719.5L347.1 721.1L343.5 722.6L339.7 723.9L335.5 725.1L331.1 726.1L326.4 726.9L321.6 727.5L316.7 728L311.7 728.2L306.6 728.2L301.6 728L296.6 727.7L291.8 727.1L287.1 726.3L282.6 725.4L278.4 724.3L274.5 723L270.9 721.5L267.6 720L264.8 718.3L262.4 716.5L260.4 714.6L258.9 712.6L257.8 710.6L257.3 708.5Z" fill="#303030"/>
<path d="M257.9 704.6L258.4 702.6L259.3 700.1L260.2 698.1L261.6 696.2L263.4 694.3L265.7 692.6L268.3 690.9L271.4 689.3L274.8 687.9L278.5 686.6L282.6 685.5L286.8 684.5L291.3 683.7L296 683.1L300.8 682.7L305.6 682.5L310.5 682.5L315.4 682.7L320.2 683L324.8 683.6L329.4 684.3L333.7 685.2L337.8 686.3L341.6 687.6L345.1 689L348.2 690.5L351 692.1L353.3 693.9L355.2 695.7L356.7 697.6L357.7 699.6L358.7 702.1L359.2 704.1L359.3 706.1L358.8 708.2L357.9 710.2L356.5 712.1L354.7 714L352.4 715.8L349.6 717.5L346.5 719.1L343 720.6L339.2 721.9L335.1 723L330.8 724L326.2 724.8L321.4 725.4L316.6 725.8L311.6 726L306.7 726.1L301.7 725.9L296.8 725.5L292 725L287.4 724.2L283 723.3L278.8 722.2L275 720.9L271.4 719.5L268.2 717.9L265.4 716.2L263 714.5L261.1 712.6L259.6 710.7L258.5 708.7L258 706.7Z" fill="#323232"/>
<path d="M258.9 702L259.3 700.1L260 698L260.9 696.1L262.3 694.2L264.1 692.4L266.3 690.6L268.9 689L271.9 687.5L275.3 686.1L279 684.8L282.9 683.7L287.2 682.7L291.6 682L296.2 681.4L300.9 681L305.7 680.7L310.5 680.7L315.3 680.9L320 681.2L324.6 681.8L329.1 682.5L333.3 683.4L337.4 684.5L341.1 685.7L344.6 687.1L347.7 688.6L350.4 690.2L352.7 691.9L354.6 693.7L356 695.6L357 697.5L357.7 699.6L358.2 701.5L358.3 703.5L357.9 705.5L357 707.5L355.6 709.4L353.8 711.2L351.5 713L348.9 714.7L345.8 716.2L342.4 717.7L338.7 718.9L334.6 720.1L330.4 721L325.9 721.8L321.2 722.4L316.4 722.8L311.6 723.1L306.7 723.1L301.8 722.9L297 722.5L292.4 722L287.8 721.2L283.5 720.3L279.4 719.2L275.6 718L272.1 716.6L269 715.1L266.2 713.4L263.9 711.7L262 709.9L260.5 708L259.5 706L259 704Z" fill="#343434"/>
<path d="M259.6 700L260 698L260.7 695.9L261.6 694L262.9 692.2L264.7 690.4L266.9 688.6L269.5 687L272.5 685.5L275.8 684.1L279.4 682.9L283.3 681.8L287.5 680.9L291.8 680.1L296.4 679.5L301 679.1L305.7 678.9L310.4 678.9L315.2 679L319.8 679.4L324.4 679.9L328.8 680.6L333 681.5L337 682.6L340.6 683.8L344 685.2L347.1 686.6L349.8 688.2L352 689.9L353.9 691.7L355.3 693.5L356.3 695.4L357 697.5L357.5 699.5L357.6 701.5L357.2 703.4L356.3 705.3L354.9 707.2L353.1 709.1L350.9 710.8L348.3 712.4L345.3 714L341.9 715.4L338.2 716.7L334.3 717.8L330 718.7L325.6 719.5L321 720.1L316.3 720.5L311.5 720.7L306.7 720.7L301.9 720.6L297.2 720.2L292.6 719.7L288.1 718.9L283.9 718L279.8 716.9L276.1 715.7L272.6 714.3L269.5 712.8L266.8 711.2L264.5 709.5L262.6 707.7L261.2 705.8L260.2 703.9L259.7 702Z" fill="#363636"/>
<path d="M260.3 697.9L260.7 695.9L261.5 693.7L262.3 691.9L263.6 690L265.4 688.2L267.5 686.6L270.1 685L273 683.5L276.3 682.1L279.8 680.9L283.7 679.8L287.8 678.9L292.1 678.1L296.5 677.6L301.1 677.2L305.8 676.9L310.4 676.9L315.1 677.1L319.7 677.4L324.1 678L328.5 678.7L332.6 679.6L336.5 680.6L340.2 681.8L343.5 683.1L346.5 684.6L349.1 686.1L351.4 687.8L353.2 689.6L354.6 691.4L355.6 693.3L356.3 695.4L356.8 697.4L356.9 699.3L356.5 701.2L355.6 703.1L354.3 705L352.5 706.8L350.3 708.5L347.7 710.1L344.7 711.6L341.4 713L337.8 714.3L333.9 715.4L329.7 716.3L325.4 717.1L320.8 717.6L316.2 718L311.5 718.3L306.8 718.3L302 718.1L297.4 717.8L292.8 717.2L288.4 716.5L284.2 715.6L280.2 714.6L276.6 713.4L273.2 712L270.1 710.5L267.4 708.9L265.2 707.2L263.3 705.4L261.9 703.6L260.9 701.7L260.4 699.8Z" fill="#383838"/>
<path d="M261.1 695.6L261.5 693.7L262.2 691.4L263 689.6L264.3 687.8L266 686L268.1 684.4L270.7 682.8L273.5 681.3L276.8 680L280.3 678.8L284.1 677.7L288.1 676.8L292.3 676.1L296.7 675.5L301.2 675.1L305.8 674.9L310.4 674.9L315 675.1L319.5 675.4L323.9 675.9L328.2 676.6L332.3 677.5L336.1 678.5L339.7 679.7L343 681L345.9 682.4L348.5 684L350.7 685.6L352.6 687.3L353.9 689.1L354.9 691L355.6 693.3L356.1 695.1L356.1 697.1L355.7 699L354.9 700.8L353.6 702.7L351.8 704.4L349.7 706.1L347.1 707.7L344.2 709.2L340.9 710.6L337.4 711.8L333.5 712.9L329.4 713.8L325.1 714.5L320.7 715.1L316.1 715.5L311.4 715.7L306.8 715.8L302.1 715.6L297.5 715.2L293.1 714.7L288.7 714L284.6 713.1L280.7 712.1L277 710.9L273.7 709.6L270.7 708.1L268.1 706.5L265.8 704.9L264 703.1L262.6 701.3L261.6 699.4L261.1 697.5Z" fill="#3a3a3a"/>
<path d="M261.8 693.3L262.2 691.4L262.6 689.9L263.5 688L264.8 686.3L266.5 684.5L268.6 682.9L271 681.3L273.9 679.9L277.1 678.5L280.6 677.3L284.3 676.3L288.3 675.4L292.5 674.7L296.8 674.1L301.3 673.7L305.8 673.5L310.4 673.5L314.9 673.6L319.4 674L323.8 674.5L328 675.2L332 676L335.8 677.1L339.4 678.2L342.6 679.5L345.6 680.9L348.1 682.5L350.3 684.1L352.1 685.8L353.5 687.6L354.4 689.4L354.9 691L355.4 692.8L355.4 694.7L355 696.6L354.2 698.4L352.9 700.2L351.2 702L349.1 703.6L346.5 705.2L343.7 706.7L340.4 708L336.9 709.2L333.1 710.3L329.1 711.2L324.9 711.9L320.5 712.5L316 712.9L311.4 713.1L306.8 713.1L302.2 713L297.7 712.6L293.3 712.1L289 711.4L284.9 710.5L281.1 709.5L277.5 708.3L274.2 707L271.3 705.6L268.7 704.1L266.5 702.4L264.6 700.7L263.3 698.9L262.3 697.1L261.8 695.2Z" fill="#3c3c3c"/>
<path d="M262.2 691.7L262.6 689.9L263.4 687.4L264.2 685.6L265.4 683.9L267.1 682.2L269.2 680.5L271.6 679L274.4 677.6L277.6 676.3L281 675.1L284.7 674.1L288.6 673.2L292.7 672.5L297 671.9L301.4 671.5L305.9 671.3L310.3 671.3L314.8 671.5L319.2 671.8L323.5 672.3L327.7 673L331.7 673.8L335.4 674.8L338.9 676L342.1 677.2L345 678.6L347.5 680.2L349.7 681.8L351.4 683.4L352.8 685.2L353.7 687L354.4 689.4L354.9 691.2L355 693.1L354.6 695L353.7 696.8L352.4 698.6L350.7 700.3L348.6 701.9L346.2 703.5L343.3 705L340.1 706.3L336.6 707.5L332.9 708.5L328.9 709.4L324.7 710.2L320.4 710.7L315.9 711.1L311.4 711.3L306.8 711.3L302.3 711.2L297.8 710.8L293.4 710.3L289.2 709.6L285.2 708.8L281.4 707.8L277.8 706.6L274.6 705.3L271.6 703.9L269.1 702.3L266.9 700.7L265.1 699L263.7 697.2L262.8 695.4L262.3 693.6Z" fill="#3e3e3e"/>
<path d="M263 689.3L263.4 687.4L263.8 685.8L264.6 684L265.9 682.2L267.5 680.6L269.6 678.9L272 677.4L274.8 676L277.9 674.7L281.3 673.6L284.9 672.5L288.8 671.7L292.9 670.9L297.1 670.4L301.5 670L305.9 669.8L310.3 669.8L314.7 670L319.1 670.3L323.4 670.8L327.5 671.5L331.4 672.3L335.1 673.3L338.6 674.4L341.8 675.7L344.6 677.1L347.1 678.6L349.2 680.1L351 681.8L352.3 683.5L353.2 685.3L353.7 687L354.2 688.8L354.2 690.6L353.8 692.4L353 694.2L351.8 696L350.1 697.7L348 699.3L345.6 700.9L342.8 702.3L339.6 703.6L336.2 704.8L332.5 705.8L328.6 706.7L324.5 707.4L320.2 708L315.8 708.3L311.3 708.5L306.9 708.6L302.4 708.4L298 708.1L293.7 707.6L289.5 706.9L285.5 706L281.8 705.1L278.3 703.9L275.1 702.6L272.2 701.2L269.7 699.7L267.5 698.1L265.8 696.4L264.4 694.7L263.5 692.9L263 691.1Z" fill="#404040"/>
<path d="M263.4 687.6L263.8 685.8L264.3 684L265.1 682.3L266.3 680.6L268 678.9L270 677.3L272.4 675.8L275.1 674.4L278.2 673.1L281.6 672L285.2 671L289 670.1L293.1 669.4L297.3 668.8L301.6 668.5L305.9 668.3L310.3 668.3L314.7 668.4L319 668.7L323.2 669.2L327.3 669.9L331.2 670.7L334.8 671.7L338.3 672.8L341.4 674.1L344.2 675.4L346.7 676.9L348.8 678.5L350.5 680.1L351.9 681.8L352.8 683.6L353.7 687.1L353.8 688.9L353.4 690.7L352.6 692.5L351.3 694.2L349.7 695.9L347.6 697.5L345.2 699L342.4 700.5L339.3 701.8L335.9 702.9L332.3 703.9L328.4 704.8L324.3 705.5L320.1 706.1L315.7 706.5L311.3 706.7L306.9 706.7L302.5 706.5L298.1 706.2L293.8 705.7L289.7 705L285.8 704.2L282.1 703.2L278.6 702.1L275.4 700.8L272.6 699.4L270.1 697.9L268 696.3L266.2 694.7L264.9 692.9L264 691.2L263.5 689.4Z" fill="#424242"/>
<path d="M263.9 685.8L264.3 684L264.8 682.3L265.6 680.6L266.8 678.9L268.4 677.2L270.4 675.6L272.8 674.1L275.5 672.8L278.5 671.5L281.9 670.4L285.4 669.3L289.3 668.5L293.2 667.8L297.4 667.3L301.6 666.9L306 666.7L310.3 666.7L314.6 666.8L318.9 667.2L323.1 667.6L327.1 668.3L330.9 669.1L334.6 670.1L338 671.2L341.1 672.4L343.8 673.8L346.3 675.2L348.4 676.8L350.1 678.4L351.4 680.1L352.3 681.9L352.8 683.6L353.2 685.4L353.3 687.2L352.9 689L352.1 690.7L350.9 692.4L349.2 694.1L347.2 695.7L344.8 697.2L342.1 698.6L339 699.9L335.6 701L332 702L328.2 702.9L324.1 703.6L319.9 704.2L315.6 704.5L311.3 704.7L306.9 704.7L302.5 704.6L298.2 704.3L294 703.8L289.9 703.1L286 702.3L282.4 701.3L278.9 700.2L275.8 698.9L273 697.6L270.5 696.1L268.4 694.5L266.7 692.9L265.3 691.2L264.4 689.4L264 687.6Z" fill="#444444"/>
<path d="M264.4 684.1L265.2 680.5L266 678.8L267.2 677.1L268.8 675.5L270.8 673.9L273.2 672.4L275.9 671.1L278.9 669.8L282.2 668.7L285.7 667.7L289.5 666.9L293.4 666.2L297.5 665.6L301.7 665.3L306 665.1L310.3 665.1L314.6 665.2L318.8 665.5L322.9 666L326.9 666.7L330.7 667.5L334.3 668.4L337.6 669.5L340.7 670.8L343.5 672.1L345.9 673.5L348 675.1L349.6 676.7L350.9 678.4L351.8 680.1L352.3 681.8L352.8 683.6L352.8 685.4L352.4 687.2L351.6 688.9L350.4 690.6L348.8 692.2L346.8 693.8L344.4 695.3L341.7 696.7L338.7 698L335.3 699.1L331.8 700.1L327.9 701L324 701.7L319.8 702.2L315.6 702.6L311.2 702.8L306.9 702.8L302.6 702.6L298.3 702.3L294.1 701.8L290.1 701.1L286.3 700.3L282.6 699.4L279.2 698.3L276.1 697L273.4 695.7L270.9 694.2L268.8 692.6L267.1 691L265.8 689.3L264.9 687.6L264.4 685.8Z" fill="#474747"/>
<path d="M264.9 682.3L265.2 680.5L265.7 678.7L266.5 677L267.7 675.3L269.3 673.7L271.2 672.2L273.6 670.7L276.2 669.4L279.2 668.1L282.4 667L285.9 666L289.7 665.2L293.6 664.5L297.6 664L301.8 663.6L306 663.4L310.3 663.4L314.5 663.5L318.7 663.9L322.7 664.3L326.7 665L330.4 665.8L334 666.7L337.3 667.8L340.4 669L343.1 670.4L345.5 671.8L347.5 673.3L349.2 674.9L350.5 676.6L351.3 678.3L351.8 680L352.3 681.8L352.3 683.6L352 685.3L351.2 687L350 688.7L348.4 690.4L346.4 691.9L344 693.4L341.3 694.7L338.3 696L335 697.1L331.5 698.1L327.7 699L323.8 699.7L319.7 700.2L315.5 700.6L311.2 700.7L306.9 700.8L302.6 700.6L298.4 700.3L294.3 699.8L290.3 699.2L286.5 698.3L282.9 697.4L279.6 696.3L276.5 695.1L273.7 693.7L271.3 692.3L269.2 690.8L267.6 689.1L266.3 687.5L265.4 685.8L264.9 684Z" fill="#494949"/>
<path d="M265.4 680.4L265.7 678.7L266.2 676.8L267 675.1L268.1 673.5L269.7 671.9L271.7 670.4L273.9 668.9L276.6 667.6L279.5 666.4L282.7 665.3L286.2 664.3L289.9 663.5L293.7 662.8L297.8 662.3L301.9 661.9L306 661.7L310.2 661.7L314.4 661.9L318.5 662.2L322.6 662.6L326.5 663.3L330.2 664.1L333.7 665L337 666.1L340 667.3L342.7 668.6L345.1 670L347.1 671.5L348.7 673.1L350 674.7L350.9 676.4L351.8 680L351.8 681.7L351.5 683.4L350.7 685.1L349.5 686.8L347.9 688.4L346 690L343.6 691.4L341 692.8L338 694L334.8 695.1L331.3 696.1L327.5 696.9L323.6 697.6L319.6 698.1L315.4 698.5L311.2 698.7L306.9 698.7L302.7 698.6L298.5 698.3L294.5 697.8L290.5 697.1L286.8 696.3L283.2 695.4L279.9 694.3L276.8 693.1L274.1 691.8L271.7 690.3L269.7 688.8L268 687.2L266.7 685.6L265.9 683.9L265.4 682.1Z" fill="#4b4b4b"/>
<path d="M265.8 678.5L266.2 676.8L266.7 674.9L267.4 673.3L268.6 671.6L270.1 670.1L272.1 668.5L274.3 667.1L276.9 665.8L279.8 664.6L283 663.5L286.4 662.5L290.1 661.7L293.9 661.1L297.9 660.5L301.9 660.2L306.1 660L310.2 660L314.4 660.1L318.4 660.4L322.4 660.9L326.3 661.5L330 662.3L333.4 663.2L336.7 664.3L339.7 665.5L342.3 666.8L344.7 668.2L346.7 669.7L348.3 671.2L349.5 672.8L350.4 674.5L350.9 676.4L351.3 678.1L351.4 679.8L351 681.5L350.2 683.2L349.1 684.9L347.5 686.4L345.5 688L343.3 689.4L340.6 690.7L337.7 692L334.5 693.1L331 694.1L327.3 694.9L323.5 695.6L319.4 696.1L315.3 696.4L311.2 696.6L307 696.6L302.8 696.5L298.7 696.2L294.6 695.7L290.7 695.1L287 694.3L283.5 693.3L280.2 692.3L277.2 691.1L274.5 689.8L272.1 688.3L270.1 686.8L268.5 685.3L267.2 683.6L266.3 682L265.9 680.2Z" fill="#4d4d4d"/>
<path d="M266.3 676.6L266.5 675.6L266.9 674L267.7 672.3L268.8 670.7L270.4 669.1L272.3 667.6L274.5 666.2L277.1 664.9L280 663.7L283.2 662.6L286.6 661.6L290.2 660.8L294 660.2L297.9 659.7L302 659.3L306.1 659.1L310.2 659.1L314.3 659.2L318.4 659.6L322.3 660L326.2 660.7L329.8 661.4L333.3 662.3L336.5 663.4L339.5 664.6L342.1 665.9L344.5 667.3L346.4 668.7L348.1 670.3L349.3 671.9L350.2 673.5L350.6 675.2L350.8 676.2L350.9 677.9L350.5 679.6L349.8 681.2L348.6 682.9L347.1 684.4L345.1 685.9L342.9 687.4L340.3 688.7L337.4 689.9L334.2 691L330.8 692L327.1 692.8L323.3 693.4L319.3 694L315.3 694.3L311.1 694.5L307 694.5L302.8 694.4L298.8 694.1L294.8 693.6L290.9 693L287.2 692.2L283.8 691.3L280.5 690.2L277.5 689L274.9 687.7L272.5 686.3L270.5 684.8L268.9 683.3L267.7 681.7L266.8 680L266.4 678.3Z" fill="#4f4f4f"/>
<path d="M266.5 675.6L266.9 674L267.4 672L268.1 670.4L269.3 668.8L270.8 667.2L272.7 665.7L274.9 664.3L277.5 663L280.3 661.9L283.5 660.8L286.8 659.8L290.4 659L294.2 658.4L298.1 657.9L302.1 657.5L306.1 657.3L310.2 657.3L314.3 657.5L318.3 657.8L322.2 658.2L326 658.9L329.6 659.6L333 660.5L336.2 661.6L339.1 662.7L341.7 664L344.1 665.4L346 666.8L347.6 668.4L348.8 670L349.7 671.6L350.2 673.5L350.6 675.2L350.7 676.9L350.3 678.6L349.5 680.2L348.4 681.9L346.8 683.4L344.9 684.9L342.7 686.3L340.1 687.7L337.2 688.9L334 689.9L330.6 690.9L327 691.7L323.2 692.4L319.3 692.9L315.2 693.2L311.1 693.4L307 693.4L302.9 693.3L298.8 693L294.9 692.5L291 691.9L287.4 691.1L283.9 690.2L280.7 689.1L277.7 688L275.1 686.7L272.7 685.3L270.8 683.8L269.1 682.3L267.9 680.7L267 679L266.6 677.3Z" fill="#515151"/>
<path d="M267 673.7L267.4 672L267.9 670L268.6 668.4L269.7 666.8L271.2 665.3L273.1 663.8L275.3 662.4L277.8 661.2L280.7 660L283.7 658.9L287.1 658L290.6 657.2L294.3 656.5L298.2 656L302.1 655.7L306.1 655.5L310.2 655.5L314.2 655.6L318.2 655.9L322 656.4L325.8 657L329.4 657.8L332.7 658.7L335.9 659.7L338.8 660.9L341.4 662.1L343.6 663.5L345.6 664.9L347.2 666.4L348.4 668L349.2 669.6L349.7 671.3L350.1 673.3L350.2 674.9L349.8 676.6L349.1 678.2L347.9 679.8L346.4 681.4L344.5 682.8L342.3 684.2L339.7 685.5L336.9 686.7L333.7 687.8L330.4 688.8L326.8 689.6L323 690.2L319.1 690.7L315.1 691.1L311.1 691.3L307 691.3L302.9 691.1L298.9 690.8L295 690.4L291.2 689.7L287.6 689L284.2 688.1L281 687L278.1 685.9L275.5 684.6L273.1 683.2L271.2 681.7L269.6 680.2L268.4 678.6L267.5 677L267.1 675.3Z" fill="#535353"/>
<path d="M267.5 671.7L267.7 670.7L268.1 669L268.8 667.4L270 665.8L271.4 664.3L273.3 662.9L275.5 661.5L278 660.2L280.8 659L283.9 658L287.2 657.1L290.7 656.3L294.4 655.6L298.2 655.1L302.2 654.8L306.2 654.6L310.2 654.6L314.2 654.7L318.1 655L322 655.5L325.7 656.1L329.2 656.8L332.6 657.7L335.7 658.8L338.6 659.9L341.2 661.2L343.4 662.5L345.4 663.9L346.9 665.4L348.2 667L349 668.6L349.7 671.3L349.7 672.9L349.3 674.5L348.6 676.2L347.5 677.7L346 679.3L344.1 680.7L341.9 682.1L339.4 683.4L336.5 684.6L333.5 685.6L330.1 686.6L326.6 687.4L322.9 688L319 688.5L315.1 688.9L311.1 689L307 689.1L303 688.9L299 688.6L295.2 688.2L291.4 687.6L287.8 686.8L284.5 685.9L281.3 684.9L278.4 683.7L275.8 682.5L273.6 681.1L271.6 679.7L270 678.1L268.8 676.6L268 675L267.5 673.3Z" fill="#555555"/>
<path d="M267.7 670.7L268.1 669L268.2 668.6L268.6 667L269.3 665.4L270.4 663.8L271.9 662.3L273.7 660.9L275.9 659.5L278.4 658.3L281.1 657.1L284.2 656.1L287.5 655.2L290.9 654.4L294.6 653.7L298.4 653.3L302.2 652.9L306.2 652.7L310.1 652.7L314.1 652.9L318 653.2L321.8 653.6L325.5 654.2L329 654.9L332.3 655.8L335.4 656.8L338.2 658L340.8 659.2L343 660.5L344.9 662L346.5 663.5L347.7 665L348.5 666.6L349 668.6L349.4 670.2L349.5 671.9L349.1 673.5L348.4 675.1L347.2 676.7L345.8 678.2L343.9 679.7L341.7 681L339.2 682.3L336.4 683.5L333.3 684.6L330 685.5L326.5 686.3L322.8 686.9L319 687.4L315 687.7L311 687.9L307 688L303 687.8L299.1 687.5L295.2 687.1L291.5 686.4L288 685.7L284.6 684.8L281.5 683.8L278.6 682.6L276 681.4L273.8 680L271.8 678.6L270.3 677.1L269 675.5L268.2 673.9L267.8 672.3Z" fill="#575757"/>
<path d="M268.2 668.6L269 664.9L269.8 663.3L270.9 661.8L272.3 660.3L274.1 658.9L276.3 657.6L278.7 656.3L281.5 655.2L284.5 654.1L287.7 653.2L291.1 652.5L294.7 651.8L298.5 651.3L302.3 651L306.2 650.8L310.1 650.8L317.9 651.2L321.6 651.7L325.3 652.3L328.8 653L332 653.9L335.1 654.9L337.9 656L340.4 657.2L342.6 658.6L344.5 660L346.1 661.4L347.2 663L348 664.5L348.5 666.1L348.9 668.2L349 669.8L348.6 671.4L347.9 673L346.8 674.6L345.3 676.1L343.5 677.5L341.3 678.9L338.8 680.1L336.1 681.3L333 682.3L329.7 683.3L326.3 684L322.6 684.7L318.8 685.2L315 685.5L311 685.7L307.1 685.7L303.1 685.6L299.2 685.3L295.4 684.8L291.7 684.2L288.2 683.5L284.9 682.6L281.8 681.6L279 680.4L276.4 679.2L274.2 677.9L272.3 676.4L270.7 675L269.5 673.4L268.7 671.8L268.3 670.2Z" fill="#595959"/>
<path d="M268.7 666.5L269 664.9L269.3 663.9L270 662.3L271.1 660.8L272.5 659.3L274.3 657.9L276.5 656.6L278.9 655.3L281.6 654.2L284.6 653.2L287.8 652.3L291.2 651.5L294.8 650.9L298.5 650.4L302.4 650.1L306.2 649.9L310.1 649.9L314 650L317.8 650.3L321.6 650.7L325.2 651.3L328.6 652.1L331.9 652.9L334.9 653.9L337.7 655L340.2 656.2L342.4 657.6L344.3 658.9L345.8 660.4L347 661.9L347.8 663.5L348.5 666.1L348.5 667.7L348.2 669.3L347.4 670.9L346.3 672.4L344.9 673.9L343.1 675.3L340.9 676.7L338.5 677.9L335.7 679.1L332.7 680.1L329.5 681L326.1 681.8L322.5 682.4L318.7 682.9L314.9 683.2L311 683.4L307.1 683.4L303.2 683.3L299.3 683L295.6 682.5L291.9 681.9L288.4 681.2L285.2 680.3L282.1 679.3L279.3 678.2L276.8 677L274.6 675.7L272.7 674.3L271.1 672.8L270 671.3L269.2 669.7L268.7 668.1Z" fill="#5b5b5b"/>
<path d="M268.9 665.5L269.7 661.8L270.5 660.2L271.5 658.7L273 657.2L274.7 655.9L276.9 654.5L279.3 653.3L282 652.2L284.9 651.2L288.1 650.3L291.5 649.5L295 648.9L298.7 648.4L302.4 648.1L306.3 647.9L310.1 647.9L313.9 648L317.7 648.3L321.4 648.8L325 649.4L328.4 650.1L331.6 650.9L334.6 651.9L337.4 653L339.8 654.2L342 655.5L343.9 656.9L345.4 658.3L346.5 659.8L347.3 661.4L347.7 662.9L348.2 665.1L348.3 666.6L347.9 668.2L347.2 669.8L346.1 671.3L344.7 672.8L342.9 674.2L340.7 675.5L338.3 676.8L335.6 677.9L332.6 679L329.4 679.9L326 680.6L322.4 681.2L318.7 681.7L314.8 682.1L311 682.2L307.1 682.3L303.2 682.1L299.4 681.8L295.6 681.4L292 680.8L288.6 680.1L285.3 679.2L282.3 678.2L279.5 677.1L277 675.9L274.8 674.6L272.9 673.2L271.4 671.7L270.2 670.2L269.4 668.6L269 667Z" fill="#5d5d5d"/>
<path d="M269.4 663.3L269.7 661.8L270.2 659.6L270.9 658.1L272 656.6L273.4 655.2L275.2 653.8L277.2 652.5L279.6 651.3L282.3 650.2L285.2 649.2L288.3 648.3L291.7 647.5L295.2 646.9L298.8 646.5L302.5 646.1L310.1 645.9L313.9 646.1L317.6 646.4L321.3 646.8L324.8 647.4L328.2 648.1L331.3 648.9L334.3 649.9L337 651L339.5 652.2L341.6 653.4L343.4 654.8L344.9 656.2L346.1 657.7L346.9 659.2L347.3 660.8L347.7 662.9L347.8 664.5L347.5 666.1L346.7 667.6L345.7 669.1L344.2 670.6L342.5 672L340.3 673.3L337.9 674.5L335.2 675.6L332.3 676.7L329.1 677.5L325.7 678.3L322.2 678.9L318.5 679.4L314.8 679.7L310.9 679.9L307.1 679.9L303.3 679.8L299.5 679.5L295.8 679.1L292.2 678.5L288.8 677.7L285.6 676.9L282.6 675.9L279.8 674.8L277.4 673.6L275.2 672.3L273.3 670.9L271.8 669.5L270.7 668L269.9 666.5L269.5 664.9Z" fill="#5f5f5f"/>
<path d="M269.9 661.2L270.1 660.1L270.2 659.6L270.5 658.5L271.2 657L272.2 655.5L273.6 654.1L275.4 652.7L277.4 651.4L279.8 650.2L282.4 649.1L285.3 648.1L288.5 647.3L291.8 646.5L295.2 645.9L298.8 645.5L302.5 645.1L310.1 644.9L313.8 645.1L317.5 645.4L321.2 645.8L324.7 646.4L328 647.1L331.2 647.9L334.1 648.9L336.8 650L339.3 651.1L341.4 652.4L343.2 653.8L344.7 655.2L345.8 656.6L346.6 658.2L346.9 659.2L347.3 660.8L347.3 662.3L347 663.9L346.3 665.4L345.2 666.9L343.8 668.3L342 669.7L340 671L337.6 672.2L334.9 673.3L332 674.3L328.9 675.2L325.5 676L322 676.6L318.4 677L314.7 677.4L307.1 677.6L303.3 677.4L299.6 677.1L295.9 676.7L292.4 676.1L289 675.4L285.9 674.6L282.9 673.6L280.2 672.5L277.7 671.3L275.6 670L273.8 668.7L272.3 667.3L271.1 665.8L270.3 664.3L269.9 662.7Z" fill="#616161"/>
<path d="M270.1 660.1L270.9 656.4L271.6 654.9L272.7 653.4L274.1 652L275.8 650.6L277.8 649.3L280.2 648.2L282.8 647.1L285.6 646.1L288.7 645.2L292 644.5L295.4 643.9L299 643.4L302.6 643.1L306.3 642.9L310.1 642.9L313.8 643.1L317.4 643.3L321 643.8L324.5 644.3L327.8 645L330.9 645.9L333.8 646.8L336.5 647.9L338.9 649L341 650.3L342.8 651.6L344.3 653L345.4 654.5L346.1 656L346.6 657.5L347 659.7L347.1 661.2L346.7 662.8L346 664.3L345 665.8L343.6 667.2L341.8 668.6L339.8 669.9L337.4 671.1L334.8 672.2L331.9 673.2L328.7 674L325.4 674.8L322 675.4L318.4 675.9L314.7 676.2L307.1 676.4L303.4 676.2L299.7 675.9L296 675.5L292.5 674.9L289.2 674.2L286 673.4L283.1 672.4L280.4 671.4L277.9 670.2L275.8 668.9L274 667.5L272.5 666.1L271.4 664.7L270.6 663.2L270.2 661.6Z" fill="#636363"/>
<path d="M270.6 657.9L270.9 656.4L271.4 654.1L272.1 652.7L273.1 651.2L274.5 649.8L276.2 648.5L278.2 647.2L280.5 646.1L283.1 645L285.9 644L289 643.2L292.2 642.4L295.6 641.8L299.1 641.4L302.7 641.1L306.4 640.9L310 640.9L313.7 641L317.3 641.3L320.9 641.7L324.3 642.3L327.6 643L330.6 643.8L333.5 644.7L336.1 645.8L338.5 646.9L340.6 648.2L342.4 649.5L343.8 650.9L344.9 652.3L345.7 653.8L346.1 655.3L346.6 657.5L346.6 659L346.3 660.5L345.6 662L344.5 663.5L343.1 664.9L341.4 666.3L339.4 667.5L337 668.7L334.4 669.8L331.6 670.8L328.5 671.7L325.2 672.4L321.8 673L318.2 673.5L314.6 673.8L310.9 673.9L307.1 674L303.4 673.8L299.8 673.5L296.2 673.1L292.7 672.6L289.4 671.9L286.3 671L283.4 670.1L280.7 669L278.3 667.8L276.2 666.6L274.4 665.3L272.9 663.9L271.8 662.4L271.1 660.9L270.6 659.4Z" fill="#656565"/>
<path d="M271.1 655.6L271.3 654.5L271.6 653L272.3 651.6L273.3 650.1L274.7 648.7L276.4 647.4L278.4 646.2L280.7 645L283.3 643.9L286.1 643L289.1 642.1L292.3 641.4L295.7 640.8L299.1 640.4L302.7 640L306.4 639.9L310 639.9L313.7 640L317.3 640.3L320.8 640.7L324.2 641.2L327.4 641.9L330.5 642.7L333.3 643.7L336 644.7L338.3 645.9L340.4 647.1L342.1 648.4L343.6 649.8L344.7 651.2L345.4 652.7L345.8 654.1L346.1 655.3L346.1 656.8L345.8 658.3L345.1 659.7L344.1 661.2L342.7 662.6L341 663.9L339 665.2L336.7 666.4L334.1 667.4L331.3 668.4L328.2 669.3L325 670L321.6 670.6L318.1 671L314.5 671.3L310.8 671.5L307.2 671.5L303.5 671.4L299.9 671.1L296.3 670.7L292.9 670.1L289.6 669.4L286.6 668.6L283.7 667.7L281.1 666.6L278.7 665.5L276.6 664.2L274.8 662.9L273.4 661.5L272.3 660.1L271.5 658.6L271.1 657.1Z" fill="#676767"/>
<path d="M271.3 654.5L271.6 653L272.1 650.8L272.8 649.3L273.8 647.9L275.1 646.5L276.8 645.2L278.8 644L281 642.8L283.6 641.8L286.3 640.8L289.3 640L292.5 639.3L295.8 638.7L299.3 638.3L302.8 638L306.4 637.8L310 637.8L313.6 637.9L317.2 638.2L320.6 638.6L324 639.1L327.2 639.8L330.2 640.6L333 641.5L335.6 642.6L337.9 643.7L340 644.9L341.7 646.2L343.1 647.6L344.2 649L345 650.4L345.4 651.9L345.8 654.1L345.9 655.6L345.6 657.1L344.9 658.6L343.9 660L342.5 661.4L340.8 662.7L338.8 664L336.5 665.2L333.9 666.2L331.1 667.2L328.1 668L324.9 668.8L321.5 669.4L318.1 669.8L314.5 670.1L310.8 670.3L307.2 670.3L303.5 670.2L299.9 669.9L296.4 669.5L293 668.9L289.8 668.2L286.7 667.4L283.9 666.5L281.2 665.4L278.9 664.3L276.8 663.1L275.1 661.8L273.6 660.4L272.5 659L271.8 657.5L271.4 656Z" fill="#696969"/>
<path d="M271.8 652.3L272.1 650.8L272.6 648.5L273.3 647.1L274.2 645.7L275.6 644.3L277.2 643L279.2 641.8L281.4 640.7L283.9 639.6L286.6 638.7L289.6 637.9L292.7 637.2L296 636.6L299.4 636.2L302.9 635.9L306.4 635.7L310 635.7L313.5 635.8L317 636.1L320.5 636.5L323.8 637L326.9 637.7L329.9 638.5L332.7 639.4L335.3 640.4L337.6 641.5L339.6 642.7L341.3 644L342.7 645.3L343.8 646.7L344.5 648.2L344.9 649.6L345.4 651.9L345.4 653.4L345.1 654.8L344.4 656.3L343.4 657.7L342.1 659.1L340.4 660.4L338.4 661.6L336.2 662.8L333.6 663.8L330.9 664.8L327.9 665.6L324.7 666.3L321.4 666.9L314.4 667.7L310.8 667.8L307.2 667.8L303.6 667.7L300 667.4L296.6 667L293.2 666.5L290 665.8L287 665L284.2 664.1L281.6 663L279.3 661.9L277.2 660.7L275.5 659.4L274.1 658L273 656.6L272.2 655.2L271.8 653.7Z" fill="#6c6c6c"/>
<path d="M272.3 650L272.6 648.5L273.1 646.2L273.7 644.8L274.7 643.4L276 642.1L277.6 640.8L279.6 639.6L281.8 638.5L284.2 637.5L286.9 636.5L289.8 635.7L292.9 635L299.5 634L303 633.7L306.5 633.6L310 633.6L313.5 633.7L316.9 633.9L320.3 634.3L323.6 634.9L326.7 635.5L329.7 636.3L332.4 637.2L334.9 638.2L337.2 639.3L339.2 640.5L340.9 641.8L342.2 643.1L343.3 644.5L344 645.9L344.4 647.3L344.9 649.6L344.9 651.1L344.6 652.5L343.9 653.9L343 655.3L341.6 656.7L340 658L338 659.2L335.8 660.3L333.3 661.4L330.6 662.3L327.6 663.1L324.5 663.8L321.2 664.4L317.8 664.9L314.3 665.2L310.8 665.3L307.2 665.3L303.7 665.2L300.2 664.9L296.7 664.5L293.4 664L290.3 663.3L287.3 662.5L284.5 661.6L281.9 660.6L279.6 659.5L277.6 658.3L275.9 657L274.5 655.7L273.4 654.3L272.7 652.9L272.3 651.4Z" fill="#6e6e6e"/>
<path d="M272.8 647.7L273 646.5L273.3 645.1L273.9 643.7L274.9 642.3L276.2 641L277.8 639.7L279.8 638.5L281.9 637.4L284.4 636.4L287.1 635.5L290 634.6L293 634L296.2 633.4L299.6 633L303 632.7L306.5 632.5L310 632.5L313.4 632.6L316.9 632.9L320.2 633.3L323.5 633.8L326.6 634.5L329.5 635.2L332.2 636.1L334.7 637.1L337 638.2L339 639.4L340.6 640.6L342 642L343.1 643.3L343.8 644.7L344.2 646.1L344.4 647.3L344.4 648.7L344.1 650.2L343.5 651.6L342.5 653L341.2 654.3L339.6 655.6L337.6 656.8L335.4 657.9L333 658.9L330.3 659.8L327.4 660.7L324.3 661.4L317.7 662.4L314.2 662.7L310.7 662.8L307.2 662.8L303.7 662.7L300.3 662.4L296.9 662L293.6 661.5L290.5 660.8L287.5 660.1L284.8 659.2L282.3 658.2L280 657.1L278 655.9L276.3 654.6L275 653.3L273.9 651.9L273.2 650.5L272.8 649.1Z" fill="#707070"/>
<path d="M273 646.5L273.3 645.1L273.8 642.8L274.4 641.4L275.4 640L276.7 638.7L278.3 637.5L280.1 636.3L282.3 635.2L284.7 634.2L287.4 633.3L290.2 632.5L293.2 631.8L296.4 631.2L299.7 630.8L303.1 630.5L309.9 630.3L313.4 630.5L316.8 630.7L320.1 631.1L323.3 631.6L326.3 632.3L329.2 633.1L331.9 633.9L334.4 634.9L336.6 636L338.6 637.2L340.2 638.4L341.6 639.7L342.6 641L343.3 642.4L343.7 643.8L344.2 646.1L344.2 647.6L343.9 649L343.3 650.4L342.3 651.8L341 653.1L339.4 654.4L335.3 656.7L332.8 657.7L330.1 658.6L327.2 659.4L324.2 660.1L321 660.7L317.6 661.1L314.2 661.4L307.2 661.6L300.3 661.2L297 660.8L293.7 660.3L290.6 659.6L287.7 658.8L285 657.9L282.5 656.9L280.2 655.8L278.2 654.7L276.6 653.4L275.2 652.1L274.1 650.7L273.4 649.3L273 647.9Z" fill="#727272"/>
<path d="M273.5 644.2L273.7 643L274 641.6L274.6 640.2L275.6 638.9L276.9 637.6L278.5 636.3L280.3 635.2L282.5 634.1L284.9 633.1L287.5 632.2L290.3 631.4L293.3 630.7L296.5 630.1L299.8 629.7L303.1 629.4L306.5 629.3L309.9 629.3L313.3 629.4L316.7 629.6L320 630L323.2 630.5L326.2 631.2L329.1 632L331.8 632.8L334.2 633.8L336.4 634.9L338.3 636L340 637.3L341.3 638.5L342.4 639.9L343.1 641.2L343.7 643.8L343.7 645.2L343.4 646.6L342.8 648L341.8 649.4L340.5 650.7L338.9 651.9L337.1 653.1L334.9 654.2L332.5 655.2L329.8 656.1L327 656.9L324 657.6L320.8 658.1L317.5 658.6L314.1 658.9L310.7 659L307.3 659L303.8 658.9L300.4 658.6L297.1 658.3L293.9 657.7L290.9 657.1L288 656.3L285.3 655.4L282.8 654.5L280.6 653.4L278.6 652.2L277 651L275.6 649.7L274.6 648.3L273.9 647L273.5 645.6Z" fill="#757575"/>
<path d="M273.7 643L274.2 640.6L274.5 639.2L275.1 637.9L276.1 636.6L277.3 635.3L278.9 634.1L280.7 632.9L282.8 631.8L285.2 630.8L287.8 629.9L290.6 629.2L293.5 628.5L296.6 628L299.9 627.5L303.2 627.3L306.5 627.1L309.9 627.1L313.3 627.2L316.6 627.5L319.8 627.8L323 628.4L326 629L328.8 629.7L331.4 630.6L333.9 631.6L336 632.6L337.9 633.8L339.6 635L340.9 636.2L341.9 637.6L342.6 638.9L343 640.3L343.4 642.6L343.5 644L343.2 645.4L342.6 646.8L341.6 648.1L340.3 649.4L338.7 650.7L336.9 651.9L334.7 652.9L332.3 653.9L329.7 654.8L326.9 655.6L323.9 656.3L320.7 656.9L317.4 657.3L314.1 657.6L310.7 657.7L307.3 657.8L303.9 657.6L300.5 657.4L297.2 657L294 656.5L291 655.8L288.1 655.1L285.4 654.2L283 653.2L280.8 652.1L278.9 651L277.2 649.8L275.9 648.5L274.8 647.1L274.1 645.8L273.8 644.4Z" fill="#777777"/>
<path d="M274.2 640.6L274.4 639.4L274.7 638.1L275.3 636.7L276.3 635.4L277.5 634.1L279.1 632.9L280.9 631.8L283 630.7L285.4 629.7L287.9 628.8L290.7 628.1L293.6 627.4L296.7 626.9L299.9 626.4L303.2 626.2L306.6 626L309.9 626L313.3 626.1L319.8 626.7L322.9 627.3L325.9 627.9L328.7 628.6L331.3 629.5L333.7 630.4L335.8 631.5L337.7 632.6L339.4 633.8L340.7 635.1L341.7 636.4L342.4 637.7L343 640.3L343 641.7L342.7 643L342.1 644.4L341.1 645.7L339.9 647L338.3 648.2L336.5 649.4L334.4 650.4L332 651.4L329.4 652.3L326.6 653.1L323.7 653.8L320.6 654.3L317.3 654.7L314 655L310.7 655.2L307.3 655.2L303.9 655.1L300.6 654.8L297.4 654.4L294.2 653.9L291.2 653.3L288.4 652.5L285.8 651.7L283.3 650.7L281.2 649.6L279.3 648.5L277.6 647.3L276.3 646L275.3 644.7L274.6 643.4L274.2 642Z" fill="#7a7a7a"/>
<path d="M274.4 639.4L274.9 637L275.2 635.7L275.8 634.4L276.7 633.1L278 631.8L279.5 630.6L281.3 629.5L283.4 628.4L285.7 627.5L288.2 626.6L291 625.8L293.9 625.2L296.9 624.7L300.1 624.2L303.3 624L306.6 623.8L309.9 623.8L313.2 623.9L319.6 624.5L322.7 625L325.6 625.7L328.4 626.4L331 627.2L333.3 628.2L335.5 629.2L337.3 630.3L338.9 631.5L340.2 632.8L341.2 634L341.9 635.4L342.3 636.7L342.7 639.1L342.8 640.5L342.5 641.8L341.9 643.2L340.9 644.5L339.7 645.8L338.1 647L336.3 648.1L334.2 649.2L331.8 650.2L329.3 651.1L326.5 651.8L323.6 652.5L320.5 653L317.3 653.4L314 653.7L310.6 653.9L307.3 653.9L303.9 653.8L300.7 653.5L297.4 653.1L294.3 652.6L291.3 652L288.5 651.3L285.9 650.4L283.5 649.4L281.4 648.4L279.5 647.3L277.8 646.1L276.5 644.8L275.5 643.5L274.8 642.2L274.5 640.8Z" fill="#7c7c7c"/>
<path d="M274.9 637L275.1 635.9L275.4 634.5L276 633.2L277 631.9L278.2 630.7L279.7 629.5L281.5 628.3L283.6 627.3L285.9 626.3L288.4 625.5L291.1 624.7L294 624.1L297 623.5L300.1 623.1L303.3 622.9L306.6 622.7L309.9 622.7L313.2 622.8L316.4 623.1L319.5 623.4L322.6 623.9L325.5 624.5L328.2 625.3L330.8 626.1L333.2 627.1L335.3 628.1L337.1 629.2L338.7 630.4L340 631.6L341 632.9L341.7 634.2L342.3 636.7L342.3 638.1L342 639.4L341.4 640.7L340.5 642L339.2 643.3L337.7 644.5L335.9 645.6L333.8 646.7L331.5 647.6L329 648.5L326.2 649.3L323.3 649.9L320.3 650.5L317.1 650.9L313.9 651.1L310.6 651.3L307.3 651.3L304 651.2L297.6 650.6L294.5 650.1L291.6 649.4L288.8 648.7L286.2 647.9L283.9 646.9L281.7 645.9L279.9 644.8L278.3 643.6L277 642.4L276 641.1L275.3 639.7L274.9 638.4Z" fill="#7f7f7f"/>
<path d="M275.1 635.9L275.6 633.5L275.9 632.1L276.5 630.8L277.4 629.6L278.6 628.3L280.1 627.2L281.9 626.1L283.9 625L286.2 624.1L288.7 623.2L291.3 622.5L294.2 621.8L297.1 621.3L300.2 620.9L303.4 620.6L306.6 620.5L309.9 620.5L313.1 620.6L316.3 620.8L319.4 621.2L322.4 621.7L325.3 622.3L328 623L330.5 623.9L332.8 624.8L334.9 625.8L336.7 626.9L338.3 628L339.5 629.3L340.5 630.5L341.2 631.8L341.5 633.1L342 635.5L342.1 636.9L341.8 638.2L341.2 639.5L340.2 640.8L339 642L337.5 643.2L335.7 644.4L333.6 645.4L331.3 646.4L328.8 647.2L326.1 648L323.2 648.6L320.2 649.2L317.1 649.6L313.9 649.8L310.6 650L307.3 650L304 649.9L300.8 649.7L297.7 649.3L294.6 648.8L291.7 648.2L289 647.4L286.4 646.6L284 645.7L281.9 644.6L280.1 643.5L278.5 642.4L277.2 641.1L276.2 639.8L275.5 638.5L275.2 637.2Z" fill="#818181"/>
<path d="M275.6 633.5L276.1 630.9L276.7 629.6L277.6 628.4L278.8 627.2L280.3 626L282.1 624.9L284.1 623.9L286.3 622.9L288.8 622.1L291.5 621.4L294.3 620.7L297.2 620.2L300.3 619.8L303.4 619.5L306.6 619.4L309.9 619.4L313.1 619.5L316.2 619.7L319.3 620.1L322.3 620.6L325.1 621.2L327.8 621.9L330.3 622.7L332.6 623.6L334.7 624.6L336.5 625.7L338.1 626.9L339.3 628.1L340.3 629.3L341 630.6L341.3 631.9L341.5 633.1L341.6 634.4L341.3 635.8L340.7 637.1L339.8 638.3L338.6 639.6L337.1 640.7L335.3 641.8L333.3 642.9L331 643.8L328.5 644.7L325.9 645.4L323 646.1L320.1 646.6L317 647L313.8 647.2L310.6 647.4L307.3 647.4L304.1 647.3L300.9 647.1L297.8 646.7L294.8 646.2L291.9 645.6L289.2 644.9L286.7 644L284.4 643.1L282.3 642.1L280.5 641L278.9 639.9L277.7 638.6L276.7 637.4L276 636.1L275.7 634.8Z" fill="#848484"/>
<path d="M275.9 632.2L276.1 630.9L276.3 629.8L276.6 628.5L277.2 627.3L278.1 626L279.3 624.8L280.7 623.7L282.5 622.6L284.4 621.6L286.7 620.7L289.1 619.8L291.7 619.1L294.5 618.5L297.4 618L300.4 617.6L303.5 617.3L309.8 617.1L313 617.3L316.1 617.5L322.1 618.3L324.9 618.9L327.5 619.6L330 620.4L332.3 621.3L334.3 622.3L336.1 623.4L337.6 624.5L338.9 625.7L339.8 627L340.5 628.2L340.8 629.5L341.3 631.9L341.3 633.2L341.1 634.5L340.5 635.8L339.6 637.1L338.4 638.3L336.9 639.5L335.1 640.6L333.1 641.6L330.9 642.5L328.4 643.4L325.7 644.1L322.9 644.8L320 645.3L316.9 645.7L313.8 645.9L310.6 646.1L307.3 646.1L304.1 646L301 645.8L297.9 645.4L294.9 644.9L292.1 644.3L289.4 643.6L286.9 642.8L284.6 641.8L282.5 640.8L280.7 639.8L279.1 638.6L277.9 637.4L276.9 636.1L276.2 634.9L275.9 633.6Z" fill="#868686"/>
<path d="M276.3 629.8L276.6 628.5L276.9 627.3L277.4 626.1L278.3 624.9L279.5 623.7L280.9 622.5L282.7 621.4L284.6 620.4L286.8 619.5L289.2 618.7L291.8 618L294.6 617.3L297.5 616.8L300.5 616.5L303.6 616.2L306.7 616L309.8 616L313 616.1L319.1 616.7L322 617.2L324.8 617.8L327.4 618.5L329.9 619.3L332.1 620.2L334.1 621.2L335.9 622.2L337.4 623.4L338.6 624.5L339.6 625.8L340.2 627L340.6 628.3L340.8 629.5L340.9 630.8L340.6 632.1L340 633.4L339.1 634.6L337.9 635.8L336.5 637L334.7 638L332.8 639L330.5 640L328.1 640.8L325.5 641.5L322.7 642.2L319.8 642.7L316.8 643.1L313.7 643.3L310.5 643.5L307.4 643.5L304.2 643.4L301.1 643.1L298.1 642.8L295.1 642.3L292.3 641.7L289.7 641L287.2 640.2L284.9 639.3L282.9 638.3L281.1 637.2L279.6 636.1L278.3 634.9L277.4 633.7L276.7 632.4L276.4 631.1Z" fill="#898989"/>
<path d="M276.6 628.6L277.3 624.9L277.9 623.7L278.8 622.5L279.9 621.3L281.4 620.2L283 619.1L285 618.1L287.2 617.2L289.5 616.4L292.1 615.7L294.8 615.1L297.6 614.6L300.6 614.2L303.6 614L306.7 613.8L309.8 613.8L312.9 613.9L315.9 614.1L318.9 614.5L321.8 615L324.5 615.5L327.1 616.2L329.5 617L331.8 617.9L333.7 618.9L335.5 619.9L337 621L338.2 622.2L339.1 623.4L339.8 624.6L340.1 625.9L340.6 628.3L340.6 629.6L340.3 630.9L339.8 632.1L338.9 633.4L337.7 634.6L336.3 635.7L334.5 636.8L332.6 637.8L330.4 638.7L328 639.5L325.4 640.2L322.6 640.9L319.7 641.4L316.7 641.8L313.6 642L310.5 642.2L307.4 642.2L304.2 642.1L298.1 641.5L295.2 641L292.4 640.4L289.8 639.7L287.3 638.9L285.1 638L283.1 637L281.3 636L279.8 634.8L278.6 633.7L277.6 632.4L277 631.2L276.6 629.9Z" fill="#8b8b8b"/>
<path d="M277.1 626.2L277.3 624.9L277.6 623.7L278.1 622.5L279 621.3L280.1 620.1L281.6 619L283.2 618L285.2 617L287.3 616.1L289.7 615.3L292.2 614.6L294.9 614L297.7 613.5L300.7 613.1L303.7 612.8L306.7 612.7L309.8 612.7L312.9 612.8L315.9 613L318.8 613.4L321.7 613.8L324.4 614.4L327 615.1L329.4 615.9L331.6 616.8L333.6 617.7L335.3 618.7L336.8 619.8L338 621L338.9 622.2L339.5 623.4L339.9 624.7L340.1 625.9L340.1 627.1L339.9 628.4L339.3 629.7L338.4 630.9L337.3 632L335.8 633.2L334.2 634.2L332.2 635.2L330 636.1L327.7 636.9L325.1 637.6L322.4 638.3L319.6 638.8L316.6 639.1L313.6 639.4L307.4 639.6L304.3 639.4L301.3 639.2L298.3 638.9L295.4 638.4L292.7 637.8L290.1 637.1L287.7 636.3L285.4 635.4L283.5 634.5L281.7 633.4L280.2 632.3L279 631.2L278.1 630L277.4 628.7L277.1 627.5Z" fill="#8e8e8e"/>
<path d="M277.3 625L278 621.3L278.6 620.1L279.4 618.9L280.6 617.8L282 616.7L283.6 615.6L285.5 614.7L287.6 613.8L290 613L292.5 612.3L295.1 611.7L297.9 611.2L300.8 610.8L303.7 610.6L309.8 610.4L312.8 610.5L315.8 610.8L318.7 611.1L321.5 611.6L324.2 612.1L326.7 612.8L329.1 613.6L331.2 614.5L333.2 615.4L334.9 616.4L336.3 617.5L337.5 618.6L338.4 619.8L339.1 621L339.4 622.3L339.9 624.7L339.9 625.9L339.6 627.2L339.1 628.4L338.2 629.6L337.1 630.8L335.6 631.9L334 633L332 633.9L329.9 634.8L327.5 635.6L325 636.3L322.3 637L319.5 637.4L316.5 637.8L313.5 638.1L310.5 638.2L307.4 638.2L304.3 638.1L301.3 637.9L298.4 637.6L295.5 637.1L292.8 636.5L290.2 635.8L287.8 635L285.6 634.2L283.6 633.2L281.9 632.2L280.4 631.1L279.2 629.9L278.3 628.7L277.7 627.5L277.3 626.2Z" fill="#909090"/>
<path d="M277.8 622.6L278 621.3L278.5 618.9L279.1 617.7L279.9 616.6L281 615.4L282.4 614.3L284 613.3L285.9 612.4L288 611.5L290.2 610.7L292.7 610L295.3 609.4L300.9 608.6L303.8 608.3L306.8 608.2L309.8 608.2L312.7 608.3L315.7 608.5L321.3 609.3L323.9 609.9L326.4 610.5L328.7 611.3L330.9 612.2L332.8 613.1L334.5 614.1L335.9 615.2L337.1 616.3L338 617.4L338.6 618.6L338.9 619.8L339.4 622.3L339.4 623.5L339.2 624.7L338.6 625.9L337.8 627.1L336.6 628.3L335.2 629.4L333.6 630.4L331.7 631.4L329.6 632.3L327.2 633L324.7 633.7L322.1 634.3L319.3 634.8L316.4 635.2L313.5 635.5L310.4 635.6L307.4 635.6L304.4 635.5L301.4 635.3L298.5 634.9L295.7 634.5L293 633.9L290.5 633.2L288.1 632.5L286 631.6L284 630.7L282.3 629.6L280.9 628.6L279.7 627.4L278.8 626.2L278.1 625L277.8 623.8Z" fill="#939393"/>
<path d="M278.3 620.1L278.5 618.9L278.8 617.7L279.3 616.5L280.1 615.4L281.2 614.3L282.6 613.2L284.2 612.2L286.1 611.2L288.1 610.4L290.4 609.6L292.8 608.9L295.4 608.3L298.1 607.8L303.9 607.2L306.8 607.1L309.8 607.1L312.7 607.2L315.6 607.4L318.4 607.7L321.2 608.2L323.8 608.7L326.3 609.4L328.6 610.2L330.7 611L332.6 611.9L334.3 612.9L335.7 614L336.9 615.1L337.7 616.2L338.4 617.4L338.7 618.6L338.9 619.8L338.9 621L338.7 622.3L338.1 623.5L337.3 624.6L336.2 625.8L334.8 626.8L333.2 627.9L331.3 628.8L329.2 629.7L327 630.5L324.5 631.1L321.9 631.7L319.1 632.2L316.3 632.6L313.4 632.8L310.4 633L307.4 633L304.5 632.9L301.5 632.7L295.9 631.9L293.3 631.3L290.8 630.6L288.5 629.9L286.3 629L284.4 628.1L282.7 627.1L281.3 626L280.1 624.9L279.2 623.8L278.6 622.6L278.3 621.4Z" fill="#959595"/>
<path d="M278.5 618.9L279.2 615.3L279.8 614.1L280.6 613L281.7 611.9L283 610.8L284.6 609.9L286.4 608.9L288.5 608.1L290.7 607.3L293.1 606.6L295.6 606.1L298.3 605.6L301.1 605.2L303.9 605L309.7 604.8L312.6 604.9L315.5 605.2L318.3 605.5L321 605.9L323.6 606.5L326 607.1L328.3 607.9L330.4 608.7L332.2 609.6L333.9 610.6L335.3 611.6L336.4 612.7L337.3 613.9L337.9 615L338.2 616.2L338.7 618.6L338.7 619.8L338.4 621L337.9 622.2L337.1 623.4L336 624.5L334.6 625.6L333 626.6L331.1 627.5L329.1 628.4L326.8 629.2L324.4 629.8L321.8 630.4L319.1 630.9L316.2 631.3L313.3 631.5L310.4 631.7L307.4 631.7L304.5 631.6L301.6 631.3L298.8 631L296 630.6L293.4 630L290.9 629.3L288.6 628.6L286.5 627.7L284.6 626.8L282.9 625.8L281.5 624.8L280.3 623.7L279.5 622.5L278.8 621.3L278.5 620.1Z" fill="#979797"/>
<path d="M279 616.5L279.2 615.3L279.4 614.1L279.7 612.9L280.2 611.8L281 610.6L282.1 609.6L283.4 608.5L285 607.5L286.8 606.6L288.8 605.8L291 605L293.3 604.4L295.8 603.8L301.2 603L304 602.8L306.9 602.6L309.7 602.6L312.6 602.7L315.4 602.9L318.1 603.3L320.8 603.7L323.3 604.2L325.7 604.9L328 605.6L330 606.4L331.8 607.3L333.5 608.3L334.8 609.3L336 610.4L336.8 611.5L337.4 612.6L337.7 613.8L338.2 616.2L338.2 617.4L338 618.6L337.4 619.7L336.6 620.9L335.5 622L334.2 623L332.6 624L330.8 625L328.7 625.8L326.5 626.6L324.1 627.2L321.6 627.8L318.9 628.3L316.1 628.6L313.3 628.9L310.4 629L307.5 629L304.6 628.9L301.7 628.7L298.9 628.4L296.2 627.9L293.6 627.4L291.2 626.8L288.9 626L286.8 625.2L285 624.3L283.3 623.3L281.9 622.3L280.8 621.2L279.9 620L279.3 618.9L279 617.7Z" fill="#9a9a9a"/>
<path d="M279.4 614.1L279.9 611.7L280.2 610.5L280.7 609.4L281.5 608.3L282.5 607.2L283.8 606.2L285.4 605.2L287.1 604.3L289.1 603.5L291.3 602.8L293.6 602.1L298.6 601.1L301.3 600.8L304.1 600.5L306.9 600.4L309.7 600.4L312.5 600.5L315.3 600.7L318 601L320.6 601.4L323.1 602L325.4 602.6L327.6 603.3L329.7 604.1L331.5 605L333.1 605.9L334.4 607L335.5 608L336.4 609.1L336.9 610.2L337.2 611.4L337.7 613.8L337.8 615L337.5 616.1L337 617.3L336.2 618.4L335.1 619.5L333.8 620.5L332.2 621.5L330.4 622.4L328.4 623.2L326.2 624L323.9 624.7L321.4 625.2L318.7 625.7L316 626L313.2 626.3L310.3 626.4L307.5 626.4L304.6 626.3L301.8 626.1L299.1 625.8L296.4 625.3L293.9 624.8L291.5 624.2L289.2 623.4L287.2 622.6L285.4 621.7L283.7 620.8L281.2 618.7L280.4 617.6L279.8 616.4L279.5 615.2Z" fill="#9d9d9d"/>
<path d="M279.9 611.7L280.6 608.1L281.2 607L281.9 605.9L283 604.9L284.2 603.9L285.8 602.9L289.4 601.2L291.5 600.5L293.8 599.9L296.3 599.3L298.8 598.9L301.4 598.5L304.2 598.3L306.9 598.2L309.7 598.2L312.4 598.3L315.2 598.5L317.8 598.8L320.4 599.2L322.8 599.7L325.2 600.3L329.3 601.8L331.1 602.7L332.6 603.6L334 604.6L335.1 605.7L335.9 606.7L336.5 607.9L336.8 609L337.2 611.4L337.3 612.5L337 613.7L336.5 614.8L335.7 615.9L334.7 617L333.4 618L331.8 619L330.1 619.9L328.1 620.7L325.9 621.4L323.6 622.1L318.6 623.1L315.9 623.4L313.1 623.7L310.3 623.8L307.5 623.8L304.7 623.7L301.9 623.5L299.2 623.2L296.6 622.7L294.1 622.2L291.8 621.6L289.6 620.9L287.5 620.1L285.7 619.2L284.1 618.2L282.8 617.2L281.7 616.2L280.8 615.1L280.3 614L280 612.8Z" fill="#a0a0a0"/>
<path d="M280.4 609.3L280.6 608.1L281.1 605.8L281.6 604.7L282.4 603.6L283.4 602.6L284.7 601.6L286.1 600.6L287.8 599.8L289.8 599L291.8 598.3L294.1 597.6L296.5 597.1L299 596.7L301.6 596.3L304.2 596.1L306.9 596L309.7 596L312.4 596.1L315 596.3L317.7 596.6L320.2 597L322.6 597.5L324.9 598.1L327 598.8L328.9 599.6L330.7 600.4L332.2 601.3L333.5 602.3L334.6 603.3L335.4 604.4L336 605.5L336.3 606.6L336.8 609L336.8 610.1L336.6 611.2L336 612.3L335.3 613.4L334.2 614.5L333 615.5L331.4 616.4L329.7 617.3L327.8 618.1L325.7 618.9L323.4 619.5L318.4 620.5L315.8 620.8L313 621.1L310.3 621.2L307.5 621.2L304.8 621.1L302 620.9L299.4 620.6L296.8 620.2L294.4 619.6L292 619L289.9 618.3L287.9 617.5L286.1 616.7L284.6 615.7L283.2 614.7L282.1 613.7L281.3 612.6L280.7 611.5L280.4 610.4Z" fill="#a3a3a3"/>
<path d="M280.9 606.9L281.1 605.7L281.4 604.6L281.9 603.5L282.6 602.4L283.6 601.4L284.9 600.4L286.3 599.5L288 598.6L289.9 597.9L292 597.2L294.2 596.5L296.6 596L301.6 595.2L304.3 595L307 594.9L309.7 594.9L312.3 595L315 595.2L317.6 595.5L320.1 595.9L322.5 596.4L324.7 597L326.8 597.7L328.8 598.4L330.5 599.3L332 600.2L333.3 601.2L334.4 602.2L335.2 603.2L335.8 604.3L336.3 606.6L336.3 607.7L336.1 608.8L335.6 609.9L334.8 611L333.8 612L332.5 613L331.1 613.9L329.4 614.8L327.4 615.6L325.4 616.3L323.1 616.9L320.7 617.5L318.2 617.9L315.6 618.2L313 618.5L310.3 618.6L307.5 618.6L304.8 618.5L302.2 618.3L299.5 618L297 617.6L294.6 617.1L292.3 616.5L290.2 615.8L288.3 615L286.5 614.1L285 613.2L283.7 612.3L282.6 611.2L281.8 610.2L281.2 609.1L280.9 608Z" fill="#a5a5a5"/>
<path d="M281.1 605.7L281.8 602.2L282.3 601.2L283.1 600.1L284.1 599.1L285.3 598.2L286.7 597.2L288.4 596.4L290.2 595.6L292.3 594.9L294.5 594.3L296.8 593.8L299.2 593.4L301.8 593L304.3 592.8L307 592.7L309.6 592.7L312.3 592.8L314.9 593L317.4 593.3L319.9 593.7L322.2 594.2L324.5 594.8L326.5 595.4L328.4 596.2L330.1 597L331.6 597.9L332.9 598.9L333.9 599.9L334.7 600.9L335.3 602L335.6 603L336 605.4L336.1 606.5L335.8 607.6L335.3 608.7L334.6 609.7L333.6 610.8L330.9 612.7L329.2 613.5L327.3 614.3L325.2 615L323 615.6L320.6 616.2L318.1 616.6L315.6 616.9L312.9 617.2L310.2 617.3L307.5 617.3L304.9 617.2L302.2 617L299.6 616.7L297.1 616.3L294.7 615.8L292.5 615.2L290.4 614.5L288.4 613.7L286.7 612.9L285.2 612L283.9 611L282.8 610L282 608.9L281.4 607.9L281.2 606.8Z" fill="#a7a7a7"/>
<path d="M281.6 603.3L281.8 602.2L282.3 599.9L282.8 598.8L283.5 597.8L284.5 596.8L285.7 595.9L287.1 595L288.7 594.2L290.6 593.4L292.6 592.7L294.7 592.1L297 591.6L299.4 591.2L301.9 590.9L304.4 590.6L307 590.5L309.6 590.5L312.2 590.6L314.8 590.8L317.3 591.1L319.7 591.5L322 592L324.2 592.6L326.2 593.2L328.1 594L329.7 594.8L331.2 595.7L332.5 596.6L333.5 597.6L334.3 598.6L334.8 599.6L335.1 600.7L335.6 603L335.6 604.1L335.4 605.2L334.9 606.3L334.1 607.3L333.1 608.3L331.9 609.3L330.5 610.2L328.8 611L327 611.8L324.9 612.5L322.7 613.1L320.4 613.6L318 614L315.4 614.4L312.9 614.6L310.2 614.7L307.6 614.7L304.9 614.6L302.3 614.4L299.8 614.1L297.3 613.7L295 613.2L292.7 612.6L290.7 612L288.8 611.2L287.1 610.4L285.6 609.5L284.3 608.5L283.3 607.5L282.5 606.5L281.9 605.5L281.6 604.4Z" fill="#aaaaaa"/>
<path d="M282.1 600.9L282.3 599.9L282.8 597.6L283.3 596.5L284 595.5L284.9 594.6L286.1 593.6L287.5 592.8L289.1 591.9L290.9 591.2L292.8 590.5L295 589.9L297.2 589.4L299.6 589L302 588.7L304.5 588.5L307 588.4L312.1 588.4L314.7 588.6L317.1 588.9L319.5 589.3L321.8 589.8L323.9 590.4L325.9 591L327.7 591.7L329.4 592.5L330.8 593.4L332 594.3L333 595.3L333.8 596.3L334.3 597.3L334.6 598.3L335.1 600.7L335.1 601.7L334.9 602.8L334.4 603.8L333.7 604.9L332.7 605.9L331.5 606.8L330.1 607.7L328.5 608.5L326.6 609.3L324.6 610L322.5 610.6L320.2 611.1L317.8 611.5L315.3 611.8L312.8 612L310.2 612.2L307.6 612.2L305 612.1L302.4 611.9L299.9 611.6L297.5 611.2L295.2 610.7L293 610.1L291 609.5L289.1 608.7L287.5 607.9L286 607L284.7 606.1L283.7 605.1L282.9 604.1L282.4 603.1L282.1 602Z" fill="#acacac"/>
<path d="M282.6 598.6L282.8 597.4L283 596.4L283.5 595.4L284.2 594.4L285.1 593.4L286.3 592.5L287.7 591.6L289.3 590.8L291.1 590.1L293 589.4L295.1 588.8L297.3 588.3L299.6 587.9L302.1 587.6L304.5 587.4L307.1 587.3L309.6 587.3L312.1 587.4L314.6 587.6L317 587.9L319.4 588.2L321.6 588.7L323.8 589.3L325.7 589.9L327.5 590.6L329.2 591.4L330.6 592.3L331.8 593.2L332.8 594.1L333.6 595.1L334.1 596.1L334.4 597.2L334.6 598.3L334.6 599.4L334.4 600.4L333.9 601.4L333.2 602.5L332.3 603.4L331.1 604.3L329.7 605.2L328.1 606L326.3 606.8L324.4 607.5L320 608.6L317.6 609L315.2 609.3L312.7 609.5L310.2 609.6L307.6 609.6L305.1 609.5L302.5 609.3L300.1 609.1L297.7 608.7L295.4 608.2L293.3 607.6L291.3 607L289.5 606.2L287.8 605.4L286.4 604.6L285.2 603.7L284.2 602.7L283.4 601.7L282.9 600.7L282.6 599.6Z" fill="#aeaeae"/>
<path d="M282.8 597.4L283 596.4L283.5 594.1L283.9 593.1L284.6 592.1L285.6 591.2L286.7 590.3L288.1 589.4L289.6 588.7L291.4 587.9L293.3 587.3L295.3 586.7L297.5 586.2L299.8 585.8L302.2 585.5L304.6 585.3L307.1 585.2L309.6 585.2L314.5 585.4L316.9 585.7L319.2 586.1L321.4 586.6L323.5 587.1L325.4 587.8L327.2 588.5L328.8 589.2L330.2 590.1L331.4 591L332.4 591.9L333.1 592.9L333.6 593.9L333.9 594.9L334.4 597.2L334.4 598.2L334.2 599.2L333.7 600.3L333 601.3L332.1 602.2L330.9 603.1L329.5 604L327.9 604.8L326.1 605.5L324.2 606.2L322.1 606.8L319.9 607.3L317.6 607.7L315.1 608L312.7 608.2L307.6 608.4L305.1 608.3L302.6 608.1L300.2 607.8L297.8 607.4L293.4 606.4L291.5 605.7L289.7 605L288 604.2L286.6 603.4L285.4 602.4L284.4 601.5L283.6 600.5L283.1 599.5L282.8 598.5Z" fill="#b0b0b0"/>
<path d="M283.3 595.1L283.5 594.1L284 591.8L284.4 590.9L285.1 589.9L286 589L287.1 588.1L288.5 587.3L290 586.5L291.7 585.8L293.6 585.1L295.6 584.6L297.7 584.1L300 583.7L302.3 583.4L304.7 583.2L307.1 583.1L312 583.1L314.4 583.3L316.7 583.6L319 584L321.2 584.4L323.2 585L325.1 585.6L326.8 586.3L328.4 587.1L329.8 587.9L331 588.8L331.9 589.7L332.7 590.6L333.2 591.6L333.9 594.9L333.9 595.9L333.7 596.9L333.3 597.9L332.6 598.9L331.6 599.8L330.5 600.7L329.1 601.6L327.6 602.4L325.8 603.1L323.9 603.7L321.9 604.3L319.7 604.8L317.4 605.2L315 605.5L312.6 605.7L310.1 605.8L305.2 605.8L302.7 605.6L300.3 605.3L298 604.9L295.8 604.4L293.7 603.9L291.8 603.3L288.4 601.8L287 600.9L285.8 600L284.8 599.1L284.1 598.1L283.6 597.2L283.3 596.1Z" fill="#b2b2b2"/>
<path d="M283.8 592.8L284.2 590.6L284.4 589.6L284.9 588.6L285.5 587.7L286.4 586.8L287.5 585.9L288.9 585.1L290.4 584.3L292 583.6L293.9 583L295.8 582.5L297.9 582L300.1 581.6L302.4 581.3L304.8 581.1L307.1 581L309.5 581L314.3 581.2L316.6 581.5L318.8 581.9L320.9 582.3L322.9 582.9L324.8 583.5L326.5 584.2L328 584.9L329.4 585.7L330.5 586.6L331.5 587.5L332.2 588.4L332.7 589.4L333.2 591.6L333.4 592.6L333.4 593.6L333.2 594.6L332.8 595.6L332.1 596.5L331.2 597.4L330.1 598.3L328.7 599.2L327.2 599.9L325.5 600.6L323.6 601.3L321.6 601.9L319.5 602.3L317.2 602.7L314.9 603L312.5 603.2L310.1 603.3L307.6 603.4L305.2 603.3L302.8 603.1L300.5 602.8L298.2 602.4L296 602L294 601.4L292.1 600.8L290.4 600.1L288.8 599.4L287.4 598.5L286.2 597.7L285.3 596.7L284.5 595.8L284 594.8L283.8 593.8Z" fill="#b4b4b4"/>
<path d="M284.2 590.6L284.4 589.6L284.9 587.4L285.3 586.4L286 585.5L286.9 584.6L288 583.8L289.2 583L290.7 582.2L292.4 581.5L294.1 580.9L298.1 579.9L300.3 579.5L302.5 579.3L304.8 579.1L307.2 578.9L309.5 578.9L311.9 579L314.2 579.2L318.6 579.8L320.7 580.3L322.6 580.8L324.5 581.4L326.1 582L327.7 582.8L329 583.6L330.1 584.4L331 585.3L331.7 586.2L332.2 587.1L332.5 588.1L332.9 590.3L333 591.3L332.8 592.3L332.3 593.2L331.7 594.2L330.8 595.1L329.7 596L328.3 596.8L326.8 597.5L325.2 598.2L323.3 598.9L321.4 599.4L319.3 599.9L317.1 600.3L314.8 600.6L312.4 600.8L310.1 600.9L307.7 600.9L305.3 600.8L302.9 600.6L300.6 600.4L298.4 600L296.3 599.5L294.3 599L292.4 598.4L290.7 597.7L289.2 597L287.8 596.2L286.7 595.3L285.7 594.4L285 593.5L284.5 592.5L284.3 591.6Z" fill="#b7b7b7"/>
<path d="M284.7 588.3L284.9 587.4L285.4 585.2L285.8 584.3L286.5 583.4L287.3 582.5L288.4 581.7L289.6 580.9L291.1 580.1L292.7 579.5L294.4 578.9L296.3 578.3L298.4 577.9L300.5 577.5L302.7 577.2L304.9 577L307.2 576.9L309.5 576.9L311.8 577L316.3 577.4L318.4 577.8L320.4 578.2L322.4 578.7L324.1 579.3L325.8 580L327.3 580.7L328.6 581.5L329.7 582.3L330.6 583.1L331.3 584L331.7 585L332 585.9L332.5 588.1L332.5 589.1L332.3 590L331.9 590.9L331.2 591.9L330.3 592.8L329.2 593.6L328 594.4L326.5 595.2L323.1 596.5L319.1 597.5L314.7 598.1L312.4 598.3L307.7 598.5L305.3 598.4L303 598.2L298.6 597.6L296.5 597.1L294.6 596.6L292.7 596L289.5 594.6L288.2 593.8L287.1 593L286.2 592.1L285.5 591.2L285 590.2L284.7 589.3Z" fill="#b9b9b9"/>
<path d="M285.2 586.1L285.4 585.2L285.9 583L286.3 582.1L286.9 581.2L287.7 580.4L288.8 579.6L290 578.8L291.4 578.1L293 577.4L294.7 576.8L296.6 576.3L300.6 575.5L302.8 575.2L305 575L307.2 574.9L309.5 574.9L311.7 575L316.1 575.4L318.2 575.8L320.2 576.2L322.1 576.7L323.8 577.3L325.4 577.9L326.9 578.6L328.2 579.4L329.2 580.2L330.1 581L330.8 581.9L331.3 582.8L332 585.9L332 586.8L331.8 587.8L331.4 588.7L330.7 589.6L329.9 590.5L328.8 591.3L327.6 592.1L326.1 592.8L324.5 593.5L322.8 594.1L320.9 594.6L318.8 595.1L316.7 595.4L314.5 595.7L312.3 595.9L310 596L305.4 596L303.2 595.8L300.9 595.5L298.8 595.2L294.8 594.2L291.4 593L289.9 592.3L288.6 591.5L287.5 590.7L286.6 589.8L285.9 588.9L285.5 588L285.2 587.1Z" fill="#bbbbbb"/>
<path d="M285.7 583.9L286.1 581.8L286.3 580.9L286.7 580L287.4 579.2L288.2 578.3L289.2 577.5L290.4 576.8L291.8 576.1L293.3 575.4L295 574.8L296.8 574.3L300.8 573.5L302.9 573.3L305.1 573.1L307.3 573L311.7 573L313.8 573.2L318 573.8L319.9 574.2L321.8 574.7L323.5 575.3L325.1 575.9L326.5 576.6L327.8 577.3L328.8 578.1L329.7 578.9L330.3 579.8L330.8 580.7L331.3 582.8L331.5 583.7L331.5 584.6L331.3 585.6L330.9 586.5L330.3 587.3L329.5 588.2L328.4 589L327.2 589.8L325.8 590.5L324.2 591.2L320.6 592.3L318.6 592.7L316.6 593.1L314.4 593.4L310 593.6L307.7 593.7L305.5 593.6L301.1 593.2L299 592.8L297 592.4L295.1 591.9L293.4 591.3L291.8 590.7L290.3 590L289 589.2L288 588.4L287.1 587.6L286.4 586.7L285.9 585.8L285.7 584.9Z" fill="#bdbdbd"/>
<path d="M286.1 581.8L286.3 580.9L286.8 578.8L287.2 577.9L287.8 577.1L288.6 576.3L289.6 575.5L290.8 574.8L292.1 574.1L293.7 573.4L295.3 572.9L297.1 572.4L299 571.9L303 571.3L305.1 571.1L309.4 571L311.6 571.1L313.7 571.3L315.8 571.5L317.8 571.8L321.5 572.7L323.2 573.3L324.7 573.9L326.1 574.6L327.3 575.3L328.4 576.1L329.2 576.9L329.9 577.7L330.3 578.6L330.6 579.5L331 581.6L331.1 582.5L330.9 583.4L330.5 584.3L329.8 585.1L329 586L328 586.8L326.8 587.5L325.4 588.2L323.9 588.9L322.2 589.4L320.4 589.9L318.4 590.4L316.4 590.7L314.3 591L312.1 591.2L309.9 591.3L307.7 591.3L305.5 591.2L303.4 591.1L299.2 590.5L297.3 590.1L295.4 589.6L293.7 589L292.1 588.4L290.7 587.7L289.4 587L288.4 586.2L287.5 585.3L286.9 584.5L286.4 583.6L286.2 582.7Z" fill="#bfbfbf"/>
<path d="M286.6 579.7L286.8 578.8L287.3 576.7L287.7 575.9L288.3 575.1L289 574.3L290 573.5L291.2 572.8L292.5 572.1L294 571.5L295.6 570.9L297.3 570.4L299.2 570L301.1 569.7L303.1 569.4L305.2 569.3L309.4 569.1L311.5 569.2L313.6 569.4L315.6 569.6L317.6 569.9L319.5 570.3L322.9 571.3L324.4 571.9L325.7 572.6L326.9 573.3L328 574.1L328.8 574.9L329.4 575.7L329.9 576.5L330.6 579.5L330.6 580.3L330.4 581.2L330 582.1L329.4 582.9L328.6 583.8L327.6 584.5L326.4 585.3L325.1 586L321.9 587.2L320.1 587.7L318.2 588.1L314.2 588.7L312.1 588.9L309.9 589L307.8 589L305.6 588.9L303.5 588.8L301.4 588.5L299.4 588.2L297.5 587.8L295.7 587.3L294 586.7L292.5 586.1L291.1 585.5L288.8 584L288 583.1L287.3 582.3L286.9 581.4L286.6 580.6Z" fill="#c1c1c1"/>
<path d="M287.1 577.6L287.3 576.7L287.8 574.7L288.1 573.9L288.7 573.1L289.5 572.3L290.4 571.6L291.6 570.8L292.9 570.2L294.3 569.6L295.9 569L297.6 568.6L299.4 568.2L301.3 567.8L305.3 567.4L307.3 567.3L309.4 567.3L311.5 567.4L313.5 567.5L315.5 567.8L317.4 568.1L321 568.9L322.6 569.4L324 570L325.4 570.7L326.5 571.4L327.5 572.1L328.3 572.9L329 573.7L329.4 574.5L329.9 576.5L330.1 577.4L330.1 578.3L329.9 579.1L329.5 580L328.9 580.8L328.2 581.6L327.2 582.4L326 583.1L324.7 583.8L323.2 584.4L321.6 584.9L319.9 585.4L316.1 586.2L314.1 586.4L312 586.6L309.9 586.7L307.8 586.7L305.7 586.6L303.6 586.5L301.6 586.2L299.6 585.9L297.7 585.5L296 585.1L294.3 584.5L292.8 583.9L291.5 583.3L289.2 581.8L288.4 581L287.8 580.2L287.3 579.3L287.1 578.5Z" fill="#c3c3c3"/>
<path d="M287.6 575.6L288.2 572.7L288.6 571.9L289.2 571.1L289.9 570.4L290.8 569.6L293.2 568.3L294.6 567.7L296.2 567.2L297.8 566.7L299.6 566.3L301.5 566L303.4 565.8L305.4 565.6L307.4 565.5L309.4 565.5L313.4 565.7L315.3 565.9L317.2 566.2L319 566.6L320.7 567.1L322.2 567.6L323.7 568.2L325 568.8L326.1 569.5L327.1 570.2L327.9 570.9L328.5 571.7L328.9 572.5L329.4 574.5L329.6 575.4L329.6 576.2L329.4 577L329.1 577.9L328.5 578.7L327.7 579.5L326.8 580.2L325.6 580.9L324.3 581.6L322.9 582.2L321.3 582.7L319.6 583.2L317.8 583.6L315.9 583.9L313.9 584.2L311.9 584.4L309.9 584.5L307.8 584.5L305.7 584.4L303.7 584.2L301.7 584L299.8 583.7L298 583.3L296.2 582.8L294.6 582.3L293.2 581.7L291.8 581.1L290.7 580.4L289.7 579.7L288.9 578.9L288.2 578.1L287.8 577.2L287.6 576.4Z" fill="#c5c5c5"/>
<path d="M288.1 573.6L288.2 572.7L288.7 570.8L289.1 570L289.6 569.2L290.4 568.5L291.3 567.8L292.3 567.1L293.6 566.5L295 565.9L296.5 565.4L298.1 564.9L299.8 564.5L301.6 564.2L305.4 563.8L307.4 563.7L309.4 563.7L313.3 563.9L315.2 564.1L317 564.4L318.7 564.8L320.4 565.3L321.9 565.8L323.3 566.3L324.6 566.9L325.7 567.6L326.7 568.3L327.4 569L328 569.8L328.4 570.6L328.9 572.5L329.1 573.4L329.1 574.2L329 575L328.6 575.8L328 576.6L327.3 577.4L326.4 578.1L325.2 578.8L324 579.4L322.6 580L321 580.6L319.4 581L317.6 581.4L315.7 581.7L313.8 582L311.8 582.2L309.8 582.3L307.8 582.3L305.8 582.2L303.8 582L301.9 581.8L300 581.5L298.2 581.1L296.5 580.7L295 580.2L293.5 579.6L292.2 579L291.1 578.3L290.1 577.6L289.3 576.8L288.7 576L288.3 575.2L288.1 574.4Z" fill="#c7c7c7"/>
<path d="M288.5 571.6L288.7 570.8L289.2 568.9L289.5 568.1L290.1 567.4L290.8 566.6L291.7 565.9L292.7 565.3L293.9 564.7L295.3 564.1L296.8 563.6L298.3 563.2L300 562.8L303.6 562.2L307.4 562L311.3 562L313.2 562.2L315 562.4L316.8 562.7L318.5 563.1L320.1 563.5L321.6 564L323 564.5L324.2 565.1L325.3 565.8L326.2 566.5L327 567.2L327.6 567.9L328 568.7L328.2 569.5L328.6 571.4L328.7 572.2L328.5 573L328.1 573.8L327.6 574.6L326.8 575.3L325.9 576L324.9 576.7L323.6 577.3L322.2 577.9L320.7 578.4L319.1 578.9L317.4 579.3L315.6 579.6L311.8 580L309.8 580.1L307.8 580.1L303.9 579.9L302 579.7L300.2 579.4L298.5 579L296.8 578.5L295.3 578L293.9 577.5L292.6 576.9L291.5 576.2L290.5 575.5L289.8 574.8L289.2 574L288.8 573.2L288.6 572.4Z" fill="#c9c9c9"/>
<path d="M289 569.7L289.6 567L290 566.3L290.5 565.5L291.2 564.8L293.1 563.5L294.3 562.9L295.6 562.4L297 561.9L298.6 561.4L300.2 561.1L302 560.8L303.8 560.5L305.6 560.4L307.5 560.3L311.2 560.3L314.8 560.7L316.6 561L318.3 561.3L321.3 562.2L322.6 562.8L323.8 563.4L324.9 564L325.8 564.7L326.5 565.4L327.1 566.1L327.5 566.8L328 568.7L328.2 569.5L328.2 570.3L328 571.1L327.7 571.8L327.1 572.6L326.4 573.3L325.5 574L324.5 574.7L323.3 575.3L321.9 575.8L318.9 576.8L317.2 577.2L315.4 577.5L313.6 577.7L311.7 577.9L309.8 578L307.8 578L305.9 577.9L304 577.8L300.4 577.3L298.7 576.9L297.1 576.5L295.6 576L294.2 575.4L293 574.8L291.9 574.2L291 573.5L290.2 572.8L289.6 572L289.2 571.2L289 570.5Z" fill="#cbcbcb"/>
<path d="M289.5 567.8L289.6 567L290.1 565.2L290.5 564.5L291 563.8L291.7 563.1L292.5 562.4L293.5 561.8L294.6 561.2L295.9 560.7L297.3 560.2L298.8 559.8L300.4 559.4L302.1 559.1L303.9 558.9L305.7 558.7L307.5 558.6L309.3 558.6L312.9 558.8L314.7 559L316.4 559.3L318 559.7L321 560.5L323.5 561.6L325.4 562.9L326.1 563.6L326.6 564.3L327 565L327.5 566.8L327.7 567.6L327.7 568.4L327.6 569.1L327.2 569.9L326.7 570.6L326 571.3L325.1 572L324.1 572.7L322.9 573.3L321.6 573.8L320.2 574.3L318.6 574.7L317 575.1L315.2 575.4L313.4 575.6L311.6 575.8L309.7 575.9L307.9 575.9L306 575.8L304.2 575.7L302.4 575.5L300.6 575.2L298.9 574.8L297.4 574.4L295.9 573.9L294.6 573.4L293.4 572.8L292.3 572.2L291.4 571.5L290.7 570.8L290.1 570.1L289.7 569.3L289.5 568.6Z" fill="#cdcdcd"/>
<path d="M290 566L290.1 565.2L290.6 563.5L290.9 562.7L291.4 562L292.9 560.7L293.9 560.1L295 559.5L297.6 558.5L299.1 558.1L300.7 557.8L302.3 557.5L304 557.3L305.7 557.1L307.5 557L309.3 557L311.1 557.1L312.8 557.2L314.5 557.4L316.2 557.7L317.8 558L319.3 558.4L320.7 558.9L321.9 559.4L323.1 560L324.1 560.6L324.9 561.2L325.6 561.9L326.2 562.6L326.5 563.3L327 565L327.2 565.8L327.2 566.5L327.1 567.3L326.7 568L326.2 568.7L325.5 569.4L324.7 570.1L323.7 570.7L322.6 571.3L321.3 571.8L319.9 572.3L318.4 572.7L316.8 573.1L315.1 573.4L313.3 573.6L311.5 573.8L307.9 573.9L304.3 573.7L300.8 573.2L299.2 572.8L296.2 572L293.7 570.9L291.8 569.6L291.1 568.9L290.6 568.2L290.2 567.5L290 566.7Z" fill="#cfcfcf"/>
<path d="M290.4 564.2L290.9 562.4L291.1 561.7L291.4 561L291.9 560.4L292.5 559.7L293.3 559.1L294.3 558.5L295.4 557.9L296.6 557.4L297.9 557L299.3 556.6L300.9 556.2L302.5 555.9L304.1 555.7L307.5 555.5L311 555.5L314.4 555.9L316 556.1L319 556.8L321.6 557.8L322.7 558.3L323.7 558.9L324.5 559.5L325.2 560.2L325.7 560.9L326.1 561.6L326.3 562.3L326.7 564L326.8 564.7L326.6 565.4L326.3 566.2L325.8 566.9L324.3 568.2L323.3 568.8L322.2 569.4L319.6 570.4L318.1 570.8L316.5 571.1L314.9 571.4L313.2 571.6L311.5 571.8L309.7 571.9L307.9 571.9L306.1 571.8L304.4 571.7L302.7 571.5L301 571.2L299.4 570.9L297.9 570.5L296.5 570L295.3 569.5L294.1 568.9L293.1 568.3L292.3 567.7L291.6 567L291 566.3L290.7 565.6L290.5 564.9Z" fill="#d1d1d1"/>
<path d="M290.9 562.4L291.5 560.1L291.9 559.4L292.3 558.7L293.7 557.5L295.7 556.3L298.2 555.4L299.6 555L302.6 554.4L304.2 554.2L305.9 554.1L307.6 554L310.9 554L312.6 554.2L314.2 554.4L315.8 554.6L317.3 554.9L318.7 555.3L320 555.7L321.2 556.2L322.3 556.7L323.3 557.3L324.1 557.9L325.3 559.2L325.6 559.9L326.1 561.6L326.3 562.3L326.3 563L326.1 563.7L325.8 564.4L325.3 565.1L324.7 565.7L323.9 566.3L322.9 566.9L321.8 567.5L320.6 568L319.3 568.5L317.9 568.9L316.3 569.2L314.7 569.5L313.1 569.7L309.7 569.9L306.2 569.9L304.5 569.7L302.8 569.5L301.2 569.3L298.2 568.6L296.9 568.1L295.6 567.6L294.5 567.1L293.5 566.5L292.7 565.9L292 565.2L291.5 564.5L291.1 563.9L290.9 563.1Z" fill="#d3d3d3"/>
<path d="M291.4 560.7L291.5 560.1L292 558.4L292.3 557.8L292.8 557.1L293.4 556.5L295 555.3L297.2 554.3L299.8 553.5L302.8 552.9L304.4 552.7L307.6 552.5L309.2 552.5L310.9 552.6L312.5 552.7L314.1 552.9L315.6 553.1L317 553.4L318.4 553.8L319.7 554.2L320.9 554.7L321.9 555.2L322.9 555.8L323.7 556.4L324.3 557L324.8 557.6L325.1 558.3L325.3 558.9L325.6 559.9L325.8 560.6L325.8 561.3L325.7 561.9L325.3 562.6L324.9 563.3L323.5 564.5L321.5 565.7L320.3 566.2L319 566.6L317.6 567L314.6 567.6L313 567.8L309.6 568L306.3 568L304.6 567.8L303 567.6L301.4 567.4L299.9 567.1L298.5 566.7L297.2 566.3L296 565.8L294.9 565.3L293.9 564.7L293.1 564.1L292.5 563.5L291.9 562.8L291.6 562.1L291.4 561.4Z" fill="#d5d5d5"/>
<path d="M291.9 559.1L292 558.4L292.5 556.9L292.8 556.2L293.2 555.6L293.8 555L294.6 554.4L295.4 553.9L296.4 553.4L297.6 552.9L298.8 552.5L300.1 552.1L301.5 551.8L303 551.5L304.5 551.3L306 551.2L307.6 551.1L309.2 551.1L312.4 551.3L315.4 551.7L316.8 552L318.1 552.4L319.4 552.8L320.5 553.2L321.6 553.7L322.5 554.3L323.2 554.8L323.8 555.4L324.3 556.1L324.7 556.7L325.3 558.9L325.3 559.6L325.2 560.3L324.9 560.9L324.4 561.6L323.8 562.2L322.2 563.4L321.1 563.9L320 564.4L317.4 565.2L314.4 565.8L312.8 566L309.6 566.2L308 566.2L306.3 566.1L304.7 566L303.1 565.8L301.6 565.6L300.2 565.3L298.8 564.9L297.5 564.5L296.3 564L295.3 563.5L294.3 562.9L293.5 562.3L292.9 561.7L292.4 561.1L292.1 560.4L291.9 559.8Z" fill="#d7d7d7"/>
<path d="M292.4 557.5L292.5 556.9L293 555.3L293.3 554.7L293.7 554.1L294.3 553.5L295.8 552.4L296.8 551.9L297.9 551.5L300.3 550.7L301.7 550.4L303.1 550.2L306.1 549.8L310.7 549.8L312.3 549.9L313.8 550.1L315.2 550.3L316.6 550.6L317.9 551L319.1 551.4L320.2 551.8L321.2 552.3L322 552.8L322.8 553.4L323.4 554L323.9 554.6L324.2 555.2L324.4 555.8L324.7 556.7L324.8 557.3L324.8 558L324.7 558.6L324.4 559.3L324 559.9L323.4 560.5L322.6 561.1L321.8 561.6L320.8 562.1L319.6 562.6L318.4 563L317.1 563.4L315.7 563.7L314.2 564L312.7 564.2L311.2 564.3L309.6 564.4L308 564.4L304.8 564.2L301.8 563.8L300.4 563.5L297.8 562.7L296.7 562.3L295.6 561.8L294.7 561.2L294 560.7L293.4 560.1L292.9 559.4L292.5 558.8L292.4 558.2Z" fill="#d9d9d9"/>
<path d="M292.8 556L293 555.3L293.4 553.9L293.7 553.3L294.1 552.7L294.7 552.1L296.2 551L298.2 550.1L299.4 549.7L300.6 549.4L301.9 549.1L303.3 548.8L306.2 548.5L310.7 548.5L312.2 548.6L313.6 548.8L315 549L316.3 549.3L317.6 549.6L318.8 550L319.8 550.4L320.8 550.9L321.6 551.4L322.4 552L323 552.5L323.4 553.1L323.7 553.7L323.9 554.3L324.4 555.8L324.4 556.4L324.2 557.1L323.9 557.7L323.5 558.3L322.9 558.9L321.4 560L320.4 560.5L319.3 560.9L316.9 561.7L315.5 562L314.1 562.2L311.1 562.6L306.5 562.6L304.9 562.5L303.4 562.3L302 562.1L300.6 561.8L299.3 561.4L298.1 561L297 560.6L296 560.1L295.2 559.6L294.4 559L293.8 558.4L293.3 557.8L293 557.2L292.8 556.6Z" fill="#dbdbdb"/>
<path d="M293.3 554.5L293.4 553.9L293.9 552.4L294.2 551.9L294.6 551.3L295.1 550.7L295.8 550.2L296.6 549.7L297.5 549.2L298.5 548.8L299.6 548.4L300.8 548.1L302.1 547.8L304.8 547.4L307.7 547.2L309.2 547.2L310.6 547.3L313.4 547.5L314.8 547.7L316.1 548L317.3 548.3L319.5 549.1L320.4 549.6L321.2 550.1L321.9 550.6L322.5 551.1L322.9 551.7L323.2 552.3L323.7 553.7L323.9 554.3L323.9 554.9L323.8 555.5L323.5 556.1L323.1 556.7L322.5 557.3L321 558.4L319 559.3L317.8 559.7L316.6 560L315.3 560.3L313.9 560.6L311 560.9L306.5 560.9L305 560.8L303.6 560.6L302.2 560.4L300.9 560.1L299.6 559.8L298.4 559.4L297.4 559L296.4 558.5L295.6 558L294.8 557.4L294.2 556.9L293.8 556.3L293.5 555.7L293.3 555.1Z" fill="#dddddd"/>
<path d="M293.8 553L293.9 552.4L294.6 550.5L295 550L295.6 549.4L296.2 548.9L297 548.4L297.9 548L299.9 547.2L301.1 546.9L302.3 546.6L303.6 546.4L305 546.2L306.3 546.1L307.7 546L309.1 546L310.6 546.1L313.3 546.3L314.6 546.5L315.8 546.8L317 547.1L318.1 547.5L319.1 547.9L320 548.3L320.8 548.8L321.5 549.3L322.1 549.8L322.5 550.4L322.8 550.9L323.4 552.9L323.4 553.5L323.3 554.1L323 554.6L322.6 555.2L322.1 555.8L321.4 556.3L320.6 556.8L319.7 557.3L318.7 557.7L317.6 558.1L316.4 558.4L315.1 558.7L312.4 559.1L309.5 559.3L308 559.3L306.6 559.2L305.2 559.1L303.8 559L302.4 558.8L301.1 558.5L299.9 558.2L297.7 557.4L296.8 556.9L296 556.4L295.3 555.9L294.7 555.4L294.3 554.8L294 554.2L293.8 553.6Z" fill="#dfdfdf"/>
<path d="M294.3 551.6L294.4 551.1L294.6 550.5L295.1 549.2L295.5 548.7L296 548.2L296.6 547.7L297.4 547.2L298.2 546.8L300.2 546L301.3 545.7L302.5 545.4L305.1 545L306.4 544.9L310.5 544.9L311.8 545L314.4 545.4L315.6 545.6L316.7 545.9L317.8 546.3L318.8 546.7L319.6 547.1L320.4 547.5L321.1 548L321.6 548.5L322 549.1L322.3 549.6L322.8 550.9L322.9 551.5L322.9 552.1L322.8 552.6L322.6 553.2L322.2 553.8L321.6 554.3L321 554.8L320.2 555.3L319.3 555.7L317.3 556.5L314.9 557.1L313.6 557.3L312.2 557.5L310.9 557.6L309.5 557.7L306.6 557.7L305.3 557.6L303.9 557.4L302.6 557.2L300.2 556.6L299.1 556.2L298.1 555.8L297.2 555.4L296.4 554.9L295.7 554.4L295.1 553.9L294.7 553.4L294.4 552.8L294.3 552.2Z" fill="#e1e1e1"/>
<path d="M294.7 550.3L295.3 548.5L295.9 547.5L296.4 547L297 546.5L297.8 546L298.6 545.6L299.5 545.2L300.5 544.9L302.7 544.3L305.2 543.9L306.5 543.8L310.4 543.8L311.7 543.9L313 544.1L314.2 544.3L315.4 544.5L316.5 544.8L317.5 545.1L319.3 545.9L320.6 546.8L321.2 547.3L321.6 547.8L322.3 549.6L322.5 550.7L322.3 551.3L322.1 551.8L321.7 552.4L321.2 552.9L320.6 553.4L319 554.3L318 554.7L317 555L315.9 555.3L314.7 555.6L312.1 556L310.8 556.1L309.4 556.2L308.1 556.2L306.7 556.1L305.4 556L304.1 555.9L302.8 555.7L301.6 555.4L300.5 555.1L299.4 554.8L298.4 554.4L296.8 553.5L296.1 553L295.6 552.5L295.2 552L294.9 551.4L294.8 550.9Z" fill="#e3e3e3"/>
<path d="M295.2 549L295.3 548.5L296 546.8L296.4 546.3L296.9 545.8L297.5 545.3L298.1 544.9L298.9 544.5L299.8 544.1L300.8 543.8L301.8 543.5L304.1 543.1L305.3 542.9L307.8 542.7L309.1 542.7L310.4 542.8L311.6 542.9L312.8 543L314 543.2L315.1 543.4L316.2 543.7L317.2 544L318.1 544.4L318.9 544.8L319.6 545.2L320.2 545.7L320.7 546.2L321.1 546.7L321.4 547.2L322 548.9L322 549.4L321.9 550L321.6 550.5L321.3 551L320.8 551.5L320.2 552L318.6 552.9L316.7 553.6L315.6 553.9L313.2 554.4L312 554.5L309.4 554.7L308.1 554.7L304.2 554.4L303 554.2L301.8 554L300.7 553.7L298.8 553L297.9 552.5L297.2 552.1L296 551.1L295.6 550.6L295.4 550.1L295.2 549.6Z" fill="#e5e5e5"/>
<path d="M295.7 547.8L295.8 547.3L296 546.8L296.5 545.6L296.8 545.2L297.3 544.7L298.5 543.8L300.2 543.1L301.1 542.8L302.1 542.5L303.2 542.3L305.4 541.9L306.6 541.8L309.1 541.7L310.3 541.8L312.7 542L314.9 542.4L315.9 542.7L316.8 543L318.5 543.7L319.8 544.6L320.3 545.1L320.6 545.5L320.9 546L321.4 547.2L321.5 547.7L321.5 548.2L321.4 548.7L321.2 549.2L320.8 549.7L320.3 550.2L319.7 550.7L319.1 551.1L318.3 551.5L317.4 551.9L316.4 552.2L315.4 552.5L313.1 552.9L311.9 553.1L309.4 553.3L308.1 553.3L306.8 553.2L304.4 553L303.2 552.8L302.1 552.6L301 552.3L299.1 551.6L298.3 551.2L297.6 550.8L297 550.3L296.5 549.8L296.1 549.3L295.8 548.8L295.7 548.3Z" fill="#e7e7e7"/>
<path d="M296.2 546.6L296.3 546.1L296.5 545.6L297 544.5L297.2 544.1L297.5 543.6L298.5 542.7L299.8 542L301.5 541.3L303.5 540.9L304.5 540.7L305.6 540.5L306.8 540.4L310.2 540.4L311.3 540.5L312.4 540.6L313.5 540.8L314.5 541L315.5 541.3L316.4 541.6L317.2 541.9L318.6 542.6L319.6 543.5L319.9 543.9L320.2 544.4L320.9 546L321 546.5L321 547L320.9 547.5L320.7 548L320.4 548.5L319.3 549.4L318.7 549.8L317.9 550.2L316.1 550.9L314 551.4L312.9 551.6L311.8 551.7L310.6 551.8L309.3 551.9L306.9 551.9L305.7 551.8L304.5 551.6L302.3 551.2L301.3 550.9L300.4 550.6L299.5 550.3L298.7 549.9L298 549.5L296.9 548.6L296.3 547.6L296.2 547.1Z" fill="#e9e9e9"/>
<path d="M296.9 545L297 544.5L297.7 543.1L298 542.6L298.4 542.2L298.9 541.8L299.5 541.4L300.2 541.1L301 540.8L301.8 540.5L302.7 540.2L304.7 539.8L306.8 539.6L307.9 539.5L309 539.5L312.3 539.8L313.3 539.9L315.2 540.4L316.1 540.7L317.6 541.3L318.2 541.7L318.7 542.1L319.1 542.5L319.5 542.9L320.2 544.4L320.3 544.9L320.3 545.3L320.2 545.8L320 546.3L319.7 546.7L318.7 547.6L318.1 548L316.6 548.7L315.7 549L313.7 549.5L311.6 549.8L310.4 549.9L307 549.9L304.8 549.7L303.7 549.5L302.7 549.3L301.7 549L300.8 548.7L300 548.4L299.3 548.1L298.6 547.7L298.1 547.3L297.6 546.8L297.3 546.4L297 545.9L296.9 545.5Z" fill="#ebebeb"/>
<path d="M297.4 543.9L297.5 543.5L297.9 542.5L298.1 542.1L298.4 541.7L298.8 541.3L299.3 540.9L300.5 540.2L301.3 539.9L302.1 539.6L303 539.4L303.9 539.2L304.9 539L306.9 538.8L308 538.7L309 538.7L310.1 538.8L313.1 539.1L314 539.3L315.7 539.8L316.5 540.1L317.8 540.8L318.3 541.2L318.7 541.6L319 542L319.5 542.9L319.7 543.4L319.8 543.8L319.8 544.3L319.7 544.7L319.5 545.2L319.2 545.6L318.8 546L318.3 546.4L317.7 546.8L317 547.2L315.4 547.8L314.5 548L313.5 548.2L312.5 548.4L311.4 548.6L309.3 548.7L307.1 548.7L304.9 548.5L302.9 548.1L301.1 547.6L299.6 546.9L299 546.5L298.5 546.1L298.1 545.7L297.7 545.3L297.5 544.8L297.4 544.4Z" fill="#ededed"/>
<path d="M297.8 543L297.9 542.5L298.1 542.1L298.6 541.2L298.9 540.8L299.7 540.1L300.3 539.7L300.9 539.4L301.6 539.1L303.2 538.6L304.1 538.4L306 538.1L308 538L310 538L312 538.2L312.9 538.4L313.8 538.6L314.6 538.8L316.1 539.3L317.4 540L318.2 540.7L318.8 541.5L319.2 542.4L319.4 543.3L319.3 543.7L319.1 544.1L318.8 544.6L318.4 545L317.3 545.7L316.7 546L315.1 546.6L314.2 546.9L313.3 547.1L311.3 547.4L310.3 547.5L307.1 547.5L305.1 547.3L304.1 547.1L302.3 546.7L300.7 546.1L300 545.8L298.9 545.1L298.5 544.7L298.2 544.3L298 543.8L297.9 543.4Z" fill="#eeeeee"/>
<path d="M298.3 542L298.4 541.6L298.6 541.2L300.5 538.2L300.7 537.9L301 537.6L301.4 537.3L301.8 537L302.9 536.5L303.5 536.3L304.9 535.9L305.7 535.8L307.3 535.6L309.7 535.6L311.3 535.8L312.1 535.9L313.5 536.3L314.2 536.5L314.7 536.7L315.3 537L315.7 537.2L316.1 537.5L316.4 537.8L316.7 538.1L318.8 541.5L318.9 541.9L318.9 542.4L318.8 542.8L318.6 543.2L318.3 543.6L317.5 544.3L316.9 544.7L316.3 545L315.6 545.3L314 545.8L313.1 546L311.2 546.3L309.2 546.4L307.2 546.4L305.2 546.2L303.4 545.8L302.6 545.6L301.1 545.1L299.8 544.4L299 543.7L298.4 542.9L298.3 542.5Z" fill="#ffffff"/>
<path d="M300.2 538.9L300.3 538.6L300.5 538.2L300.7 537.9L302.5 535.8L302.7 535.6L303.4 535.1L303.8 534.9L304.2 534.7L305.2 534.4L305.8 534.3L307 534.1L308.2 534L308.8 534L310.1 534.1L311.3 534.3L311.9 534.4L312.4 534.5L312.9 534.7L313.3 534.9L314.1 535.3L314.4 535.5L314.7 535.8L316.7 538.1L316.9 538.5L317 538.8L317 539.1L316.9 539.5L316.5 540.1L316.2 540.4L315.8 540.7L315.4 541L314.9 541.3L314.3 541.5L313.7 541.7L312.3 542.1L311.5 542.2L309.9 542.4L307.5 542.4L305.9 542.3L304.4 542L303 541.6L301.9 541.1L301.1 540.5L300.8 540.2L300.5 539.9L300.3 539.6L300.2 539.2Z" fill="#ffffff"/>
<path d="M302.1 536.6L302.2 536.3L302.3 536.1L302.5 535.8L302.7 535.6L304.9 534L305.9 533.6L306.2 533.5L307.4 533.3L309.7 533.3L310.5 533.4L311.3 533.6L311.6 533.7L312.5 534.1L314.4 535.5L314.7 535.8L315 536.3L315.1 536.8L314.9 537.3L314.5 537.8L314.2 538L313.8 538.2L313 538.6L312.5 538.8L310.8 539.2L309.6 539.3L307.7 539.3L306.5 539.2L305.9 539.1L305.3 539L304.3 538.7L303.1 538.1L302.5 537.6L302.2 537.1Z" fill="#ffffff"/>
<path d="M304.1 534.9L304.3 534.5L304.9 534L305.9 533.6L306.2 533.5L307.2 533.3L307.9 533.2L309.5 533.2L310.5 533.4L311.3 533.6L311.6 533.7L312.5 534.1L312.7 534.3L313 534.6L313.1 534.8L313.1 535.4L313 535.6L312.5 536.1L312 536.4L311.7 536.5L311 536.7L310.2 536.9L309.3 537L308 537L307.1 536.9L306.3 536.7L305.9 536.6L305.3 536.4L304.7 536.1L304.3 535.8L304.2 535.6L304.1 535.4Z" fill="#ffffff"/>
<path d="M306 534L306.2 533.8L306.3 533.7L306.6 533.5L307.2 533.3L307.9 533.2L309.5 533.2L309.9 533.3L310.5 533.5L310.7 533.6L311 533.8L311.1 533.9L311.2 534.1L311.2 534.5L311.1 534.6L311 534.7L310.9 534.8L310.6 535L310 535.2L309.5 535.3L307.7 535.3L307.3 535.2L306.9 535.1L306.5 534.9L306.2 534.7L306.1 534.6L306 534.4Z" fill="#ffffff"/>
<path d="M307.9 533.8L308.1 533.7L309.1 533.7L309.3 533.8L309.3 534.1L309.1 534.2L308.1 534.2L307.9 534.1Z" fill="#ffffff"/>
<rect x="297" y="543.6" width="24" height="6" fill="#eeeeee"/>
<rect x="295" y="529.6" width="28" height="14" fill="#fff"/>
<line x1="94.2" y1="505.9" x2="94.2" y2="722" class="ax"/>
<line x1="86.5" y1="505.5" x2="94.2" y2="505.5" class="ax"/>
<line x1="86.5" y1="614.4" x2="94.2" y2="614.4" class="ax"/>
<line x1="86.5" y1="722" x2="96" y2="722" class="ax"/>
<text x="82.7" y="513" text-anchor="end">1.0</text>
<text x="82.5" y="620.5" text-anchor="end">0.5</text>
<text x="83" y="726.7" text-anchor="end">0.0</text>
<text x="112.5" y="544" text-anchor="start">b</text>
<text x="125.3" y="769" text-anchor="end">20</text>
<text x="177.7" y="799" text-anchor="end">0</text>
<text x="226.7" y="822.3" text-anchor="end">&#8722;20</text>
<text x="374.4" y="830.8" text-anchor="end">&#8722;20</text>
<text x="421.7" y="812.7" text-anchor="end">0</text>
<text x="508.7" y="790.7" text-anchor="end">20</text>
<text transform="translate(117,811) rotate(28)"><tspan font-style="italic">y</tspan>/mm</text>
<text transform="translate(398.5,846.5) rotate(-16.5)"><tspan font-style="italic">x</tspan>/mm</text>
<text transform="translate(28.9,744) rotate(-90)">light intensity/(W&#183;m<tspan font-size="18" dy="-9.5">&#8722;2</tspan><tspan dy="9.5">)</tspan></text>
<text x="617.6" y="457.6" text-anchor="start">0.9</text>
<text x="617.6" y="496.1" text-anchor="start">0.8</text>
<text x="617.6" y="534.6" text-anchor="start">0.7</text>
<text x="617.6" y="573.1" text-anchor="start">0.6</text>
<text x="617.6" y="611.6" text-anchor="start">0.5</text>
<text x="617.6" y="650.1" text-anchor="start">0.4</text>
<text x="617.6" y="688.6" text-anchor="start">0.3</text>
<text x="617.6" y="727.1" text-anchor="start">0.2</text>
<text x="617.6" y="765.6" text-anchor="start">0.1</text>
<text transform="translate(692.5,734.6) rotate(-90)">light intensity/(W&#183;m<tspan font-size="18" dy="-9.5">&#8722;2</tspan><tspan dy="9.5">)</tspan></text>
<line x1="135.5" y1="745.8" x2="129" y2="749.2" class="ft"/>
<line x1="184.5" y1="772.8" x2="178.5" y2="776.6" class="ft"/>
<line x1="234.5" y1="799.6" x2="229" y2="802.2" class="ft"/>
<defs><linearGradient id="gb" x1="0" y1="1" x2="0" y2="0"><stop offset="0" stop-color="#1b1b1b"/><stop offset="0.02" stop-color="#1e1e1e"/><stop offset="0.04" stop-color="#212121"/><stop offset="0.06" stop-color="#242424"/><stop offset="0.08" stop-color="#272727"/><stop offset="0.1" stop-color="#2a2a2a"/><stop offset="0.12" stop-color="#2e2e2e"/><stop offset="0.14" stop-color="#323232"/><stop offset="0.16" stop-color="#363636"/><stop offset="0.18" stop-color="#3a3a3a"/><stop offset="0.2" stop-color="#3e3e3e"/><stop offset="0.22" stop-color="#434343"/><stop offset="0.24" stop-color="#484848"/><stop offset="0.26" stop-color="#4e4e4e"/><stop offset="0.28" stop-color="#535353"/><stop offset="0.3" stop-color="#585858"/><stop offset="0.32" stop-color="#5d5d5d"/><stop offset="0.34" stop-color="#626262"/><stop offset="0.36" stop-color="#666666"/><stop offset="0.38" stop-color="#6b6b6b"/><stop offset="0.4" stop-color="#707070"/><stop offset="0.42" stop-color="#767676"/><stop offset="0.44" stop-color="#7c7c7c"/><stop offset="0.46" stop-color="#828282"/><stop offset="0.48" stop-color="#888888"/><stop offset="0.5" stop-color="#8e8e8e"/><stop offset="0.52" stop-color="#939393"/><stop offset="0.54" stop-color="#989898"/><stop offset="0.56" stop-color="#9e9e9e"/><stop offset="0.58" stop-color="#a3a3a3"/><stop offset="0.6" stop-color="#a8a8a8"/><stop offset="0.62" stop-color="#acacac"/><stop offset="0.64" stop-color="#b1b1b1"/><stop offset="0.66" stop-color="#b5b5b5"/><stop offset="0.68" stop-color="#bababa"/><stop offset="0.7" stop-color="#bebebe"/><stop offset="0.72" stop-color="#c2c2c2"/><stop offset="0.74" stop-color="#c6c6c6"/><stop offset="0.76" stop-color="#cacaca"/><stop offset="0.78" stop-color="#cfcfcf"/><stop offset="0.8" stop-color="#d4d4d4"/><stop offset="0.82" stop-color="#dadada"/><stop offset="0.84" stop-color="#dfdfdf"/><stop offset="0.86" stop-color="#e6e6e6"/><stop offset="0.88" stop-color="#ededed"/><stop offset="0.897" stop-color="#f3f3f3"/><stop offset="0.9" stop-color="#ffffff"/><stop offset="1" stop-color="#ffffff"/></linearGradient><linearGradient id="gbb" x1="0" y1="1" x2="0" y2="0"><stop offset="0" stop-color="#262626"/><stop offset="0.4" stop-color="#5e5e5e"/><stop offset="0.6" stop-color="#7a7a7a"/><stop offset="1" stop-color="#858585"/></linearGradient></defs>
<rect x="561" y="433.7" width="41.8" height="388" fill="url(#gb)" stroke="url(#gbb)" stroke-width="3.3"/>
<line x1="561" y1="471.6" x2="565" y2="471.6" class="cbt"/>
<line x1="598.8" y1="471.6" x2="602.8" y2="471.6" class="cbt"/>
<line x1="561" y1="510.7" x2="565" y2="510.7" class="cbt"/>
<line x1="598.8" y1="510.7" x2="602.8" y2="510.7" class="cbt"/>
<line x1="561" y1="549.8" x2="565" y2="549.8" class="cbt"/>
<line x1="598.8" y1="549.8" x2="602.8" y2="549.8" class="cbt"/>
<line x1="561" y1="588.9" x2="565" y2="588.9" class="cbt"/>
<line x1="598.8" y1="588.9" x2="602.8" y2="588.9" class="cbt"/>
<line x1="561" y1="628" x2="565" y2="628" class="cbt"/>
<line x1="598.8" y1="628" x2="602.8" y2="628" class="cbt"/>
<line x1="561" y1="667.1" x2="565" y2="667.1" class="cbt"/>
<line x1="598.8" y1="667.1" x2="602.8" y2="667.1" class="cbt"/>
<line x1="561" y1="706.2" x2="565" y2="706.2" class="cbt"/>
<line x1="598.8" y1="706.2" x2="602.8" y2="706.2" class="cbt"/>
<line x1="561" y1="745.3" x2="565" y2="745.3" class="cbt"/>
<line x1="598.8" y1="745.3" x2="602.8" y2="745.3" class="cbt"/>
<line x1="561" y1="784.4" x2="565" y2="784.4" class="cbt"/>
<line x1="598.8" y1="784.4" x2="602.8" y2="784.4" class="cbt"/>
</svg></body></html>
